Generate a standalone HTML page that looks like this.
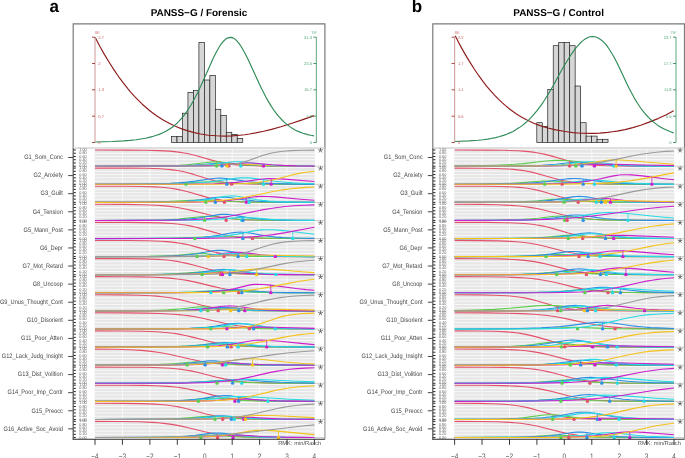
<!DOCTYPE html>
<html><head><meta charset="utf-8"><style>html,body{margin:0;padding:0;background:#fff;width:685px;height:458px;overflow:hidden}</style></head>
<body><svg width="685" height="458" viewBox="0 0 685 458" style="display:block;will-change:transform;text-rendering:geometricPrecision"><rect width="685" height="458" fill="#fff"/><text x="49.6" y="12.3" font-family="'Liberation Sans', sans-serif" font-weight="bold" font-size="17" fill="#000">a</text><text x="199.0" y="16.2" text-anchor="middle" font-family="'Liberation Sans', sans-serif" font-weight="bold" font-size="9.95" fill="#000">PANSS&#8722;G / Forensic</text><path d="M73.2 148.0 V23.9 H324.9 V148.0" fill="none" stroke="#7a7a7a" stroke-width="1.2"/><line x1="73.2" y1="148.0" x2="324.9" y2="148.0" stroke="#d4d4d4" stroke-width="1.4"/><rect x="171.50" y="136.4" width="5.48" height="6.00" fill="#d6d6d6" stroke="#222" stroke-width="0.7"/><rect x="176.98" y="136.4" width="5.48" height="6.00" fill="#d6d6d6" stroke="#222" stroke-width="0.7"/><rect x="182.46" y="113.2" width="5.48" height="29.20" fill="#d6d6d6" stroke="#222" stroke-width="0.7"/><rect x="187.94" y="92.4" width="5.48" height="50.00" fill="#d6d6d6" stroke="#222" stroke-width="0.7"/><rect x="193.42" y="90.4" width="5.48" height="52.00" fill="#d6d6d6" stroke="#222" stroke-width="0.7"/><rect x="198.90" y="42.4" width="5.48" height="100.00" fill="#d6d6d6" stroke="#222" stroke-width="0.7"/><rect x="204.38" y="80" width="5.48" height="62.40" fill="#d6d6d6" stroke="#222" stroke-width="0.7"/><rect x="209.86" y="75.6" width="5.48" height="66.80" fill="#d6d6d6" stroke="#222" stroke-width="0.7"/><rect x="215.34" y="109.3" width="5.48" height="33.10" fill="#d6d6d6" stroke="#222" stroke-width="0.7"/><rect x="220.82" y="115.4" width="5.48" height="27.00" fill="#d6d6d6" stroke="#222" stroke-width="0.7"/><rect x="226.30" y="132.3" width="5.48" height="10.10" fill="#d6d6d6" stroke="#222" stroke-width="0.7"/><rect x="231.78" y="134.4" width="5.48" height="8.00" fill="#d6d6d6" stroke="#222" stroke-width="0.7"/><rect x="237.26" y="138.4" width="5.48" height="4.00" fill="#d6d6d6" stroke="#222" stroke-width="0.7"/><polyline fill="none" stroke="#8e1b1b" stroke-width="1.15" stroke-linejoin="round" points="95.1,37.2 99.8,46.2 104.5,54.6 109.3,62.5 114,69.9 118.7,76.8 123.5,83.2 128.2,89.1 131.3,92.8 134.5,96.3 139.2,101.2 142.3,104.2 145.5,107 148.6,109.7 151.8,112.2 156.5,115.7 162.8,119.8 169.1,123.3 175.4,126.3 181.7,128.9 188,130.9 194.3,132.6 200.6,134 203.8,134.5 208.5,135.2 216.4,135.8 224.2,136.1 232.1,135.9 240,135.2 244.7,134.7 249.4,134 255.7,132.9 263.6,131.3 271.5,129.4 280.9,126.8 291.9,123.3 301.4,120.1 314,115.6"/><polyline fill="none" stroke="#2e8b57" stroke-width="1.15" stroke-linejoin="round" points="95.1,142 112.4,141.5 123.5,140.9 129.8,140.4 136.1,139.7 140.8,139 145.5,138.2 150.2,137.1 153.4,136.3 156.5,135.3 159.7,134.1 162.8,132.8 166,131.2 169.1,129.3 172.3,127.2 175.4,124.6 177,123.2 178.6,121.7 181.7,118.2 184.9,114.3 186.4,112.1 189.6,107.3 191.2,104.8 194.3,99.1 197.5,93 202.2,83 210.1,65.2 213.2,58.3 216.4,52 219.5,46.5 221.1,44.2 222.7,42.1 224.2,40.5 225.8,39.1 227.4,38.1 229,37.6 230.5,37.4 232.1,37.6 233.7,38.3 235.3,39.4 236.8,40.9 238.4,42.7 240,44.8 241.6,47.2 244.7,52.8 247.9,59.1 258.9,83 262,89.6 265.2,95.7 268.3,101.4 271.5,106.6 274.6,111.2 277.8,115.3 279.4,117.2 282.5,120.5 285.6,123.4 288.8,125.9 291.9,128.1 293.5,129 295.1,129.9 298.2,131.4 303,133.2 307.7,134.6 310.9,135.3 314,135.9"/><line x1="95.0" y1="37.2" x2="95.0" y2="142.5" stroke="#d6a9a9" stroke-width="1.2"/><line x1="92.0" y1="37.2" x2="95.0" y2="37.2" stroke="#9b3535" stroke-width="0.9"/><text x="98.3" y="38.6" font-family="'Liberation Sans', sans-serif" font-size="4.1" fill="#c45c5c">2.7</text><line x1="92.0" y1="63.5" x2="95.0" y2="63.5" stroke="#9b3535" stroke-width="0.9"/><text x="98.3" y="64.9" font-family="'Liberation Sans', sans-serif" font-size="4.1" fill="#c45c5c">2</text><line x1="92.0" y1="89.8" x2="95.0" y2="89.8" stroke="#9b3535" stroke-width="0.9"/><text x="98.3" y="91.2" font-family="'Liberation Sans', sans-serif" font-size="4.1" fill="#c45c5c">1.3</text><line x1="92.0" y1="116.2" x2="95.0" y2="116.2" stroke="#9b3535" stroke-width="0.9"/><text x="98.3" y="117.6" font-family="'Liberation Sans', sans-serif" font-size="4.1" fill="#c45c5c">0.7</text><line x1="92.0" y1="142.5" x2="95.0" y2="142.5" stroke="#9b3535" stroke-width="0.9"/><text x="98.3" y="143.9" font-family="'Liberation Sans', sans-serif" font-size="4.1" fill="#c45c5c">0</text><text x="94.8" y="34.400000000000006" font-family="'Liberation Sans', sans-serif" font-size="3.8" fill="#c45c5c">SE</text><line x1="316.4" y1="37.2" x2="316.4" y2="142.5" stroke="#79b690" stroke-width="1.2"/><line x1="313.4" y1="37.2" x2="316.4" y2="37.2" stroke="#3a8a5c" stroke-width="0.9"/><text x="312.0" y="38.6" text-anchor="end" font-family="'Liberation Sans', sans-serif" font-size="4.1" fill="#4ea673">31.3</text><line x1="313.4" y1="63.5" x2="316.4" y2="63.5" stroke="#3a8a5c" stroke-width="0.9"/><text x="312.0" y="64.9" text-anchor="end" font-family="'Liberation Sans', sans-serif" font-size="4.1" fill="#4ea673">23.5</text><line x1="313.4" y1="89.8" x2="316.4" y2="89.8" stroke="#3a8a5c" stroke-width="0.9"/><text x="312.0" y="91.2" text-anchor="end" font-family="'Liberation Sans', sans-serif" font-size="4.1" fill="#4ea673">15.7</text><line x1="313.4" y1="116.2" x2="316.4" y2="116.2" stroke="#3a8a5c" stroke-width="0.9"/><text x="312.0" y="117.6" text-anchor="end" font-family="'Liberation Sans', sans-serif" font-size="4.1" fill="#4ea673">7.8</text><line x1="313.4" y1="142.5" x2="316.4" y2="142.5" stroke="#3a8a5c" stroke-width="0.9"/><text x="312.0" y="143.9" text-anchor="end" font-family="'Liberation Sans', sans-serif" font-size="4.1" fill="#4ea673">0</text><text x="316.9" y="34.400000000000006" text-anchor="end" font-family="'Liberation Sans', sans-serif" font-size="3.8" fill="#4ea673">TIF</text><rect x="94.7" y="149.51" width="220.0" height="17.17" fill="#e6e6e6"/><line x1="94.7" x2="314.7" y1="162.96" y2="162.96" stroke="#fafafa" stroke-width="0.9"/><line x1="94.7" x2="314.7" y1="159.72" y2="159.72" stroke="#fafafa" stroke-width="0.9"/><line x1="94.7" x2="314.7" y1="156.48" y2="156.48" stroke="#fafafa" stroke-width="0.9"/><line x1="94.7" x2="314.7" y1="153.24" y2="153.24" stroke="#fafafa" stroke-width="0.9"/><line x1="122.4" x2="122.4" y1="149.51" y2="166.69" stroke="#fafafa" stroke-width="0.9"/><line x1="149.9" x2="149.9" y1="149.51" y2="166.69" stroke="#fafafa" stroke-width="0.9"/><line x1="177.3" x2="177.3" y1="149.51" y2="166.69" stroke="#fafafa" stroke-width="0.9"/><line x1="204.7" x2="204.7" y1="149.51" y2="166.69" stroke="#fafafa" stroke-width="0.9"/><line x1="232.2" x2="232.2" y1="149.51" y2="166.69" stroke="#fafafa" stroke-width="0.9"/><line x1="259.6" x2="259.6" y1="149.51" y2="166.69" stroke="#fafafa" stroke-width="0.9"/><line x1="287.0" x2="287.0" y1="149.51" y2="166.69" stroke="#fafafa" stroke-width="0.9"/><polyline fill="none" stroke="#e4506a" stroke-width="1.1" stroke-linejoin="round" points="95,150 127.9,150.1 145.7,150.2 159.5,150.6 169.1,151.1 174.5,151.6 178.7,152.1 184.1,153 188.3,153.7 192.4,154.7 196.5,155.7 211.6,160.1 218.4,161.8 222.5,162.7 226.7,163.5 230.8,164.1 234.9,164.6 240.4,165.1 245.9,165.4 259.6,165.9 278.8,166.1 314.4,166.2"/><polyline fill="none" stroke="#5cce4c" stroke-width="1.1" stroke-linejoin="round" points="95,166.2 145.7,166.1 160.8,165.9 171.8,165.6 180,165.2 186.9,164.7 193.7,164 208.8,162.2 212.9,161.9 215.7,161.8 218.4,161.9 222.5,162.2 236.3,163.9 243.1,164.6 250,165.1 256.8,165.5 266.4,165.8 277.4,166 314.4,166.2"/><polyline fill="none" stroke="#2b8fe6" stroke-width="1.1" stroke-linejoin="round" points="95,166.2 151.2,166.1 166.3,166 178.7,165.8 186.9,165.5 195.1,165.1 202,164.6 217.1,163.2 221.2,163 223.9,163 226.7,163 230.8,163.2 244.5,164.5 251.4,165 263.7,165.6 282.9,166 314.4,166.2"/><polyline fill="none" stroke="#f4c21a" stroke-width="1.1" stroke-linejoin="round" points="95,166.2 152.6,166.1 181.4,165.9 199.2,165.4 223.9,164 232.2,163.8 240.4,164 259.6,165.1 273.3,165.6 291.1,166 314.4,166.1"/><polyline fill="none" stroke="#26dbe3" stroke-width="1.1" stroke-linejoin="round" points="95,166.2 162.2,166.1 178.7,165.9 191,165.7 200.6,165.3 208.8,164.7 215.7,164 230.8,162 234.9,161.7 237.6,161.7 240.4,161.7 244.5,162 262.3,164.3 267.8,164.8 274.7,165.3 282.9,165.6 291.1,165.8 314.4,166.1"/><polyline fill="none" stroke="#cc1fcc" stroke-width="1.1" stroke-linejoin="round" points="95,166.2 170.4,166.1 188.3,166 200.6,165.9 210.2,165.6 218.4,165.2 226.7,164.6 241.8,163.2 245.9,163 248.6,163 251.4,163 255.5,163.2 271.9,164.7 282.9,165.4 296.6,165.9 314.4,166.1"/><polyline fill="none" stroke="#9a9a9a" stroke-width="1.1" stroke-linejoin="round" points="95,166.2 196.5,166.1 212.9,165.9 218.4,165.7 223.9,165.3 229.4,164.8 233.5,164.3 237.6,163.5 241.8,162.6 244.5,161.8 248.6,160.6 261,156.1 265.1,154.8 270.6,153.3 276,152.2 282.9,151.2 291.1,150.6 300.7,150.3 314.4,150.1"/><line x1="216.60" x2="216.60" y1="166.20" y2="161.83" stroke="#5cce4c" stroke-width="0.8"/><circle cx="216.60" cy="166.30" r="1.75" fill="#5cce4c"/><line x1="221.90" x2="221.90" y1="166.20" y2="162.98" stroke="#2b8fe6" stroke-width="0.8"/><circle cx="221.90" cy="166.30" r="1.75" fill="#2b8fe6"/><line x1="228.80" x2="228.80" y1="166.20" y2="163.81" stroke="#e4506a" stroke-width="0.8"/><circle cx="228.80" cy="166.30" r="1.75" fill="#e4506a"/><line x1="227.00" x2="227.00" y1="166.20" y2="163.85" stroke="#f4c21a" stroke-width="0.8"/><circle cx="227.00" cy="166.30" r="1.75" fill="#f4c21a"/><line x1="240.80" x2="240.80" y1="166.20" y2="161.75" stroke="#26dbe3" stroke-width="0.8"/><circle cx="240.80" cy="166.30" r="1.75" fill="#26dbe3"/><line x1="263.50" x2="263.50" y1="166.20" y2="163.95" stroke="#cc1fcc" stroke-width="0.8"/><circle cx="263.50" cy="166.30" r="1.75" fill="#cc1fcc"/><line x1="68.2" x2="73.2" y1="157.50" y2="157.50" stroke="#333" stroke-width="0.9"/><text transform="translate(62.9,159.30) scale(0.88,1)" text-anchor="end" font-family="'Liberation Sans', sans-serif" font-size="6.45" fill="#474747">G1_Som_Conc</text><line x1="73.2" x2="75.8" y1="150.00" y2="150.00" stroke="#222" stroke-width="1"/><text transform="translate(79.3,151.05) scale(1,0.78)" font-family="'Liberation Sans', sans-serif" font-size="3.8" fill="#606060" text-rendering="optimizeSpeed">1.00</text><line x1="73.2" x2="75.8" y1="153.24" y2="153.24" stroke="#222" stroke-width="1"/><text transform="translate(79.3,154.29) scale(1,0.78)" font-family="'Liberation Sans', sans-serif" font-size="3.8" fill="#606060" text-rendering="optimizeSpeed">0.80</text><line x1="73.2" x2="75.8" y1="156.48" y2="156.48" stroke="#222" stroke-width="1"/><text transform="translate(79.3,157.53) scale(1,0.78)" font-family="'Liberation Sans', sans-serif" font-size="3.8" fill="#606060" text-rendering="optimizeSpeed">0.60</text><line x1="73.2" x2="75.8" y1="159.72" y2="159.72" stroke="#222" stroke-width="1"/><text transform="translate(79.3,160.77) scale(1,0.78)" font-family="'Liberation Sans', sans-serif" font-size="3.8" fill="#606060" text-rendering="optimizeSpeed">0.40</text><line x1="73.2" x2="75.8" y1="162.96" y2="162.96" stroke="#222" stroke-width="1"/><text transform="translate(79.3,164.01) scale(1,0.78)" font-family="'Liberation Sans', sans-serif" font-size="3.8" fill="#606060" text-rendering="optimizeSpeed">0.20</text><line x1="73.2" x2="75.8" y1="166.20" y2="166.20" stroke="#222" stroke-width="1"/><text transform="translate(79.3,167.25) scale(1,0.78)" font-family="'Liberation Sans', sans-serif" font-size="3.8" fill="#606060" text-rendering="optimizeSpeed">0.00</text><line x1="314.7" x2="324.9" y1="166.20" y2="166.20" stroke="#b4b4b4" stroke-width="0.7"/><path d="M320.50 150.40L320.50 148.30M320.50 150.40L322.50 149.75M320.50 150.40L321.73 152.10M320.50 150.40L319.27 152.10M320.50 150.40L318.50 149.75" stroke="#606060" stroke-width="0.85" stroke-linecap="round" fill="none"/><rect x="94.7" y="167.60" width="220.0" height="17.17" fill="#e6e6e6"/><line x1="94.7" x2="314.7" y1="181.05" y2="181.05" stroke="#fafafa" stroke-width="0.9"/><line x1="94.7" x2="314.7" y1="177.81" y2="177.81" stroke="#fafafa" stroke-width="0.9"/><line x1="94.7" x2="314.7" y1="174.57" y2="174.57" stroke="#fafafa" stroke-width="0.9"/><line x1="94.7" x2="314.7" y1="171.33" y2="171.33" stroke="#fafafa" stroke-width="0.9"/><line x1="122.4" x2="122.4" y1="167.60" y2="184.78" stroke="#fafafa" stroke-width="0.9"/><line x1="149.9" x2="149.9" y1="167.60" y2="184.78" stroke="#fafafa" stroke-width="0.9"/><line x1="177.3" x2="177.3" y1="167.60" y2="184.78" stroke="#fafafa" stroke-width="0.9"/><line x1="204.7" x2="204.7" y1="167.60" y2="184.78" stroke="#fafafa" stroke-width="0.9"/><line x1="232.2" x2="232.2" y1="167.60" y2="184.78" stroke="#fafafa" stroke-width="0.9"/><line x1="259.6" x2="259.6" y1="167.60" y2="184.78" stroke="#fafafa" stroke-width="0.9"/><line x1="287.0" x2="287.0" y1="167.60" y2="184.78" stroke="#fafafa" stroke-width="0.9"/><polyline fill="none" stroke="#e4506a" stroke-width="1.1" stroke-linejoin="round" points="95,168.1 129.3,168.1 147.1,168.3 160.8,168.8 166.3,169.2 170.4,169.6 174.5,170.1 178.7,170.7 182.8,171.5 186.9,172.5 193.7,174.4 207.5,178.8 211.6,179.9 215.7,180.9 219.8,181.7 223.9,182.3 228,182.8 233.5,183.3 243.1,183.8 256.8,184.1 276,184.3 314.4,184.3"/><polyline fill="none" stroke="#5cce4c" stroke-width="1.1" stroke-linejoin="round" points="95,184.3 137.5,184.2 162.2,183.9 177.3,183.4 202,182.1 210.2,181.9 217.1,182 239,183.3 255.5,183.8 277.4,184.1 314.4,184.3"/><polyline fill="none" stroke="#2b8fe6" stroke-width="1.1" stroke-linejoin="round" points="95,184.3 143,184.1 158.1,183.8 170.4,183.4 178.7,182.9 186.9,182.1 195.1,181.1 211.6,178.7 215.7,178.3 219.8,178.1 223.9,178.3 228,178.7 243.1,180.9 248.6,181.7 255.5,182.4 263.7,183.1 273.3,183.5 284.3,183.9 298,184.1 314.4,184.2"/><polyline fill="none" stroke="#26dbe3" stroke-width="1.1" stroke-linejoin="round" points="95,184.3 132,184.2 155.3,184.1 173.2,183.8 186.9,183.4 197.9,182.8 207.5,182 217.1,180.9 234.9,178.4 240.4,177.9 244.5,177.8 248.6,177.9 254.1,178.4 274.7,181.2 285.6,182.3 292.5,182.9 299.4,183.2 314.4,183.8"/><polyline fill="none" stroke="#cc1fcc" stroke-width="1.1" stroke-linejoin="round" points="95,184.3 178.7,184.2 199.2,184 214.3,183.7 226.7,183.1 236.3,182.4 244.5,181.5 261,179.2 265.1,178.8 269.2,178.6 276,178.7 284.3,179.1 314.4,181.5"/><polyline fill="none" stroke="#f4c21a" stroke-width="1.1" stroke-linejoin="round" points="95,184.3 212.9,184.2 232.2,184 245.9,183.5 251.4,183.1 256.8,182.6 262.3,181.8 266.4,181.2 274.7,179.5 291.1,175.2 298,173.6 302.1,172.8 306.2,172.2 314.4,171.2"/><line x1="186.00" x2="186.00" y1="184.29" y2="183.01" stroke="#5cce4c" stroke-width="0.8"/><circle cx="186.00" cy="184.39" r="1.75" fill="#5cce4c"/><line x1="226.80" x2="226.80" y1="184.29" y2="178.52" stroke="#2b8fe6" stroke-width="0.8"/><circle cx="226.80" cy="184.39" r="1.75" fill="#2b8fe6"/><line x1="231.70" x2="231.70" y1="184.29" y2="183.17" stroke="#e4506a" stroke-width="0.8"/><circle cx="231.70" cy="184.39" r="1.75" fill="#e4506a"/><line x1="263.50" x2="263.50" y1="184.29" y2="179.66" stroke="#26dbe3" stroke-width="0.8"/><circle cx="263.50" cy="184.39" r="1.75" fill="#26dbe3"/><line x1="271.20" x2="271.20" y1="184.29" y2="178.62" stroke="#cc1fcc" stroke-width="0.8"/><circle cx="271.20" cy="184.39" r="1.75" fill="#cc1fcc"/><line x1="68.2" x2="73.2" y1="175.59" y2="175.59" stroke="#333" stroke-width="0.9"/><text transform="translate(62.9,177.39) scale(0.88,1)" text-anchor="end" font-family="'Liberation Sans', sans-serif" font-size="6.45" fill="#474747">G2_Anxiety</text><line x1="73.2" x2="75.8" y1="168.09" y2="168.09" stroke="#222" stroke-width="1"/><text transform="translate(79.3,169.14) scale(1,0.78)" font-family="'Liberation Sans', sans-serif" font-size="3.8" fill="#606060" text-rendering="optimizeSpeed">1.00</text><line x1="73.2" x2="75.8" y1="171.33" y2="171.33" stroke="#222" stroke-width="1"/><text transform="translate(79.3,172.38) scale(1,0.78)" font-family="'Liberation Sans', sans-serif" font-size="3.8" fill="#606060" text-rendering="optimizeSpeed">0.80</text><line x1="73.2" x2="75.8" y1="174.57" y2="174.57" stroke="#222" stroke-width="1"/><text transform="translate(79.3,175.62) scale(1,0.78)" font-family="'Liberation Sans', sans-serif" font-size="3.8" fill="#606060" text-rendering="optimizeSpeed">0.60</text><line x1="73.2" x2="75.8" y1="177.81" y2="177.81" stroke="#222" stroke-width="1"/><text transform="translate(79.3,178.86) scale(1,0.78)" font-family="'Liberation Sans', sans-serif" font-size="3.8" fill="#606060" text-rendering="optimizeSpeed">0.40</text><line x1="73.2" x2="75.8" y1="181.05" y2="181.05" stroke="#222" stroke-width="1"/><text transform="translate(79.3,182.10) scale(1,0.78)" font-family="'Liberation Sans', sans-serif" font-size="3.8" fill="#606060" text-rendering="optimizeSpeed">0.20</text><line x1="73.2" x2="75.8" y1="184.29" y2="184.29" stroke="#222" stroke-width="1"/><text transform="translate(79.3,185.34) scale(1,0.78)" font-family="'Liberation Sans', sans-serif" font-size="3.8" fill="#606060" text-rendering="optimizeSpeed">0.00</text><line x1="314.7" x2="324.9" y1="184.29" y2="184.29" stroke="#b4b4b4" stroke-width="0.7"/><path d="M320.50 168.49L320.50 166.39M320.50 168.49L322.50 167.84M320.50 168.49L321.73 170.19M320.50 168.49L319.27 170.19M320.50 168.49L318.50 167.84" stroke="#606060" stroke-width="0.85" stroke-linecap="round" fill="none"/><rect x="94.7" y="185.69" width="220.0" height="17.17" fill="#e6e6e6"/><line x1="94.7" x2="314.7" y1="199.14" y2="199.14" stroke="#fafafa" stroke-width="0.9"/><line x1="94.7" x2="314.7" y1="195.90" y2="195.90" stroke="#fafafa" stroke-width="0.9"/><line x1="94.7" x2="314.7" y1="192.66" y2="192.66" stroke="#fafafa" stroke-width="0.9"/><line x1="94.7" x2="314.7" y1="189.42" y2="189.42" stroke="#fafafa" stroke-width="0.9"/><line x1="122.4" x2="122.4" y1="185.69" y2="202.87" stroke="#fafafa" stroke-width="0.9"/><line x1="149.9" x2="149.9" y1="185.69" y2="202.87" stroke="#fafafa" stroke-width="0.9"/><line x1="177.3" x2="177.3" y1="185.69" y2="202.87" stroke="#fafafa" stroke-width="0.9"/><line x1="204.7" x2="204.7" y1="185.69" y2="202.87" stroke="#fafafa" stroke-width="0.9"/><line x1="232.2" x2="232.2" y1="185.69" y2="202.87" stroke="#fafafa" stroke-width="0.9"/><line x1="259.6" x2="259.6" y1="185.69" y2="202.87" stroke="#fafafa" stroke-width="0.9"/><line x1="287.0" x2="287.0" y1="185.69" y2="202.87" stroke="#fafafa" stroke-width="0.9"/><polyline fill="none" stroke="#e4506a" stroke-width="1.1" stroke-linejoin="round" points="95,186.2 125.2,186.3 143,186.5 155.3,186.9 160.8,187.3 166.3,187.8 170.4,188.3 174.5,188.9 178.7,189.6 182.8,190.5 189.6,192.3 204.7,196.6 208.8,197.7 212.9,198.6 217.1,199.4 222.5,200.3 226.7,200.8 232.2,201.3 243.1,201.9 256.8,202.2 277.4,202.3 314.4,202.4"/><polyline fill="none" stroke="#5cce4c" stroke-width="1.1" stroke-linejoin="round" points="95,202.4 132,202.2 154,201.9 167.7,201.5 191,200.2 199.2,200 207.5,200.1 232.2,201.5 247.2,202 271.9,202.3 314.4,202.4"/><polyline fill="none" stroke="#2b8fe6" stroke-width="1.1" stroke-linejoin="round" points="95,202.4 151.2,202.2 166.3,202 177.3,201.7 185.5,201.2 193.7,200.5 200.6,199.7 214.3,197.6 218.4,197.2 222.5,197 225.3,197.1 229.4,197.5 243.1,199.6 248.6,200.3 254.1,200.9 261,201.4 270.6,201.8 281.5,202.1 314.4,202.3"/><polyline fill="none" stroke="#26dbe3" stroke-width="1.1" stroke-linejoin="round" points="95,202.4 156.7,202.2 173.2,202 185.5,201.6 193.7,201.1 202,200.3 210.2,199.1 221.2,197.1 225.3,196.4 229.4,196 232.2,195.9 234.9,196 239,196.5 251.4,198.8 256.8,199.7 262.3,200.4 269.2,201.1 277.4,201.6 287,201.9 299.4,202.2 314.4,202.3"/><polyline fill="none" stroke="#cc1fcc" stroke-width="1.1" stroke-linejoin="round" points="95,202.4 173.2,202.3 192.4,202.1 207.5,201.7 218.4,201.1 228,200.4 236.3,199.4 252.7,197 256.8,196.6 261,196.4 267.8,196.5 274.7,196.9 300.7,199.3 314.4,200.3"/><polyline fill="none" stroke="#f4c21a" stroke-width="1.1" stroke-linejoin="round" points="95,202.4 151.2,202.3 180,202.1 200.6,201.7 208.8,201.3 215.7,200.9 222.5,200.4 228,199.8 234.9,198.9 240.4,198.1 250,196.3 271.9,191.7 278.8,190.5 284.3,189.6 291.1,188.8 298,188.1 306.2,187.4 314.4,187"/><line x1="205.80" x2="205.80" y1="202.38" y2="200.07" stroke="#5cce4c" stroke-width="0.8"/><circle cx="205.80" cy="202.48" r="1.75" fill="#5cce4c"/><line x1="215.30" x2="215.30" y1="202.38" y2="197.45" stroke="#2b8fe6" stroke-width="0.8"/><circle cx="215.30" cy="202.48" r="1.75" fill="#2b8fe6"/><line x1="224.40" x2="224.40" y1="202.38" y2="200.51" stroke="#e4506a" stroke-width="0.8"/><circle cx="224.40" cy="202.48" r="1.75" fill="#e4506a"/><line x1="246.30" x2="246.30" y1="202.38" y2="197.92" stroke="#cc1fcc" stroke-width="0.8"/><circle cx="246.30" cy="202.48" r="1.75" fill="#cc1fcc"/><line x1="249.30" x2="249.30" y1="202.38" y2="198.37" stroke="#26dbe3" stroke-width="0.8"/><circle cx="249.30" cy="202.48" r="1.75" fill="#26dbe3"/><line x1="68.2" x2="73.2" y1="193.68" y2="193.68" stroke="#333" stroke-width="0.9"/><text transform="translate(62.9,195.48) scale(0.88,1)" text-anchor="end" font-family="'Liberation Sans', sans-serif" font-size="6.45" fill="#474747">G3_Guilt</text><line x1="73.2" x2="75.8" y1="186.18" y2="186.18" stroke="#222" stroke-width="1"/><text transform="translate(79.3,187.23) scale(1,0.78)" font-family="'Liberation Sans', sans-serif" font-size="3.8" fill="#606060" text-rendering="optimizeSpeed">1.00</text><line x1="73.2" x2="75.8" y1="189.42" y2="189.42" stroke="#222" stroke-width="1"/><text transform="translate(79.3,190.47) scale(1,0.78)" font-family="'Liberation Sans', sans-serif" font-size="3.8" fill="#606060" text-rendering="optimizeSpeed">0.80</text><line x1="73.2" x2="75.8" y1="192.66" y2="192.66" stroke="#222" stroke-width="1"/><text transform="translate(79.3,193.71) scale(1,0.78)" font-family="'Liberation Sans', sans-serif" font-size="3.8" fill="#606060" text-rendering="optimizeSpeed">0.60</text><line x1="73.2" x2="75.8" y1="195.90" y2="195.90" stroke="#222" stroke-width="1"/><text transform="translate(79.3,196.95) scale(1,0.78)" font-family="'Liberation Sans', sans-serif" font-size="3.8" fill="#606060" text-rendering="optimizeSpeed">0.40</text><line x1="73.2" x2="75.8" y1="199.14" y2="199.14" stroke="#222" stroke-width="1"/><text transform="translate(79.3,200.19) scale(1,0.78)" font-family="'Liberation Sans', sans-serif" font-size="3.8" fill="#606060" text-rendering="optimizeSpeed">0.20</text><line x1="73.2" x2="75.8" y1="202.38" y2="202.38" stroke="#222" stroke-width="1"/><text transform="translate(79.3,203.43) scale(1,0.78)" font-family="'Liberation Sans', sans-serif" font-size="3.8" fill="#606060" text-rendering="optimizeSpeed">0.00</text><line x1="314.7" x2="324.9" y1="202.38" y2="202.38" stroke="#b4b4b4" stroke-width="0.7"/><path d="M320.50 186.58L320.50 184.48M320.50 186.58L322.50 185.93M320.50 186.58L321.73 188.28M320.50 186.58L319.27 188.28M320.50 186.58L318.50 185.93" stroke="#606060" stroke-width="0.85" stroke-linecap="round" fill="none"/><rect x="94.7" y="203.78" width="220.0" height="17.17" fill="#e6e6e6"/><line x1="94.7" x2="314.7" y1="217.23" y2="217.23" stroke="#fafafa" stroke-width="0.9"/><line x1="94.7" x2="314.7" y1="213.99" y2="213.99" stroke="#fafafa" stroke-width="0.9"/><line x1="94.7" x2="314.7" y1="210.75" y2="210.75" stroke="#fafafa" stroke-width="0.9"/><line x1="94.7" x2="314.7" y1="207.51" y2="207.51" stroke="#fafafa" stroke-width="0.9"/><line x1="122.4" x2="122.4" y1="203.78" y2="220.96" stroke="#fafafa" stroke-width="0.9"/><line x1="149.9" x2="149.9" y1="203.78" y2="220.96" stroke="#fafafa" stroke-width="0.9"/><line x1="177.3" x2="177.3" y1="203.78" y2="220.96" stroke="#fafafa" stroke-width="0.9"/><line x1="204.7" x2="204.7" y1="203.78" y2="220.96" stroke="#fafafa" stroke-width="0.9"/><line x1="232.2" x2="232.2" y1="203.78" y2="220.96" stroke="#fafafa" stroke-width="0.9"/><line x1="259.6" x2="259.6" y1="203.78" y2="220.96" stroke="#fafafa" stroke-width="0.9"/><line x1="287.0" x2="287.0" y1="203.78" y2="220.96" stroke="#fafafa" stroke-width="0.9"/><polyline fill="none" stroke="#e4506a" stroke-width="1.1" stroke-linejoin="round" points="95,204.3 125.2,204.4 143,204.7 156.7,205.2 162.2,205.6 167.7,206.1 175.9,207.2 184.1,208.7 192.4,210.6 208.8,214.8 217.1,216.6 221.2,217.4 226.7,218.2 232.2,218.8 237.6,219.3 248.6,219.9 263.7,220.2 282.9,220.4 314.4,220.5"/><polyline fill="none" stroke="#5cce4c" stroke-width="1.1" stroke-linejoin="round" points="95,220.5 140.3,220.3 154,220.2 164.9,219.9 171.8,219.5 178.7,219.1 185.5,218.4 200.6,216.7 204.7,216.5 207.5,216.4 210.2,216.5 214.3,216.8 228,218.4 234.9,219 241.8,219.5 248.6,219.8 259.6,220.1 271.9,220.3 314.4,220.5"/><polyline fill="none" stroke="#2b8fe6" stroke-width="1.1" stroke-linejoin="round" points="95,220.5 152.6,220.3 167.7,220.1 180,219.6 188.3,219.1 196.5,218.3 203.3,217.3 217.1,214.9 221.2,214.4 223.9,214.3 226.7,214.4 230.8,214.7 234.9,215.4 244.5,217.1 250,218 256.8,218.8 263.7,219.3 271.9,219.8 282.9,220.1 296.6,220.3 314.4,220.4"/><polyline fill="none" stroke="#26dbe3" stroke-width="1.1" stroke-linejoin="round" points="95,220.5 166.3,220.4 184.1,220.3 196.5,220.1 206.1,219.9 214.3,219.5 222.5,218.9 237.6,217.6 244.5,217.4 251.4,217.7 267.8,219.1 278.8,219.7 293.9,220.2 314.4,220.4"/><polyline fill="none" stroke="#cc1fcc" stroke-width="1.1" stroke-linejoin="round" points="95,220.5 143,220.4 170.4,220.2 191,219.7 199.2,219.3 206.1,218.9 212.9,218.3 218.4,217.8 223.9,217.1 229.4,216.3 240.4,214.3 263.7,209.6 270.6,208.5 277.4,207.5 285.6,206.5 293.9,205.8 303.5,205.3 314.4,204.9"/><line x1="204.60" x2="204.60" y1="220.47" y2="216.47" stroke="#5cce4c" stroke-width="0.8"/><circle cx="204.60" cy="220.57" r="1.75" fill="#5cce4c"/><line x1="226.20" x2="226.20" y1="220.47" y2="218.11" stroke="#e4506a" stroke-width="0.8"/><circle cx="226.20" cy="220.57" r="1.75" fill="#e4506a"/><line x1="241.80" x2="241.80" y1="220.47" y2="217.42" stroke="#26dbe3" stroke-width="0.8"/><circle cx="241.80" cy="220.57" r="1.75" fill="#26dbe3"/><line x1="243.00" x2="243.00" y1="220.47" y2="216.86" stroke="#2b8fe6" stroke-width="0.8"/><circle cx="243.00" cy="220.57" r="1.75" fill="#2b8fe6"/><line x1="68.2" x2="73.2" y1="211.77" y2="211.77" stroke="#333" stroke-width="0.9"/><text transform="translate(62.9,213.57) scale(0.88,1)" text-anchor="end" font-family="'Liberation Sans', sans-serif" font-size="6.45" fill="#474747">G4_Tension</text><line x1="73.2" x2="75.8" y1="204.27" y2="204.27" stroke="#222" stroke-width="1"/><text transform="translate(79.3,205.32) scale(1,0.78)" font-family="'Liberation Sans', sans-serif" font-size="3.8" fill="#606060" text-rendering="optimizeSpeed">1.00</text><line x1="73.2" x2="75.8" y1="207.51" y2="207.51" stroke="#222" stroke-width="1"/><text transform="translate(79.3,208.56) scale(1,0.78)" font-family="'Liberation Sans', sans-serif" font-size="3.8" fill="#606060" text-rendering="optimizeSpeed">0.80</text><line x1="73.2" x2="75.8" y1="210.75" y2="210.75" stroke="#222" stroke-width="1"/><text transform="translate(79.3,211.80) scale(1,0.78)" font-family="'Liberation Sans', sans-serif" font-size="3.8" fill="#606060" text-rendering="optimizeSpeed">0.60</text><line x1="73.2" x2="75.8" y1="213.99" y2="213.99" stroke="#222" stroke-width="1"/><text transform="translate(79.3,215.04) scale(1,0.78)" font-family="'Liberation Sans', sans-serif" font-size="3.8" fill="#606060" text-rendering="optimizeSpeed">0.40</text><line x1="73.2" x2="75.8" y1="217.23" y2="217.23" stroke="#222" stroke-width="1"/><text transform="translate(79.3,218.28) scale(1,0.78)" font-family="'Liberation Sans', sans-serif" font-size="3.8" fill="#606060" text-rendering="optimizeSpeed">0.20</text><line x1="73.2" x2="75.8" y1="220.47" y2="220.47" stroke="#222" stroke-width="1"/><text transform="translate(79.3,221.52) scale(1,0.78)" font-family="'Liberation Sans', sans-serif" font-size="3.8" fill="#606060" text-rendering="optimizeSpeed">0.00</text><line x1="314.7" x2="324.9" y1="220.47" y2="220.47" stroke="#b4b4b4" stroke-width="0.7"/><path d="M320.50 204.67L320.50 202.57M320.50 204.67L322.50 204.02M320.50 204.67L321.73 206.37M320.50 204.67L319.27 206.37M320.50 204.67L318.50 204.02" stroke="#606060" stroke-width="0.85" stroke-linecap="round" fill="none"/><rect x="94.7" y="221.87" width="220.0" height="17.17" fill="#e6e6e6"/><line x1="94.7" x2="314.7" y1="235.32" y2="235.32" stroke="#fafafa" stroke-width="0.9"/><line x1="94.7" x2="314.7" y1="232.08" y2="232.08" stroke="#fafafa" stroke-width="0.9"/><line x1="94.7" x2="314.7" y1="228.84" y2="228.84" stroke="#fafafa" stroke-width="0.9"/><line x1="94.7" x2="314.7" y1="225.60" y2="225.60" stroke="#fafafa" stroke-width="0.9"/><line x1="122.4" x2="122.4" y1="221.87" y2="239.05" stroke="#fafafa" stroke-width="0.9"/><line x1="149.9" x2="149.9" y1="221.87" y2="239.05" stroke="#fafafa" stroke-width="0.9"/><line x1="177.3" x2="177.3" y1="221.87" y2="239.05" stroke="#fafafa" stroke-width="0.9"/><line x1="204.7" x2="204.7" y1="221.87" y2="239.05" stroke="#fafafa" stroke-width="0.9"/><line x1="232.2" x2="232.2" y1="221.87" y2="239.05" stroke="#fafafa" stroke-width="0.9"/><line x1="259.6" x2="259.6" y1="221.87" y2="239.05" stroke="#fafafa" stroke-width="0.9"/><line x1="287.0" x2="287.0" y1="221.87" y2="239.05" stroke="#fafafa" stroke-width="0.9"/><polyline fill="none" stroke="#e4506a" stroke-width="1.1" stroke-linejoin="round" points="95,222.4 127.9,222.4 147.1,222.6 160.8,222.9 171.8,223.5 177.3,224 181.4,224.5 186.9,225.3 191,226.1 195.1,227 199.2,228.1 214.3,232.4 221.2,234.2 225.3,235.1 229.4,235.8 233.5,236.5 237.6,236.9 243.1,237.4 248.6,237.8 262.3,238.3 281.5,238.5 314.4,238.6"/><polyline fill="none" stroke="#5cce4c" stroke-width="1.1" stroke-linejoin="round" points="95,238.5 140.3,238.5 167.7,238.2 184.1,237.9 211.6,236.8 221.2,236.6 230.8,236.8 252.7,237.7 267.8,238.1 287,238.4 314.4,238.5"/><polyline fill="none" stroke="#2b8fe6" stroke-width="1.1" stroke-linejoin="round" points="95,238.6 163.6,238.4 181.4,238.2 193.7,237.8 203.3,237.2 211.6,236.4 218.4,235.4 229.4,233.3 233.5,232.6 237.6,232.2 240.4,232.1 243.1,232.2 247.2,232.6 251.4,233.3 261,235.1 265.1,235.8 270.6,236.5 276,237.1 282.9,237.6 291.1,238 302.1,238.3 314.4,238.4"/><polyline fill="none" stroke="#26dbe3" stroke-width="1.1" stroke-linejoin="round" points="95,238.6 143,238.5 170.4,238.3 191,238 206.1,237.4 218.4,236.6 228,235.6 237.6,234.1 252.7,231.1 256.8,230.4 261,229.9 265.1,229.7 269.2,229.7 273.3,229.8 281.5,230.4 289.8,231.3 314.4,234.2"/><polyline fill="none" stroke="#cc1fcc" stroke-width="1.1" stroke-linejoin="round" points="95,238.6 166.3,238.5 200.6,238.4 225.3,238 234.9,237.8 243.1,237.4 251.4,236.9 258.2,236.4 266.4,235.5 273.3,234.6 285.6,232.6 306.2,228.7 314.4,227.3"/><line x1="194.70" x2="194.70" y1="238.56" y2="237.49" stroke="#5cce4c" stroke-width="0.8"/><circle cx="194.70" cy="238.66" r="1.75" fill="#5cce4c"/><line x1="242.90" x2="242.90" y1="238.56" y2="232.16" stroke="#2b8fe6" stroke-width="0.8"/><circle cx="242.90" cy="238.66" r="1.75" fill="#2b8fe6"/><circle cx="252.50" cy="238.66" r="1.75" fill="#e4506a"/><line x1="292.80" x2="292.80" y1="238.56" y2="231.63" stroke="#26dbe3" stroke-width="0.8"/><circle cx="292.80" cy="238.66" r="1.75" fill="#26dbe3"/><line x1="68.2" x2="73.2" y1="229.86" y2="229.86" stroke="#333" stroke-width="0.9"/><text transform="translate(62.9,231.66) scale(0.88,1)" text-anchor="end" font-family="'Liberation Sans', sans-serif" font-size="6.45" fill="#474747">G5_Mann_Post</text><line x1="73.2" x2="75.8" y1="222.36" y2="222.36" stroke="#222" stroke-width="1"/><text transform="translate(79.3,223.41) scale(1,0.78)" font-family="'Liberation Sans', sans-serif" font-size="3.8" fill="#606060" text-rendering="optimizeSpeed">1.00</text><line x1="73.2" x2="75.8" y1="225.60" y2="225.60" stroke="#222" stroke-width="1"/><text transform="translate(79.3,226.65) scale(1,0.78)" font-family="'Liberation Sans', sans-serif" font-size="3.8" fill="#606060" text-rendering="optimizeSpeed">0.80</text><line x1="73.2" x2="75.8" y1="228.84" y2="228.84" stroke="#222" stroke-width="1"/><text transform="translate(79.3,229.89) scale(1,0.78)" font-family="'Liberation Sans', sans-serif" font-size="3.8" fill="#606060" text-rendering="optimizeSpeed">0.60</text><line x1="73.2" x2="75.8" y1="232.08" y2="232.08" stroke="#222" stroke-width="1"/><text transform="translate(79.3,233.13) scale(1,0.78)" font-family="'Liberation Sans', sans-serif" font-size="3.8" fill="#606060" text-rendering="optimizeSpeed">0.40</text><line x1="73.2" x2="75.8" y1="235.32" y2="235.32" stroke="#222" stroke-width="1"/><text transform="translate(79.3,236.37) scale(1,0.78)" font-family="'Liberation Sans', sans-serif" font-size="3.8" fill="#606060" text-rendering="optimizeSpeed">0.20</text><line x1="73.2" x2="75.8" y1="238.56" y2="238.56" stroke="#222" stroke-width="1"/><text transform="translate(79.3,239.61) scale(1,0.78)" font-family="'Liberation Sans', sans-serif" font-size="3.8" fill="#606060" text-rendering="optimizeSpeed">0.00</text><line x1="314.7" x2="324.9" y1="238.56" y2="238.56" stroke="#b4b4b4" stroke-width="0.7"/><path d="M320.50 222.76L320.50 220.66M320.50 222.76L322.50 222.11M320.50 222.76L321.73 224.46M320.50 222.76L319.27 224.46M320.50 222.76L318.50 222.11" stroke="#606060" stroke-width="0.85" stroke-linecap="round" fill="none"/><rect x="94.7" y="239.96" width="220.0" height="17.17" fill="#e6e6e6"/><line x1="94.7" x2="314.7" y1="253.41" y2="253.41" stroke="#fafafa" stroke-width="0.9"/><line x1="94.7" x2="314.7" y1="250.17" y2="250.17" stroke="#fafafa" stroke-width="0.9"/><line x1="94.7" x2="314.7" y1="246.93" y2="246.93" stroke="#fafafa" stroke-width="0.9"/><line x1="94.7" x2="314.7" y1="243.69" y2="243.69" stroke="#fafafa" stroke-width="0.9"/><line x1="122.4" x2="122.4" y1="239.96" y2="257.14" stroke="#fafafa" stroke-width="0.9"/><line x1="149.9" x2="149.9" y1="239.96" y2="257.14" stroke="#fafafa" stroke-width="0.9"/><line x1="177.3" x2="177.3" y1="239.96" y2="257.14" stroke="#fafafa" stroke-width="0.9"/><line x1="204.7" x2="204.7" y1="239.96" y2="257.14" stroke="#fafafa" stroke-width="0.9"/><line x1="232.2" x2="232.2" y1="239.96" y2="257.14" stroke="#fafafa" stroke-width="0.9"/><line x1="259.6" x2="259.6" y1="239.96" y2="257.14" stroke="#fafafa" stroke-width="0.9"/><line x1="287.0" x2="287.0" y1="239.96" y2="257.14" stroke="#fafafa" stroke-width="0.9"/><polyline fill="none" stroke="#e4506a" stroke-width="1.1" stroke-linejoin="round" points="95,240.5 127.9,240.5 147.1,240.7 160.8,241.2 166.3,241.6 171.8,242.1 175.9,242.6 180,243.2 184.1,243.9 188.3,244.8 195.1,246.6 210.2,250.9 214.3,252 218.4,252.9 222.5,253.7 228,254.5 232.2,255 237.6,255.5 248.6,256.1 262.3,256.5 281.5,256.6 314.4,256.6"/><polyline fill="none" stroke="#5cce4c" stroke-width="1.1" stroke-linejoin="round" points="95,256.6 136.1,256.5 148.5,256.4 158.1,256.1 171.8,255.5 178.7,255 192.4,253.7 199.2,253.4 202,253.4 206.1,253.7 221.2,255 228,255.5 234.9,255.9 243.1,256.2 254.1,256.4 267.8,256.5 314.4,256.6"/><polyline fill="none" stroke="#2b8fe6" stroke-width="1.1" stroke-linejoin="round" points="95,256.6 148.5,256.5 163.6,256.2 174.5,255.8 182.8,255.3 191,254.5 197.9,253.5 208.8,251.5 212.9,250.8 217.1,250.4 219.8,250.3 222.5,250.4 226.7,250.9 240.4,253.4 247.2,254.4 252.7,255 259.6,255.5 269.2,256 280.2,256.3 293.9,256.5 314.4,256.6"/><polyline fill="none" stroke="#cc1fcc" stroke-width="1.1" stroke-linejoin="round" points="95,256.6 160.8,256.6 177.3,256.4 189.6,256.2 199.2,255.8 207.5,255.2 215.7,254.4 229.4,252.7 233.5,252.4 236.3,252.3 239,252.3 243.1,252.6 261,254.7 266.4,255.2 273.3,255.7 281.5,256.1 289.8,256.3 314.4,256.6"/><polyline fill="none" stroke="#26dbe3" stroke-width="1.1" stroke-linejoin="round" points="95,256.6 156.7,256.6 173.2,256.5 185.5,256.3 195.1,256 203.3,255.6 210.2,255.1 225.3,253.7 229.4,253.5 232.2,253.4 234.9,253.5 239,253.7 256.8,255.3 269.2,256 287,256.4 314.4,256.6"/><polyline fill="none" stroke="#f4c21a" stroke-width="1.1" stroke-linejoin="round" points="95,256.6 158.1,256.6 191,256.4 211.6,256.1 237.6,255.2 247.2,255 267.8,255.2 314.4,256"/><polyline fill="none" stroke="#9a9a9a" stroke-width="1.1" stroke-linejoin="round" points="95,256.6 196.5,256.6 212.9,256.3 219.8,256 225.3,255.7 230.8,255.2 234.9,254.6 239,254 243.1,253.1 247.2,252 251.4,250.8 263.7,246.7 267.8,245.5 273.3,244 278.8,242.9 285.6,241.9 293.9,241.2 303.5,240.8 314.4,240.6"/><line x1="197.10" x2="197.10" y1="256.65" y2="253.44" stroke="#5cce4c" stroke-width="0.8"/><circle cx="197.10" cy="256.75" r="1.75" fill="#5cce4c"/><circle cx="208.30" cy="256.75" r="1.75" fill="#f4c21a"/><line x1="224.00" x2="224.00" y1="256.65" y2="253.94" stroke="#e4506a" stroke-width="0.8"/><circle cx="224.00" cy="256.75" r="1.75" fill="#e4506a"/><line x1="238.10" x2="238.10" y1="256.65" y2="252.95" stroke="#2b8fe6" stroke-width="0.8"/><circle cx="238.10" cy="256.75" r="1.75" fill="#2b8fe6"/><line x1="246.80" x2="246.80" y1="256.65" y2="254.37" stroke="#26dbe3" stroke-width="0.8"/><circle cx="246.80" cy="256.75" r="1.75" fill="#26dbe3"/><circle cx="275.30" cy="256.75" r="1.75" fill="#cc1fcc"/><line x1="68.2" x2="73.2" y1="247.95" y2="247.95" stroke="#333" stroke-width="0.9"/><text transform="translate(62.9,249.75) scale(0.88,1)" text-anchor="end" font-family="'Liberation Sans', sans-serif" font-size="6.45" fill="#474747">G6_Depr</text><line x1="73.2" x2="75.8" y1="240.45" y2="240.45" stroke="#222" stroke-width="1"/><text transform="translate(79.3,241.50) scale(1,0.78)" font-family="'Liberation Sans', sans-serif" font-size="3.8" fill="#606060" text-rendering="optimizeSpeed">1.00</text><line x1="73.2" x2="75.8" y1="243.69" y2="243.69" stroke="#222" stroke-width="1"/><text transform="translate(79.3,244.74) scale(1,0.78)" font-family="'Liberation Sans', sans-serif" font-size="3.8" fill="#606060" text-rendering="optimizeSpeed">0.80</text><line x1="73.2" x2="75.8" y1="246.93" y2="246.93" stroke="#222" stroke-width="1"/><text transform="translate(79.3,247.98) scale(1,0.78)" font-family="'Liberation Sans', sans-serif" font-size="3.8" fill="#606060" text-rendering="optimizeSpeed">0.60</text><line x1="73.2" x2="75.8" y1="250.17" y2="250.17" stroke="#222" stroke-width="1"/><text transform="translate(79.3,251.22) scale(1,0.78)" font-family="'Liberation Sans', sans-serif" font-size="3.8" fill="#606060" text-rendering="optimizeSpeed">0.40</text><line x1="73.2" x2="75.8" y1="253.41" y2="253.41" stroke="#222" stroke-width="1"/><text transform="translate(79.3,254.46) scale(1,0.78)" font-family="'Liberation Sans', sans-serif" font-size="3.8" fill="#606060" text-rendering="optimizeSpeed">0.20</text><line x1="73.2" x2="75.8" y1="256.65" y2="256.65" stroke="#222" stroke-width="1"/><text transform="translate(79.3,257.70) scale(1,0.78)" font-family="'Liberation Sans', sans-serif" font-size="3.8" fill="#606060" text-rendering="optimizeSpeed">0.00</text><line x1="314.7" x2="324.9" y1="256.65" y2="256.65" stroke="#b4b4b4" stroke-width="0.7"/><path d="M320.50 240.85L320.50 238.75M320.50 240.85L322.50 240.20M320.50 240.85L321.73 242.55M320.50 240.85L319.27 242.55M320.50 240.85L318.50 240.20" stroke="#606060" stroke-width="0.85" stroke-linecap="round" fill="none"/><rect x="94.7" y="258.05" width="220.0" height="17.17" fill="#e6e6e6"/><line x1="94.7" x2="314.7" y1="271.50" y2="271.50" stroke="#fafafa" stroke-width="0.9"/><line x1="94.7" x2="314.7" y1="268.26" y2="268.26" stroke="#fafafa" stroke-width="0.9"/><line x1="94.7" x2="314.7" y1="265.02" y2="265.02" stroke="#fafafa" stroke-width="0.9"/><line x1="94.7" x2="314.7" y1="261.78" y2="261.78" stroke="#fafafa" stroke-width="0.9"/><line x1="122.4" x2="122.4" y1="258.05" y2="275.23" stroke="#fafafa" stroke-width="0.9"/><line x1="149.9" x2="149.9" y1="258.05" y2="275.23" stroke="#fafafa" stroke-width="0.9"/><line x1="177.3" x2="177.3" y1="258.05" y2="275.23" stroke="#fafafa" stroke-width="0.9"/><line x1="204.7" x2="204.7" y1="258.05" y2="275.23" stroke="#fafafa" stroke-width="0.9"/><line x1="232.2" x2="232.2" y1="258.05" y2="275.23" stroke="#fafafa" stroke-width="0.9"/><line x1="259.6" x2="259.6" y1="258.05" y2="275.23" stroke="#fafafa" stroke-width="0.9"/><line x1="287.0" x2="287.0" y1="258.05" y2="275.23" stroke="#fafafa" stroke-width="0.9"/><polyline fill="none" stroke="#e4506a" stroke-width="1.1" stroke-linejoin="round" points="95,258.6 126.5,258.6 144.4,258.9 158.1,259.4 163.6,259.8 169.1,260.3 177.3,261.4 181.4,262.2 185.5,263.1 192.4,264.8 208.8,269.2 217.1,271.1 221.2,271.8 226.7,272.6 230.8,273.1 236.3,273.6 247.2,274.2 261,274.5 280.2,274.7 314.4,274.7"/><polyline fill="none" stroke="#5cce4c" stroke-width="1.1" stroke-linejoin="round" points="95,274.7 137.5,274.6 162.2,274.2 177.3,273.6 185.5,273.1 202,271.8 206.1,271.6 210.2,271.5 217.1,271.7 239,273.4 247.2,273.8 255.5,274.1 277.4,274.5 314.4,274.7"/><polyline fill="none" stroke="#2b8fe6" stroke-width="1.1" stroke-linejoin="round" points="95,274.7 151.2,274.6 166.3,274.4 178.7,274.1 186.9,273.6 195.1,272.9 202,272.1 217.1,269.8 221.2,269.5 223.9,269.4 226.7,269.5 230.8,269.8 244.5,271.9 251.4,272.8 256.8,273.3 263.7,273.8 271.9,274.2 282.9,274.4 314.4,274.7"/><polyline fill="none" stroke="#26dbe3" stroke-width="1.1" stroke-linejoin="round" points="95,274.7 156.7,274.6 171.8,274.4 184.1,274.1 192.4,273.7 200.6,273.1 207.5,272.3 222.5,270.3 226.7,269.9 229.4,269.9 232.2,269.9 236.3,270.3 254.1,272.7 261,273.3 267.8,273.8 276,274.2 285.6,274.4 314.4,274.7"/><polyline fill="none" stroke="#cc1fcc" stroke-width="1.1" stroke-linejoin="round" points="95,274.7 154,274.7 181.4,274.4 197.9,273.9 204.7,273.5 219.8,272.5 226.7,272.3 233.5,272.5 251.4,273.7 265.1,274.3 284.3,274.6 314.4,274.7"/><polyline fill="none" stroke="#f4c21a" stroke-width="1.1" stroke-linejoin="round" points="95,274.7 166.3,274.6 185.5,274.3 200.6,273.9 211.6,273.4 222.5,272.7 232.2,271.7 248.6,269.6 254.1,269.1 258.2,268.9 265.1,269 273.3,269.4 302.1,271.8 314.4,272.6"/><polyline fill="none" stroke="#9a9a9a" stroke-width="1.1" stroke-linejoin="round" points="95,274.7 160.8,274.7 189.6,274.6 210.2,274.2 218.4,273.9 225.3,273.6 232.2,273 237.6,272.5 243.1,271.8 248.6,271 258.2,269.1 280.2,264.4 285.6,263.4 291.1,262.5 296.6,261.8 302.1,261.2 307.6,260.7 314.4,260.3"/><line x1="202.10" x2="202.10" y1="274.74" y2="271.77" stroke="#5cce4c" stroke-width="0.8"/><circle cx="202.10" cy="274.84" r="1.75" fill="#5cce4c"/><line x1="220.70" x2="220.70" y1="274.74" y2="271.75" stroke="#e4506a" stroke-width="0.8"/><circle cx="220.70" cy="274.84" r="1.75" fill="#e4506a"/><line x1="222.50" x2="222.50" y1="274.74" y2="272.39" stroke="#cc1fcc" stroke-width="0.8"/><circle cx="222.50" cy="274.84" r="1.75" fill="#cc1fcc"/><line x1="229.90" x2="229.90" y1="274.74" y2="269.73" stroke="#2b8fe6" stroke-width="0.8"/><circle cx="229.90" cy="274.84" r="1.75" fill="#2b8fe6"/><line x1="256.70" x2="256.70" y1="274.74" y2="268.96" stroke="#f4c21a" stroke-width="0.8"/><circle cx="256.70" cy="274.84" r="1.75" fill="#f4c21a"/><circle cx="275.80" cy="274.84" r="1.75" fill="#26dbe3"/><line x1="68.2" x2="73.2" y1="266.04" y2="266.04" stroke="#333" stroke-width="0.9"/><text transform="translate(62.9,267.84) scale(0.88,1)" text-anchor="end" font-family="'Liberation Sans', sans-serif" font-size="6.45" fill="#474747">G7_Mot_Retard</text><line x1="73.2" x2="75.8" y1="258.54" y2="258.54" stroke="#222" stroke-width="1"/><text transform="translate(79.3,259.59) scale(1,0.78)" font-family="'Liberation Sans', sans-serif" font-size="3.8" fill="#606060" text-rendering="optimizeSpeed">1.00</text><line x1="73.2" x2="75.8" y1="261.78" y2="261.78" stroke="#222" stroke-width="1"/><text transform="translate(79.3,262.83) scale(1,0.78)" font-family="'Liberation Sans', sans-serif" font-size="3.8" fill="#606060" text-rendering="optimizeSpeed">0.80</text><line x1="73.2" x2="75.8" y1="265.02" y2="265.02" stroke="#222" stroke-width="1"/><text transform="translate(79.3,266.07) scale(1,0.78)" font-family="'Liberation Sans', sans-serif" font-size="3.8" fill="#606060" text-rendering="optimizeSpeed">0.60</text><line x1="73.2" x2="75.8" y1="268.26" y2="268.26" stroke="#222" stroke-width="1"/><text transform="translate(79.3,269.31) scale(1,0.78)" font-family="'Liberation Sans', sans-serif" font-size="3.8" fill="#606060" text-rendering="optimizeSpeed">0.40</text><line x1="73.2" x2="75.8" y1="271.50" y2="271.50" stroke="#222" stroke-width="1"/><text transform="translate(79.3,272.55) scale(1,0.78)" font-family="'Liberation Sans', sans-serif" font-size="3.8" fill="#606060" text-rendering="optimizeSpeed">0.20</text><line x1="73.2" x2="75.8" y1="274.74" y2="274.74" stroke="#222" stroke-width="1"/><text transform="translate(79.3,275.79) scale(1,0.78)" font-family="'Liberation Sans', sans-serif" font-size="3.8" fill="#606060" text-rendering="optimizeSpeed">0.00</text><line x1="314.7" x2="324.9" y1="274.74" y2="274.74" stroke="#b4b4b4" stroke-width="0.7"/><path d="M320.50 258.94L320.50 256.84M320.50 258.94L322.50 258.29M320.50 258.94L321.73 260.64M320.50 258.94L319.27 260.64M320.50 258.94L318.50 258.29" stroke="#606060" stroke-width="0.85" stroke-linecap="round" fill="none"/><rect x="94.7" y="276.14" width="220.0" height="17.17" fill="#e6e6e6"/><line x1="94.7" x2="314.7" y1="289.59" y2="289.59" stroke="#fafafa" stroke-width="0.9"/><line x1="94.7" x2="314.7" y1="286.35" y2="286.35" stroke="#fafafa" stroke-width="0.9"/><line x1="94.7" x2="314.7" y1="283.11" y2="283.11" stroke="#fafafa" stroke-width="0.9"/><line x1="94.7" x2="314.7" y1="279.87" y2="279.87" stroke="#fafafa" stroke-width="0.9"/><line x1="122.4" x2="122.4" y1="276.14" y2="293.32" stroke="#fafafa" stroke-width="0.9"/><line x1="149.9" x2="149.9" y1="276.14" y2="293.32" stroke="#fafafa" stroke-width="0.9"/><line x1="177.3" x2="177.3" y1="276.14" y2="293.32" stroke="#fafafa" stroke-width="0.9"/><line x1="204.7" x2="204.7" y1="276.14" y2="293.32" stroke="#fafafa" stroke-width="0.9"/><line x1="232.2" x2="232.2" y1="276.14" y2="293.32" stroke="#fafafa" stroke-width="0.9"/><line x1="259.6" x2="259.6" y1="276.14" y2="293.32" stroke="#fafafa" stroke-width="0.9"/><line x1="287.0" x2="287.0" y1="276.14" y2="293.32" stroke="#fafafa" stroke-width="0.9"/><polyline fill="none" stroke="#e4506a" stroke-width="1.1" stroke-linejoin="round" points="95,276.6 123.8,276.7 141.6,276.9 155.3,277.3 166.3,277.9 171.8,278.4 177.3,279 182.8,279.7 186.9,280.4 196.5,282.4 212.9,286.4 221.2,288.3 229.4,289.7 233.5,290.3 239,291 244.5,291.5 251.4,291.9 265.1,292.4 284.3,292.7 314.4,292.8"/><polyline fill="none" stroke="#26dbe3" stroke-width="1.1" stroke-linejoin="round" points="95,292.8 149.9,292.8 175.9,292.5 192.4,292 199.2,291.6 214.3,290.6 221.2,290.4 228,290.6 248.6,291.9 261,292.4 281.5,292.7 314.4,292.8"/><polyline fill="none" stroke="#5cce4c" stroke-width="1.1" stroke-linejoin="round" points="95,292.8 154,292.8 181.4,292.5 197.9,292 204.7,291.6 219.8,290.6 226.7,290.4 233.5,290.6 251.4,291.8 265.1,292.4 284.3,292.7 314.4,292.8"/><polyline fill="none" stroke="#2b8fe6" stroke-width="1.1" stroke-linejoin="round" points="95,292.8 159.5,292.8 175.9,292.7 188.3,292.5 197.9,292.2 206.1,291.7 212.9,291.2 228,289.9 232.2,289.6 234.9,289.6 237.6,289.6 241.8,289.9 259.6,291.5 271.9,292.2 288.4,292.6 314.4,292.8"/><polyline fill="none" stroke="#cc1fcc" stroke-width="1.1" stroke-linejoin="round" points="95,292.8 175.9,292.7 193.7,292.5 207.5,292 212.9,291.6 218.4,291.2 226.7,290.2 230.8,289.4 234.9,288.6 245.9,285.9 250,284.9 254.1,284.4 256.8,284.2 263.7,284.5 270.6,285.1 298,288.7 306.2,289.6 314.4,290.3"/><polyline fill="none" stroke="#f4c21a" stroke-width="1.1" stroke-linejoin="round" points="95,292.8 162.2,292.8 193.7,292.6 217.1,292.2 225.3,292 233.5,291.5 240.4,291.1 247.2,290.4 254.1,289.6 259.6,288.8 270.6,286.9 289.8,283.1 298,281.5 306.2,280.2 314.4,279.2"/><line x1="210.80" x2="210.80" y1="292.83" y2="290.81" stroke="#26dbe3" stroke-width="0.8"/><circle cx="210.80" cy="292.93" r="1.75" fill="#26dbe3"/><line x1="223.70" x2="223.70" y1="292.83" y2="290.44" stroke="#5cce4c" stroke-width="0.8"/><circle cx="223.70" cy="292.93" r="1.75" fill="#5cce4c"/><line x1="238.60" x2="238.60" y1="292.83" y2="290.92" stroke="#e4506a" stroke-width="0.8"/><circle cx="238.60" cy="292.93" r="1.75" fill="#e4506a"/><line x1="241.80" x2="241.80" y1="292.83" y2="289.86" stroke="#2b8fe6" stroke-width="0.8"/><circle cx="241.80" cy="292.93" r="1.75" fill="#2b8fe6"/><line x1="270.80" x2="270.80" y1="292.83" y2="285.09" stroke="#cc1fcc" stroke-width="0.8"/><circle cx="270.80" cy="292.93" r="1.75" fill="#cc1fcc"/><line x1="68.2" x2="73.2" y1="284.13" y2="284.13" stroke="#333" stroke-width="0.9"/><text transform="translate(62.9,285.93) scale(0.88,1)" text-anchor="end" font-family="'Liberation Sans', sans-serif" font-size="6.45" fill="#474747">G8_Uncoop</text><line x1="73.2" x2="75.8" y1="276.63" y2="276.63" stroke="#222" stroke-width="1"/><text transform="translate(79.3,277.68) scale(1,0.78)" font-family="'Liberation Sans', sans-serif" font-size="3.8" fill="#606060" text-rendering="optimizeSpeed">1.00</text><line x1="73.2" x2="75.8" y1="279.87" y2="279.87" stroke="#222" stroke-width="1"/><text transform="translate(79.3,280.92) scale(1,0.78)" font-family="'Liberation Sans', sans-serif" font-size="3.8" fill="#606060" text-rendering="optimizeSpeed">0.80</text><line x1="73.2" x2="75.8" y1="283.11" y2="283.11" stroke="#222" stroke-width="1"/><text transform="translate(79.3,284.16) scale(1,0.78)" font-family="'Liberation Sans', sans-serif" font-size="3.8" fill="#606060" text-rendering="optimizeSpeed">0.60</text><line x1="73.2" x2="75.8" y1="286.35" y2="286.35" stroke="#222" stroke-width="1"/><text transform="translate(79.3,287.40) scale(1,0.78)" font-family="'Liberation Sans', sans-serif" font-size="3.8" fill="#606060" text-rendering="optimizeSpeed">0.40</text><line x1="73.2" x2="75.8" y1="289.59" y2="289.59" stroke="#222" stroke-width="1"/><text transform="translate(79.3,290.64) scale(1,0.78)" font-family="'Liberation Sans', sans-serif" font-size="3.8" fill="#606060" text-rendering="optimizeSpeed">0.20</text><line x1="73.2" x2="75.8" y1="292.83" y2="292.83" stroke="#222" stroke-width="1"/><text transform="translate(79.3,293.88) scale(1,0.78)" font-family="'Liberation Sans', sans-serif" font-size="3.8" fill="#606060" text-rendering="optimizeSpeed">0.00</text><line x1="314.7" x2="324.9" y1="292.83" y2="292.83" stroke="#b4b4b4" stroke-width="0.7"/><path d="M320.50 277.03L320.50 274.93M320.50 277.03L322.50 276.38M320.50 277.03L321.73 278.73M320.50 277.03L319.27 278.73M320.50 277.03L318.50 276.38" stroke="#606060" stroke-width="0.85" stroke-linecap="round" fill="none"/><rect x="94.7" y="294.23" width="220.0" height="17.17" fill="#e6e6e6"/><line x1="94.7" x2="314.7" y1="307.68" y2="307.68" stroke="#fafafa" stroke-width="0.9"/><line x1="94.7" x2="314.7" y1="304.44" y2="304.44" stroke="#fafafa" stroke-width="0.9"/><line x1="94.7" x2="314.7" y1="301.20" y2="301.20" stroke="#fafafa" stroke-width="0.9"/><line x1="94.7" x2="314.7" y1="297.96" y2="297.96" stroke="#fafafa" stroke-width="0.9"/><line x1="122.4" x2="122.4" y1="294.23" y2="311.41" stroke="#fafafa" stroke-width="0.9"/><line x1="149.9" x2="149.9" y1="294.23" y2="311.41" stroke="#fafafa" stroke-width="0.9"/><line x1="177.3" x2="177.3" y1="294.23" y2="311.41" stroke="#fafafa" stroke-width="0.9"/><line x1="204.7" x2="204.7" y1="294.23" y2="311.41" stroke="#fafafa" stroke-width="0.9"/><line x1="232.2" x2="232.2" y1="294.23" y2="311.41" stroke="#fafafa" stroke-width="0.9"/><line x1="259.6" x2="259.6" y1="294.23" y2="311.41" stroke="#fafafa" stroke-width="0.9"/><line x1="287.0" x2="287.0" y1="294.23" y2="311.41" stroke="#fafafa" stroke-width="0.9"/><polyline fill="none" stroke="#e4506a" stroke-width="1.1" stroke-linejoin="round" points="95,294.7 121.1,294.9 138.9,295.2 151.2,295.7 156.7,296.1 162.2,296.7 170.4,297.8 178.7,299.4 185.5,301 202,305.3 210.2,307.1 214.3,307.8 219.8,308.6 225.3,309.2 230.8,309.7 243.1,310.4 258.2,310.7 278.8,310.9 314.4,310.9"/><polyline fill="none" stroke="#5cce4c" stroke-width="1.1" stroke-linejoin="round" points="95,310.9 136.1,310.8 148.5,310.6 159.5,310.3 167.7,309.9 174.5,309.4 181.4,308.8 195.1,307.2 199.2,306.9 202,306.9 204.7,306.9 208.8,307.2 222.5,308.8 229.4,309.4 236.3,309.9 244.5,310.3 255.5,310.6 269.2,310.8 314.4,310.9"/><polyline fill="none" stroke="#26dbe3" stroke-width="1.1" stroke-linejoin="round" points="95,310.9 145.7,310.8 160.8,310.7 171.8,310.5 180,310.2 186.9,309.8 193.7,309.3 208.8,307.9 212.9,307.7 215.7,307.7 218.4,307.7 222.5,307.9 236.3,309.2 243.1,309.7 250,310.1 256.8,310.4 277.4,310.8 314.4,310.9"/><polyline fill="none" stroke="#2b8fe6" stroke-width="1.1" stroke-linejoin="round" points="95,310.9 151.2,310.8 166.3,310.7 178.7,310.5 186.9,310.2 195.1,309.7 202,309.2 217.1,307.6 221.2,307.4 223.9,307.4 226.7,307.4 230.8,307.6 244.5,309 251.4,309.6 263.7,310.3 271.9,310.5 282.9,310.7 314.4,310.9"/><polyline fill="none" stroke="#cc1fcc" stroke-width="1.1" stroke-linejoin="round" points="95,310.9 156.7,310.8 171.8,310.6 184.1,310.3 192.4,309.9 200.6,309.2 207.5,308.4 222.5,306.3 226.7,306 229.4,305.9 232.2,306 236.3,306.3 254.1,308.8 261,309.5 267.8,310 276,310.3 285.6,310.6 314.4,310.9"/><polyline fill="none" stroke="#f4c21a" stroke-width="1.1" stroke-linejoin="round" points="95,310.9 158.1,310.9 191,310.6 211.6,310.2 237.6,309.2 247.2,309 267.8,309.1 314.4,310.1"/><polyline fill="none" stroke="#9a9a9a" stroke-width="1.1" stroke-linejoin="round" points="95,310.9 155.3,310.9 182.8,310.7 202,310.4 208.8,310.1 215.7,309.7 221.2,309.2 226.7,308.6 232.2,307.8 237.6,306.9 247.2,304.8 262.3,301.1 267.8,299.9 274.7,298.5 280.2,297.6 287,296.7 295.2,296 303.5,295.5 314.4,295.1"/><line x1="200.90" x2="200.90" y1="310.92" y2="308.66" stroke="#26dbe3" stroke-width="0.8"/><circle cx="200.90" cy="311.02" r="1.75" fill="#26dbe3"/><line x1="207.80" x2="207.80" y1="310.92" y2="307.11" stroke="#5cce4c" stroke-width="0.8"/><circle cx="207.80" cy="311.02" r="1.75" fill="#5cce4c"/><line x1="218.20" x2="218.20" y1="310.92" y2="308.41" stroke="#e4506a" stroke-width="0.8"/><circle cx="218.20" cy="311.02" r="1.75" fill="#e4506a"/><line x1="230.60" x2="230.60" y1="310.92" y2="309.49" stroke="#f4c21a" stroke-width="0.8"/><circle cx="230.60" cy="311.02" r="1.75" fill="#f4c21a"/><line x1="238.80" x2="238.80" y1="310.92" y2="308.44" stroke="#2b8fe6" stroke-width="0.8"/><circle cx="238.80" cy="311.02" r="1.75" fill="#2b8fe6"/><line x1="244.80" x2="244.80" y1="310.92" y2="307.50" stroke="#cc1fcc" stroke-width="0.8"/><circle cx="244.80" cy="311.02" r="1.75" fill="#cc1fcc"/><line x1="68.2" x2="73.2" y1="302.22" y2="302.22" stroke="#333" stroke-width="0.9"/><text transform="translate(62.9,304.02) scale(0.88,1)" text-anchor="end" font-family="'Liberation Sans', sans-serif" font-size="6.45" fill="#474747">G9_Unus_Thought_Cont</text><line x1="73.2" x2="75.8" y1="294.72" y2="294.72" stroke="#222" stroke-width="1"/><text transform="translate(79.3,295.77) scale(1,0.78)" font-family="'Liberation Sans', sans-serif" font-size="3.8" fill="#606060" text-rendering="optimizeSpeed">1.00</text><line x1="73.2" x2="75.8" y1="297.96" y2="297.96" stroke="#222" stroke-width="1"/><text transform="translate(79.3,299.01) scale(1,0.78)" font-family="'Liberation Sans', sans-serif" font-size="3.8" fill="#606060" text-rendering="optimizeSpeed">0.80</text><line x1="73.2" x2="75.8" y1="301.20" y2="301.20" stroke="#222" stroke-width="1"/><text transform="translate(79.3,302.25) scale(1,0.78)" font-family="'Liberation Sans', sans-serif" font-size="3.8" fill="#606060" text-rendering="optimizeSpeed">0.60</text><line x1="73.2" x2="75.8" y1="304.44" y2="304.44" stroke="#222" stroke-width="1"/><text transform="translate(79.3,305.49) scale(1,0.78)" font-family="'Liberation Sans', sans-serif" font-size="3.8" fill="#606060" text-rendering="optimizeSpeed">0.40</text><line x1="73.2" x2="75.8" y1="307.68" y2="307.68" stroke="#222" stroke-width="1"/><text transform="translate(79.3,308.73) scale(1,0.78)" font-family="'Liberation Sans', sans-serif" font-size="3.8" fill="#606060" text-rendering="optimizeSpeed">0.20</text><line x1="73.2" x2="75.8" y1="310.92" y2="310.92" stroke="#222" stroke-width="1"/><text transform="translate(79.3,311.97) scale(1,0.78)" font-family="'Liberation Sans', sans-serif" font-size="3.8" fill="#606060" text-rendering="optimizeSpeed">0.00</text><line x1="314.7" x2="324.9" y1="310.92" y2="310.92" stroke="#b4b4b4" stroke-width="0.7"/><path d="M320.50 295.12L320.50 293.02M320.50 295.12L322.50 294.47M320.50 295.12L321.73 296.82M320.50 295.12L319.27 296.82M320.50 295.12L318.50 294.47" stroke="#606060" stroke-width="0.85" stroke-linecap="round" fill="none"/><rect x="94.7" y="312.32" width="220.0" height="17.17" fill="#e6e6e6"/><line x1="94.7" x2="314.7" y1="325.77" y2="325.77" stroke="#fafafa" stroke-width="0.9"/><line x1="94.7" x2="314.7" y1="322.53" y2="322.53" stroke="#fafafa" stroke-width="0.9"/><line x1="94.7" x2="314.7" y1="319.29" y2="319.29" stroke="#fafafa" stroke-width="0.9"/><line x1="94.7" x2="314.7" y1="316.05" y2="316.05" stroke="#fafafa" stroke-width="0.9"/><line x1="122.4" x2="122.4" y1="312.32" y2="329.50" stroke="#fafafa" stroke-width="0.9"/><line x1="149.9" x2="149.9" y1="312.32" y2="329.50" stroke="#fafafa" stroke-width="0.9"/><line x1="177.3" x2="177.3" y1="312.32" y2="329.50" stroke="#fafafa" stroke-width="0.9"/><line x1="204.7" x2="204.7" y1="312.32" y2="329.50" stroke="#fafafa" stroke-width="0.9"/><line x1="232.2" x2="232.2" y1="312.32" y2="329.50" stroke="#fafafa" stroke-width="0.9"/><line x1="259.6" x2="259.6" y1="312.32" y2="329.50" stroke="#fafafa" stroke-width="0.9"/><line x1="287.0" x2="287.0" y1="312.32" y2="329.50" stroke="#fafafa" stroke-width="0.9"/><polyline fill="none" stroke="#e4506a" stroke-width="1.1" stroke-linejoin="round" points="95,312.8 126.5,312.9 145.7,313.1 160.8,313.5 173.2,314.2 178.7,314.6 184.1,315.2 189.6,315.9 195.1,316.8 204.7,318.7 221.2,322.5 229.4,324.3 237.6,325.7 247.2,326.9 258.2,327.8 271.9,328.5 289.8,328.8 314.4,329"/><polyline fill="none" stroke="#5cce4c" stroke-width="1.1" stroke-linejoin="round" points="95,329 149.9,328.9 175.9,328.7 192.4,328.2 199.2,327.8 214.3,326.8 221.2,326.6 228,326.8 248.6,328.1 261,328.6 281.5,328.9 314.4,329"/><polyline fill="none" stroke="#2b8fe6" stroke-width="1.1" stroke-linejoin="round" points="95,329 160.8,328.9 177.3,328.7 189.6,328.4 199.2,327.9 207.5,327.2 215.7,326.1 229.4,323.9 233.5,323.5 236.3,323.3 239,323.4 243.1,323.7 247.2,324.3 261,326.5 266.4,327.2 273.3,327.8 281.5,328.3 289.8,328.6 300.7,328.8 314.4,328.9"/><polyline fill="none" stroke="#26dbe3" stroke-width="1.1" stroke-linejoin="round" points="95,329 164.9,328.9 182.8,328.7 195.1,328.4 204.7,327.9 212.9,327.2 219.8,326.4 234.9,324.1 239,323.7 241.8,323.7 244.5,323.7 248.6,324.1 266.4,326.7 271.9,327.3 277.4,327.8 284.3,328.2 292.5,328.5 314.4,328.9"/><polyline fill="none" stroke="#cc1fcc" stroke-width="1.1" stroke-linejoin="round" points="95,329 170.4,329 203.3,328.8 222.5,328.4 248.6,327.2 256.8,327.1 271.9,327.3 314.4,328.4"/><polyline fill="none" stroke="#f4c21a" stroke-width="1.1" stroke-linejoin="round" points="95,329 207.5,328.9 223.9,328.7 230.8,328.4 236.3,328.1 241.8,327.6 245.9,327.1 250,326.4 254.1,325.5 256.8,324.8 261,323.5 277.4,317.9 282.9,316.4 287,315.5 292.5,314.6 299.4,313.8 306.2,313.4 314.4,313.1"/><line x1="210.80" x2="210.80" y1="329.01" y2="326.99" stroke="#5cce4c" stroke-width="0.8"/><circle cx="210.80" cy="329.11" r="1.75" fill="#5cce4c"/><circle cx="226.90" cy="329.11" r="1.75" fill="#cc1fcc"/><line x1="249.30" x2="249.30" y1="329.01" y2="327.15" stroke="#e4506a" stroke-width="0.8"/><circle cx="249.30" cy="329.11" r="1.75" fill="#e4506a"/><line x1="253.70" x2="253.70" y1="329.01" y2="325.41" stroke="#2b8fe6" stroke-width="0.8"/><circle cx="253.70" cy="329.11" r="1.75" fill="#2b8fe6"/><line x1="275.30" x2="275.30" y1="329.01" y2="327.64" stroke="#26dbe3" stroke-width="0.8"/><circle cx="275.30" cy="329.11" r="1.75" fill="#26dbe3"/><line x1="68.2" x2="73.2" y1="320.31" y2="320.31" stroke="#333" stroke-width="0.9"/><text transform="translate(62.9,322.11) scale(0.88,1)" text-anchor="end" font-family="'Liberation Sans', sans-serif" font-size="6.45" fill="#474747">G10_Disorient</text><line x1="73.2" x2="75.8" y1="312.81" y2="312.81" stroke="#222" stroke-width="1"/><text transform="translate(79.3,313.86) scale(1,0.78)" font-family="'Liberation Sans', sans-serif" font-size="3.8" fill="#606060" text-rendering="optimizeSpeed">1.00</text><line x1="73.2" x2="75.8" y1="316.05" y2="316.05" stroke="#222" stroke-width="1"/><text transform="translate(79.3,317.10) scale(1,0.78)" font-family="'Liberation Sans', sans-serif" font-size="3.8" fill="#606060" text-rendering="optimizeSpeed">0.80</text><line x1="73.2" x2="75.8" y1="319.29" y2="319.29" stroke="#222" stroke-width="1"/><text transform="translate(79.3,320.34) scale(1,0.78)" font-family="'Liberation Sans', sans-serif" font-size="3.8" fill="#606060" text-rendering="optimizeSpeed">0.60</text><line x1="73.2" x2="75.8" y1="322.53" y2="322.53" stroke="#222" stroke-width="1"/><text transform="translate(79.3,323.58) scale(1,0.78)" font-family="'Liberation Sans', sans-serif" font-size="3.8" fill="#606060" text-rendering="optimizeSpeed">0.40</text><line x1="73.2" x2="75.8" y1="325.77" y2="325.77" stroke="#222" stroke-width="1"/><text transform="translate(79.3,326.82) scale(1,0.78)" font-family="'Liberation Sans', sans-serif" font-size="3.8" fill="#606060" text-rendering="optimizeSpeed">0.20</text><line x1="73.2" x2="75.8" y1="329.01" y2="329.01" stroke="#222" stroke-width="1"/><text transform="translate(79.3,330.06) scale(1,0.78)" font-family="'Liberation Sans', sans-serif" font-size="3.8" fill="#606060" text-rendering="optimizeSpeed">0.00</text><line x1="314.7" x2="324.9" y1="329.01" y2="329.01" stroke="#b4b4b4" stroke-width="0.7"/><path d="M320.50 313.21L320.50 311.11M320.50 313.21L322.50 312.56M320.50 313.21L321.73 314.91M320.50 313.21L319.27 314.91M320.50 313.21L318.50 312.56" stroke="#606060" stroke-width="0.85" stroke-linecap="round" fill="none"/><rect x="94.7" y="330.41" width="220.0" height="17.17" fill="#e6e6e6"/><line x1="94.7" x2="314.7" y1="343.86" y2="343.86" stroke="#fafafa" stroke-width="0.9"/><line x1="94.7" x2="314.7" y1="340.62" y2="340.62" stroke="#fafafa" stroke-width="0.9"/><line x1="94.7" x2="314.7" y1="337.38" y2="337.38" stroke="#fafafa" stroke-width="0.9"/><line x1="94.7" x2="314.7" y1="334.14" y2="334.14" stroke="#fafafa" stroke-width="0.9"/><line x1="122.4" x2="122.4" y1="330.41" y2="347.59" stroke="#fafafa" stroke-width="0.9"/><line x1="149.9" x2="149.9" y1="330.41" y2="347.59" stroke="#fafafa" stroke-width="0.9"/><line x1="177.3" x2="177.3" y1="330.41" y2="347.59" stroke="#fafafa" stroke-width="0.9"/><line x1="204.7" x2="204.7" y1="330.41" y2="347.59" stroke="#fafafa" stroke-width="0.9"/><line x1="232.2" x2="232.2" y1="330.41" y2="347.59" stroke="#fafafa" stroke-width="0.9"/><line x1="259.6" x2="259.6" y1="330.41" y2="347.59" stroke="#fafafa" stroke-width="0.9"/><line x1="287.0" x2="287.0" y1="330.41" y2="347.59" stroke="#fafafa" stroke-width="0.9"/><polyline fill="none" stroke="#e4506a" stroke-width="1.1" stroke-linejoin="round" points="95,330.9 125.2,331 143,331.3 156.7,331.8 162.2,332.2 167.7,332.7 173.2,333.3 177.3,333.9 185.5,335.5 192.4,337.1 208.8,341.3 214.3,342.6 218.4,343.4 222.5,344.1 228,344.9 237.6,345.9 248.6,346.5 263.7,346.9 282.9,347 314.4,347.1"/><polyline fill="none" stroke="#5cce4c" stroke-width="1.1" stroke-linejoin="round" points="95,347.1 145.7,347 160.8,346.9 171.8,346.7 180,346.4 186.9,346 193.7,345.5 208.8,344.1 212.9,343.9 215.7,343.9 218.4,343.9 222.5,344.1 236.3,345.4 243.1,345.9 250,346.3 256.8,346.6 277.4,346.9 314.4,347.1"/><polyline fill="none" stroke="#2b8fe6" stroke-width="1.1" stroke-linejoin="round" points="95,347.1 152.6,347 167.7,346.8 180,346.5 188.3,346.1 196.5,345.5 203.3,344.8 217.1,343 221.2,342.7 223.9,342.6 226.7,342.6 230.8,342.9 250,345.3 256.8,345.9 263.7,346.3 271.9,346.6 282.9,346.8 314.4,347.1"/><polyline fill="none" stroke="#26dbe3" stroke-width="1.1" stroke-linejoin="round" points="95,347.1 156.7,347 173.2,346.9 185.5,346.6 195.1,346.2 203.3,345.7 210.2,345 225.3,343.2 229.4,342.9 232.2,342.9 234.9,342.9 239,343.2 256.8,345.3 262.3,345.8 269.2,346.2 277.4,346.6 287,346.8 314.4,347"/><polyline fill="none" stroke="#cc1fcc" stroke-width="1.1" stroke-linejoin="round" points="95,347.1 174.5,347 193.7,346.7 207.5,346.3 218.4,345.7 228,344.8 236.3,343.5 251.4,340.8 255.5,340.3 258.2,340.1 265.1,340.2 273.3,340.7 280.2,341.3 300.7,343.4 314.4,344.6"/><polyline fill="none" stroke="#f4c21a" stroke-width="1.1" stroke-linejoin="round" points="95,347.1 162.2,347.1 192.4,346.9 212.9,346.6 221.2,346.3 229.4,345.8 240.4,344.9 245.9,344.3 251.4,343.5 262.3,341.6 282.9,337.4 292.5,335.7 298,334.9 303.5,334.2 314.4,333.2"/><line x1="207.60" x2="207.60" y1="347.10" y2="344.22" stroke="#5cce4c" stroke-width="0.8"/><circle cx="207.60" cy="347.20" r="1.75" fill="#5cce4c"/><line x1="227.40" x2="227.40" y1="347.10" y2="342.63" stroke="#2b8fe6" stroke-width="0.8"/><circle cx="227.40" cy="347.20" r="1.75" fill="#2b8fe6"/><line x1="231.10" x2="231.10" y1="347.10" y2="345.26" stroke="#e4506a" stroke-width="0.8"/><circle cx="231.10" cy="347.20" r="1.75" fill="#e4506a"/><line x1="238.10" x2="238.10" y1="347.10" y2="343.15" stroke="#26dbe3" stroke-width="0.8"/><circle cx="238.10" cy="347.20" r="1.75" fill="#26dbe3"/><line x1="266.70" x2="266.70" y1="347.10" y2="340.31" stroke="#cc1fcc" stroke-width="0.8"/><circle cx="266.70" cy="347.20" r="1.75" fill="#cc1fcc"/><line x1="68.2" x2="73.2" y1="338.40" y2="338.40" stroke="#333" stroke-width="0.9"/><text transform="translate(62.9,340.20) scale(0.88,1)" text-anchor="end" font-family="'Liberation Sans', sans-serif" font-size="6.45" fill="#474747">G11_Poor_Atten</text><line x1="73.2" x2="75.8" y1="330.90" y2="330.90" stroke="#222" stroke-width="1"/><text transform="translate(79.3,331.95) scale(1,0.78)" font-family="'Liberation Sans', sans-serif" font-size="3.8" fill="#606060" text-rendering="optimizeSpeed">1.00</text><line x1="73.2" x2="75.8" y1="334.14" y2="334.14" stroke="#222" stroke-width="1"/><text transform="translate(79.3,335.19) scale(1,0.78)" font-family="'Liberation Sans', sans-serif" font-size="3.8" fill="#606060" text-rendering="optimizeSpeed">0.80</text><line x1="73.2" x2="75.8" y1="337.38" y2="337.38" stroke="#222" stroke-width="1"/><text transform="translate(79.3,338.43) scale(1,0.78)" font-family="'Liberation Sans', sans-serif" font-size="3.8" fill="#606060" text-rendering="optimizeSpeed">0.60</text><line x1="73.2" x2="75.8" y1="340.62" y2="340.62" stroke="#222" stroke-width="1"/><text transform="translate(79.3,341.67) scale(1,0.78)" font-family="'Liberation Sans', sans-serif" font-size="3.8" fill="#606060" text-rendering="optimizeSpeed">0.40</text><line x1="73.2" x2="75.8" y1="343.86" y2="343.86" stroke="#222" stroke-width="1"/><text transform="translate(79.3,344.91) scale(1,0.78)" font-family="'Liberation Sans', sans-serif" font-size="3.8" fill="#606060" text-rendering="optimizeSpeed">0.20</text><line x1="73.2" x2="75.8" y1="347.10" y2="347.10" stroke="#222" stroke-width="1"/><text transform="translate(79.3,348.15) scale(1,0.78)" font-family="'Liberation Sans', sans-serif" font-size="3.8" fill="#606060" text-rendering="optimizeSpeed">0.00</text><line x1="314.7" x2="324.9" y1="347.10" y2="347.10" stroke="#b4b4b4" stroke-width="0.7"/><path d="M320.50 331.30L320.50 329.20M320.50 331.30L322.50 330.65M320.50 331.30L321.73 333.00M320.50 331.30L319.27 333.00M320.50 331.30L318.50 330.65" stroke="#606060" stroke-width="0.85" stroke-linecap="round" fill="none"/><rect x="94.7" y="348.50" width="220.0" height="17.17" fill="#e6e6e6"/><line x1="94.7" x2="314.7" y1="361.95" y2="361.95" stroke="#fafafa" stroke-width="0.9"/><line x1="94.7" x2="314.7" y1="358.71" y2="358.71" stroke="#fafafa" stroke-width="0.9"/><line x1="94.7" x2="314.7" y1="355.47" y2="355.47" stroke="#fafafa" stroke-width="0.9"/><line x1="94.7" x2="314.7" y1="352.23" y2="352.23" stroke="#fafafa" stroke-width="0.9"/><line x1="122.4" x2="122.4" y1="348.50" y2="365.68" stroke="#fafafa" stroke-width="0.9"/><line x1="149.9" x2="149.9" y1="348.50" y2="365.68" stroke="#fafafa" stroke-width="0.9"/><line x1="177.3" x2="177.3" y1="348.50" y2="365.68" stroke="#fafafa" stroke-width="0.9"/><line x1="204.7" x2="204.7" y1="348.50" y2="365.68" stroke="#fafafa" stroke-width="0.9"/><line x1="232.2" x2="232.2" y1="348.50" y2="365.68" stroke="#fafafa" stroke-width="0.9"/><line x1="259.6" x2="259.6" y1="348.50" y2="365.68" stroke="#fafafa" stroke-width="0.9"/><line x1="287.0" x2="287.0" y1="348.50" y2="365.68" stroke="#fafafa" stroke-width="0.9"/><polyline fill="none" stroke="#e4506a" stroke-width="1.1" stroke-linejoin="round" points="95,349.1 114.2,349.3 129.3,349.7 141.6,350.4 151.2,351.4 159.5,352.5 167.7,354 174.5,355.5 191,359.3 200.6,361.2 206.1,362.1 211.6,362.8 217.1,363.4 222.5,363.8 229.4,364.3 236.3,364.6 252.7,364.9 274.7,365.1 314.4,365.2"/><polyline fill="none" stroke="#5cce4c" stroke-width="1.1" stroke-linejoin="round" points="95,365.2 133.4,365 145.7,364.9 155.3,364.7 162.2,364.4 169.1,364 175.9,363.5 189.6,362.2 193.7,362 196.5,361.9 199.2,362 203.3,362.2 218.4,363.6 225.3,364.1 232.2,364.5 240.4,364.7 251.4,365 265.1,365.1 314.4,365.2"/><polyline fill="none" stroke="#2b8fe6" stroke-width="1.1" stroke-linejoin="round" points="95,365.2 143,365.1 156.7,364.9 167.7,364.6 175.9,364.2 182.8,363.7 189.6,363 204.7,361.2 208.8,360.9 211.6,360.8 214.3,360.9 218.4,361.2 232.2,362.9 239,363.6 245.9,364.1 252.7,364.5 262.3,364.8 274.7,365 314.4,365.2"/><polyline fill="none" stroke="#26dbe3" stroke-width="1.1" stroke-linejoin="round" points="95,365.2 149.9,365.1 164.9,365 175.9,364.8 184.1,364.5 192.4,364.1 199.2,363.6 214.3,362.2 218.4,362 221.2,361.9 223.9,362 228,362.2 241.8,363.5 248.6,364 261,364.6 270.6,364.9 281.5,365 314.4,365.2"/><polyline fill="none" stroke="#cc1fcc" stroke-width="1.1" stroke-linejoin="round" points="95,365.2 154,365.1 181.4,364.9 197.9,364.4 204.7,364 219.8,363 226.7,362.8 233.5,363 251.4,364.2 265.1,364.7 284.3,365 314.4,365.2"/><polyline fill="none" stroke="#f4c21a" stroke-width="1.1" stroke-linejoin="round" points="95,365.2 163.6,365 181.4,364.8 195.1,364.4 204.7,363.9 214.3,363.1 223.9,361.9 236.3,359.9 240.4,359.3 244.5,358.9 248.6,358.7 254.1,358.8 261,359.3 282.9,361.8 293.9,362.8 303.5,363.5 314.4,364"/><polyline fill="none" stroke="#9a9a9a" stroke-width="1.1" stroke-linejoin="round" points="95,365.1 136.1,365 163.6,364.7 185.5,364.1 203.3,363.2 218.4,362 232.2,360.5 244.5,358.9 271.9,354.9 287,353 300.7,351.7 314.4,350.8"/><line x1="187.20" x2="187.20" y1="365.19" y2="362.41" stroke="#5cce4c" stroke-width="0.8"/><circle cx="187.20" cy="365.29" r="1.75" fill="#5cce4c"/><line x1="205.10" x2="205.10" y1="365.19" y2="361.13" stroke="#2b8fe6" stroke-width="0.8"/><circle cx="205.10" cy="365.29" r="1.75" fill="#2b8fe6"/><line x1="222.50" x2="222.50" y1="365.19" y2="362.84" stroke="#cc1fcc" stroke-width="0.8"/><circle cx="222.50" cy="365.29" r="1.75" fill="#cc1fcc"/><line x1="225.70" x2="225.70" y1="365.19" y2="362.07" stroke="#26dbe3" stroke-width="0.8"/><circle cx="225.70" cy="365.29" r="1.75" fill="#26dbe3"/><line x1="252.50" x2="252.50" y1="365.19" y2="358.77" stroke="#f4c21a" stroke-width="0.8"/><circle cx="252.50" cy="365.29" r="1.75" fill="#f4c21a"/><line x1="68.2" x2="73.2" y1="356.49" y2="356.49" stroke="#333" stroke-width="0.9"/><text transform="translate(62.9,358.29) scale(0.88,1)" text-anchor="end" font-family="'Liberation Sans', sans-serif" font-size="6.45" fill="#474747">G12_Lack_Judg_Insight</text><line x1="73.2" x2="75.8" y1="348.99" y2="348.99" stroke="#222" stroke-width="1"/><text transform="translate(79.3,350.04) scale(1,0.78)" font-family="'Liberation Sans', sans-serif" font-size="3.8" fill="#606060" text-rendering="optimizeSpeed">1.00</text><line x1="73.2" x2="75.8" y1="352.23" y2="352.23" stroke="#222" stroke-width="1"/><text transform="translate(79.3,353.28) scale(1,0.78)" font-family="'Liberation Sans', sans-serif" font-size="3.8" fill="#606060" text-rendering="optimizeSpeed">0.80</text><line x1="73.2" x2="75.8" y1="355.47" y2="355.47" stroke="#222" stroke-width="1"/><text transform="translate(79.3,356.52) scale(1,0.78)" font-family="'Liberation Sans', sans-serif" font-size="3.8" fill="#606060" text-rendering="optimizeSpeed">0.60</text><line x1="73.2" x2="75.8" y1="358.71" y2="358.71" stroke="#222" stroke-width="1"/><text transform="translate(79.3,359.76) scale(1,0.78)" font-family="'Liberation Sans', sans-serif" font-size="3.8" fill="#606060" text-rendering="optimizeSpeed">0.40</text><line x1="73.2" x2="75.8" y1="361.95" y2="361.95" stroke="#222" stroke-width="1"/><text transform="translate(79.3,363.00) scale(1,0.78)" font-family="'Liberation Sans', sans-serif" font-size="3.8" fill="#606060" text-rendering="optimizeSpeed">0.20</text><line x1="73.2" x2="75.8" y1="365.19" y2="365.19" stroke="#222" stroke-width="1"/><text transform="translate(79.3,366.24) scale(1,0.78)" font-family="'Liberation Sans', sans-serif" font-size="3.8" fill="#606060" text-rendering="optimizeSpeed">0.00</text><line x1="314.7" x2="324.9" y1="365.19" y2="365.19" stroke="#b4b4b4" stroke-width="0.7"/><path d="M320.50 349.39L320.50 347.29M320.50 349.39L322.50 348.74M320.50 349.39L321.73 351.09M320.50 349.39L319.27 351.09M320.50 349.39L318.50 348.74" stroke="#606060" stroke-width="0.85" stroke-linecap="round" fill="none"/><rect x="94.7" y="366.59" width="220.0" height="17.17" fill="#e6e6e6"/><line x1="94.7" x2="314.7" y1="380.04" y2="380.04" stroke="#fafafa" stroke-width="0.9"/><line x1="94.7" x2="314.7" y1="376.80" y2="376.80" stroke="#fafafa" stroke-width="0.9"/><line x1="94.7" x2="314.7" y1="373.56" y2="373.56" stroke="#fafafa" stroke-width="0.9"/><line x1="94.7" x2="314.7" y1="370.32" y2="370.32" stroke="#fafafa" stroke-width="0.9"/><line x1="122.4" x2="122.4" y1="366.59" y2="383.77" stroke="#fafafa" stroke-width="0.9"/><line x1="149.9" x2="149.9" y1="366.59" y2="383.77" stroke="#fafafa" stroke-width="0.9"/><line x1="177.3" x2="177.3" y1="366.59" y2="383.77" stroke="#fafafa" stroke-width="0.9"/><line x1="204.7" x2="204.7" y1="366.59" y2="383.77" stroke="#fafafa" stroke-width="0.9"/><line x1="232.2" x2="232.2" y1="366.59" y2="383.77" stroke="#fafafa" stroke-width="0.9"/><line x1="259.6" x2="259.6" y1="366.59" y2="383.77" stroke="#fafafa" stroke-width="0.9"/><line x1="287.0" x2="287.0" y1="366.59" y2="383.77" stroke="#fafafa" stroke-width="0.9"/><polyline fill="none" stroke="#e4506a" stroke-width="1.1" stroke-linejoin="round" points="95,367.1 126.5,367.2 145.7,367.3 159.5,367.7 170.4,368.3 175.9,368.8 181.4,369.4 186.9,370.2 191,370.9 199.2,372.7 215.7,377 223.9,378.9 232.2,380.4 240.4,381.5 245.9,382 251.4,382.3 265.1,382.9 284.3,383.2 314.4,383.3"/><polyline fill="none" stroke="#5cce4c" stroke-width="1.1" stroke-linejoin="round" points="95,383.3 148.5,383.2 174.5,382.9 189.6,382.5 196.5,382.1 211.6,381 218.4,380.8 225.3,381 245.9,382.4 258.2,382.8 278.8,383.2 314.4,383.3"/><polyline fill="none" stroke="#2b8fe6" stroke-width="1.1" stroke-linejoin="round" points="95,383.3 151.2,383.1 167.7,383 181.4,382.7 191,382.4 200.6,382 210.2,381.4 228,380 233.5,379.8 237.6,379.7 241.8,379.8 247.2,380 267.8,381.6 280.2,382.3 295.2,382.8 314.4,383.1"/><polyline fill="none" stroke="#26dbe3" stroke-width="1.1" stroke-linejoin="round" points="95,383.3 154,383.1 171.8,382.9 186.9,382.6 197.9,382.3 207.5,381.9 217.1,381.3 237.6,379.7 243.1,379.5 247.2,379.4 255.5,379.5 265.1,379.7 298,381.3 314.4,381.9"/><polyline fill="none" stroke="#cc1fcc" stroke-width="1.1" stroke-linejoin="round" points="95,383.3 154,383.2 182.8,383.1 202,382.7 210.2,382.4 217.1,381.9 222.5,381.5 228,380.9 233.5,380.2 239,379.3 248.6,377.4 270.6,372.4 277.4,371.1 282.9,370.2 289.8,369.3 296.6,368.6 304.8,368.1 314.4,367.7"/><line x1="217.00" x2="217.00" y1="383.28" y2="380.86" stroke="#5cce4c" stroke-width="0.8"/><circle cx="217.00" cy="383.38" r="1.75" fill="#5cce4c"/><line x1="232.60" x2="232.60" y1="383.28" y2="379.81" stroke="#2b8fe6" stroke-width="0.8"/><circle cx="232.60" cy="383.38" r="1.75" fill="#2b8fe6"/><line x1="241.80" x2="241.80" y1="383.28" y2="379.54" stroke="#26dbe3" stroke-width="0.8"/><circle cx="241.80" cy="383.38" r="1.75" fill="#26dbe3"/><line x1="68.2" x2="73.2" y1="374.58" y2="374.58" stroke="#333" stroke-width="0.9"/><text transform="translate(62.9,376.38) scale(0.88,1)" text-anchor="end" font-family="'Liberation Sans', sans-serif" font-size="6.45" fill="#474747">G13_Dist_Volition</text><line x1="73.2" x2="75.8" y1="367.08" y2="367.08" stroke="#222" stroke-width="1"/><text transform="translate(79.3,368.13) scale(1,0.78)" font-family="'Liberation Sans', sans-serif" font-size="3.8" fill="#606060" text-rendering="optimizeSpeed">1.00</text><line x1="73.2" x2="75.8" y1="370.32" y2="370.32" stroke="#222" stroke-width="1"/><text transform="translate(79.3,371.37) scale(1,0.78)" font-family="'Liberation Sans', sans-serif" font-size="3.8" fill="#606060" text-rendering="optimizeSpeed">0.80</text><line x1="73.2" x2="75.8" y1="373.56" y2="373.56" stroke="#222" stroke-width="1"/><text transform="translate(79.3,374.61) scale(1,0.78)" font-family="'Liberation Sans', sans-serif" font-size="3.8" fill="#606060" text-rendering="optimizeSpeed">0.60</text><line x1="73.2" x2="75.8" y1="376.80" y2="376.80" stroke="#222" stroke-width="1"/><text transform="translate(79.3,377.85) scale(1,0.78)" font-family="'Liberation Sans', sans-serif" font-size="3.8" fill="#606060" text-rendering="optimizeSpeed">0.40</text><line x1="73.2" x2="75.8" y1="380.04" y2="380.04" stroke="#222" stroke-width="1"/><text transform="translate(79.3,381.09) scale(1,0.78)" font-family="'Liberation Sans', sans-serif" font-size="3.8" fill="#606060" text-rendering="optimizeSpeed">0.20</text><line x1="73.2" x2="75.8" y1="383.28" y2="383.28" stroke="#222" stroke-width="1"/><text transform="translate(79.3,384.33) scale(1,0.78)" font-family="'Liberation Sans', sans-serif" font-size="3.8" fill="#606060" text-rendering="optimizeSpeed">0.00</text><line x1="314.7" x2="324.9" y1="383.28" y2="383.28" stroke="#b4b4b4" stroke-width="0.7"/><path d="M320.50 367.48L320.50 365.38M320.50 367.48L322.50 366.83M320.50 367.48L321.73 369.18M320.50 367.48L319.27 369.18M320.50 367.48L318.50 366.83" stroke="#606060" stroke-width="0.85" stroke-linecap="round" fill="none"/><rect x="94.7" y="384.68" width="220.0" height="17.17" fill="#e6e6e6"/><line x1="94.7" x2="314.7" y1="398.13" y2="398.13" stroke="#fafafa" stroke-width="0.9"/><line x1="94.7" x2="314.7" y1="394.89" y2="394.89" stroke="#fafafa" stroke-width="0.9"/><line x1="94.7" x2="314.7" y1="391.65" y2="391.65" stroke="#fafafa" stroke-width="0.9"/><line x1="94.7" x2="314.7" y1="388.41" y2="388.41" stroke="#fafafa" stroke-width="0.9"/><line x1="122.4" x2="122.4" y1="384.68" y2="401.86" stroke="#fafafa" stroke-width="0.9"/><line x1="149.9" x2="149.9" y1="384.68" y2="401.86" stroke="#fafafa" stroke-width="0.9"/><line x1="177.3" x2="177.3" y1="384.68" y2="401.86" stroke="#fafafa" stroke-width="0.9"/><line x1="204.7" x2="204.7" y1="384.68" y2="401.86" stroke="#fafafa" stroke-width="0.9"/><line x1="232.2" x2="232.2" y1="384.68" y2="401.86" stroke="#fafafa" stroke-width="0.9"/><line x1="259.6" x2="259.6" y1="384.68" y2="401.86" stroke="#fafafa" stroke-width="0.9"/><line x1="287.0" x2="287.0" y1="384.68" y2="401.86" stroke="#fafafa" stroke-width="0.9"/><polyline fill="none" stroke="#e4506a" stroke-width="1.1" stroke-linejoin="round" points="95,385.2 125.2,385.2 143,385.4 156.7,385.8 167.7,386.4 177.3,387.3 182.8,388.1 186.9,388.7 191,389.6 196.5,390.8 212.9,395.1 221.2,397 229.4,398.5 233.5,399.1 239,399.7 244.5,400.2 250,400.5 256.8,400.8 265.1,401 284.3,401.3 314.4,401.4"/><polyline fill="none" stroke="#5cce4c" stroke-width="1.1" stroke-linejoin="round" points="95,401.4 144.4,401.3 158.1,401.1 169.1,400.9 177.3,400.6 184.1,400.3 191,399.8 206.1,398.4 210.2,398.2 212.9,398.1 215.7,398.2 219.8,398.4 233.5,399.7 240.4,400.2 247.2,400.6 254.1,400.8 263.7,401.1 276,401.2 314.4,401.4"/><polyline fill="none" stroke="#2b8fe6" stroke-width="1.1" stroke-linejoin="round" points="95,401.4 152.6,401.2 167.7,401 180,400.6 188.3,400.1 196.5,399.3 203.3,398.4 217.1,396.1 221.2,395.7 223.9,395.5 226.7,395.6 230.8,395.9 234.9,396.5 244.5,398.2 250,399 256.8,399.8 263.7,400.3 271.9,400.7 282.9,401 296.6,401.2 314.4,401.3"/><polyline fill="none" stroke="#26dbe3" stroke-width="1.1" stroke-linejoin="round" points="95,401.4 155.3,401.2 171.8,401.1 185.5,400.7 195.1,400.3 204.7,399.7 212.9,398.9 229.4,396.9 233.5,396.6 237.6,396.5 244.5,396.6 252.7,396.9 289.8,399.2 302.1,399.8 314.4,400.3"/><polyline fill="none" stroke="#cc1fcc" stroke-width="1.1" stroke-linejoin="round" points="95,401.4 163.6,401.3 193.7,401.1 203.3,400.9 211.6,400.6 218.4,400.2 233.5,399.1 240.4,398.9 247.2,399.1 265.1,400.3 276,400.8 291.1,401.1 314.4,401.3"/><polyline fill="none" stroke="#f4c21a" stroke-width="1.1" stroke-linejoin="round" points="95,401.4 160.8,401.3 189.6,401.2 208.8,400.8 217.1,400.5 223.9,400.1 229.4,399.6 234.9,399 240.4,398.3 245.9,397.3 255.5,395.3 270.6,391.6 276,390.3 281.5,389.2 287,388.3 292.5,387.5 299.4,386.8 306.2,386.3 314.4,385.8"/><line x1="198.40" x2="198.40" y1="401.37" y2="399.08" stroke="#5cce4c" stroke-width="0.8"/><circle cx="198.40" cy="401.47" r="1.75" fill="#5cce4c"/><line x1="234.90" x2="234.90" y1="401.37" y2="399.07" stroke="#cc1fcc" stroke-width="0.8"/><circle cx="234.90" cy="401.47" r="1.75" fill="#cc1fcc"/><line x1="238.60" x2="238.60" y1="401.37" y2="397.18" stroke="#2b8fe6" stroke-width="0.8"/><circle cx="238.60" cy="401.47" r="1.75" fill="#2b8fe6"/><line x1="267.90" x2="267.90" y1="401.37" y2="397.85" stroke="#26dbe3" stroke-width="0.8"/><circle cx="267.90" cy="401.47" r="1.75" fill="#26dbe3"/><line x1="68.2" x2="73.2" y1="392.67" y2="392.67" stroke="#333" stroke-width="0.9"/><text transform="translate(62.9,394.47) scale(0.88,1)" text-anchor="end" font-family="'Liberation Sans', sans-serif" font-size="6.45" fill="#474747">G14_Poor_Imp_Contr</text><line x1="73.2" x2="75.8" y1="385.17" y2="385.17" stroke="#222" stroke-width="1"/><text transform="translate(79.3,386.22) scale(1,0.78)" font-family="'Liberation Sans', sans-serif" font-size="3.8" fill="#606060" text-rendering="optimizeSpeed">1.00</text><line x1="73.2" x2="75.8" y1="388.41" y2="388.41" stroke="#222" stroke-width="1"/><text transform="translate(79.3,389.46) scale(1,0.78)" font-family="'Liberation Sans', sans-serif" font-size="3.8" fill="#606060" text-rendering="optimizeSpeed">0.80</text><line x1="73.2" x2="75.8" y1="391.65" y2="391.65" stroke="#222" stroke-width="1"/><text transform="translate(79.3,392.70) scale(1,0.78)" font-family="'Liberation Sans', sans-serif" font-size="3.8" fill="#606060" text-rendering="optimizeSpeed">0.60</text><line x1="73.2" x2="75.8" y1="394.89" y2="394.89" stroke="#222" stroke-width="1"/><text transform="translate(79.3,395.94) scale(1,0.78)" font-family="'Liberation Sans', sans-serif" font-size="3.8" fill="#606060" text-rendering="optimizeSpeed">0.40</text><line x1="73.2" x2="75.8" y1="398.13" y2="398.13" stroke="#222" stroke-width="1"/><text transform="translate(79.3,399.18) scale(1,0.78)" font-family="'Liberation Sans', sans-serif" font-size="3.8" fill="#606060" text-rendering="optimizeSpeed">0.20</text><line x1="73.2" x2="75.8" y1="401.37" y2="401.37" stroke="#222" stroke-width="1"/><text transform="translate(79.3,402.42) scale(1,0.78)" font-family="'Liberation Sans', sans-serif" font-size="3.8" fill="#606060" text-rendering="optimizeSpeed">0.00</text><line x1="314.7" x2="324.9" y1="401.37" y2="401.37" stroke="#b4b4b4" stroke-width="0.7"/><path d="M320.50 385.57L320.50 383.47M320.50 385.57L322.50 384.92M320.50 385.57L321.73 387.27M320.50 385.57L319.27 387.27M320.50 385.57L318.50 384.92" stroke="#606060" stroke-width="0.85" stroke-linecap="round" fill="none"/><rect x="94.7" y="402.77" width="220.0" height="17.17" fill="#e6e6e6"/><line x1="94.7" x2="314.7" y1="416.22" y2="416.22" stroke="#fafafa" stroke-width="0.9"/><line x1="94.7" x2="314.7" y1="412.98" y2="412.98" stroke="#fafafa" stroke-width="0.9"/><line x1="94.7" x2="314.7" y1="409.74" y2="409.74" stroke="#fafafa" stroke-width="0.9"/><line x1="94.7" x2="314.7" y1="406.50" y2="406.50" stroke="#fafafa" stroke-width="0.9"/><line x1="122.4" x2="122.4" y1="402.77" y2="419.95" stroke="#fafafa" stroke-width="0.9"/><line x1="149.9" x2="149.9" y1="402.77" y2="419.95" stroke="#fafafa" stroke-width="0.9"/><line x1="177.3" x2="177.3" y1="402.77" y2="419.95" stroke="#fafafa" stroke-width="0.9"/><line x1="204.7" x2="204.7" y1="402.77" y2="419.95" stroke="#fafafa" stroke-width="0.9"/><line x1="232.2" x2="232.2" y1="402.77" y2="419.95" stroke="#fafafa" stroke-width="0.9"/><line x1="259.6" x2="259.6" y1="402.77" y2="419.95" stroke="#fafafa" stroke-width="0.9"/><line x1="287.0" x2="287.0" y1="402.77" y2="419.95" stroke="#fafafa" stroke-width="0.9"/><polyline fill="none" stroke="#e4506a" stroke-width="1.1" stroke-linejoin="round" points="95,403.3 123.8,403.4 141.6,403.6 155.3,404.1 160.8,404.5 166.3,405 174.5,406.2 178.7,406.9 182.8,407.8 189.6,409.5 206.1,414 214.3,415.8 218.4,416.6 223.9,417.4 228,417.8 233.5,418.3 244.5,418.9 259.6,419.3 278.8,419.4 314.4,419.5"/><polyline fill="none" stroke="#5cce4c" stroke-width="1.1" stroke-linejoin="round" points="95,419.5 141.6,419.4 155.3,419.2 166.3,419 174.5,418.7 181.4,418.4 188.3,417.9 203.3,416.5 207.5,416.3 210.2,416.2 212.9,416.3 217.1,416.5 230.8,417.7 237.6,418.3 244.5,418.7 251.4,418.9 261,419.2 273.3,419.3 314.4,419.4"/><polyline fill="none" stroke="#2b8fe6" stroke-width="1.1" stroke-linejoin="round" points="95,419.5 149.9,419.4 164.9,419.2 175.9,419 184.1,418.7 192.4,418.3 199.2,417.7 214.3,416.2 218.4,415.9 221.2,415.9 223.9,415.9 228,416.2 241.8,417.6 248.6,418.2 261,418.8 270.6,419.1 281.5,419.3 314.4,419.4"/><polyline fill="none" stroke="#26dbe3" stroke-width="1.1" stroke-linejoin="round" points="95,419.5 154,419.4 169.1,419.3 181.4,419 189.6,418.8 197.9,418.4 204.7,417.9 219.8,416.5 223.9,416.3 226.7,416.2 229.4,416.3 233.5,416.5 251.4,418.1 258.2,418.5 265.1,418.8 284.3,419.3 314.4,419.4"/><polyline fill="none" stroke="#cc1fcc" stroke-width="1.1" stroke-linejoin="round" points="95,419.5 164.9,419.4 195.1,419.2 204.7,419 212.9,418.7 221.2,418.3 236.3,417.2 243.1,417 250,417.2 267.8,418.4 278.8,418.9 293.9,419.2 314.4,419.4"/><polyline fill="none" stroke="#f4c21a" stroke-width="1.1" stroke-linejoin="round" points="95,419.5 166.3,419.4 186.9,419.2 202,418.9 212.9,418.6 223.9,418 233.5,417.3 250,415.9 255.5,415.5 259.6,415.4 267.8,415.5 277.4,415.8 314.4,417.6"/><polyline fill="none" stroke="#9a9a9a" stroke-width="1.1" stroke-linejoin="round" points="95,419.5 159.5,419.4 188.3,419.3 208.8,418.9 217.1,418.6 223.9,418.2 230.8,417.6 236.3,417 241.8,416.3 247.2,415.3 256.8,413.3 271.9,409.7 277.4,408.5 282.9,407.4 288.4,406.5 293.9,405.7 300.7,405 307.6,404.4 314.4,404.1"/><line x1="215.00" x2="215.00" y1="419.46" y2="416.35" stroke="#5cce4c" stroke-width="0.8"/><circle cx="215.00" cy="419.56" r="1.75" fill="#5cce4c"/><line x1="222.70" x2="222.70" y1="419.46" y2="417.19" stroke="#e4506a" stroke-width="0.8"/><circle cx="222.70" cy="419.56" r="1.75" fill="#e4506a"/><line x1="231.40" x2="231.40" y1="419.46" y2="416.49" stroke="#2b8fe6" stroke-width="0.8"/><circle cx="231.40" cy="419.56" r="1.75" fill="#2b8fe6"/><line x1="234.40" x2="234.40" y1="419.46" y2="416.55" stroke="#26dbe3" stroke-width="0.8"/><circle cx="234.40" cy="419.56" r="1.75" fill="#26dbe3"/><line x1="243.80" x2="243.80" y1="419.46" y2="417.03" stroke="#cc1fcc" stroke-width="0.8"/><circle cx="243.80" cy="419.56" r="1.75" fill="#cc1fcc"/><line x1="245.50" x2="245.50" y1="419.46" y2="416.24" stroke="#f4c21a" stroke-width="0.8"/><circle cx="245.50" cy="419.56" r="1.75" fill="#f4c21a"/><line x1="68.2" x2="73.2" y1="410.76" y2="410.76" stroke="#333" stroke-width="0.9"/><text transform="translate(62.9,412.56) scale(0.88,1)" text-anchor="end" font-family="'Liberation Sans', sans-serif" font-size="6.45" fill="#474747">G15_Preocc</text><line x1="73.2" x2="75.8" y1="403.26" y2="403.26" stroke="#222" stroke-width="1"/><text transform="translate(79.3,404.31) scale(1,0.78)" font-family="'Liberation Sans', sans-serif" font-size="3.8" fill="#606060" text-rendering="optimizeSpeed">1.00</text><line x1="73.2" x2="75.8" y1="406.50" y2="406.50" stroke="#222" stroke-width="1"/><text transform="translate(79.3,407.55) scale(1,0.78)" font-family="'Liberation Sans', sans-serif" font-size="3.8" fill="#606060" text-rendering="optimizeSpeed">0.80</text><line x1="73.2" x2="75.8" y1="409.74" y2="409.74" stroke="#222" stroke-width="1"/><text transform="translate(79.3,410.79) scale(1,0.78)" font-family="'Liberation Sans', sans-serif" font-size="3.8" fill="#606060" text-rendering="optimizeSpeed">0.60</text><line x1="73.2" x2="75.8" y1="412.98" y2="412.98" stroke="#222" stroke-width="1"/><text transform="translate(79.3,414.03) scale(1,0.78)" font-family="'Liberation Sans', sans-serif" font-size="3.8" fill="#606060" text-rendering="optimizeSpeed">0.40</text><line x1="73.2" x2="75.8" y1="416.22" y2="416.22" stroke="#222" stroke-width="1"/><text transform="translate(79.3,417.27) scale(1,0.78)" font-family="'Liberation Sans', sans-serif" font-size="3.8" fill="#606060" text-rendering="optimizeSpeed">0.20</text><line x1="73.2" x2="75.8" y1="419.46" y2="419.46" stroke="#222" stroke-width="1"/><text transform="translate(79.3,420.51) scale(1,0.78)" font-family="'Liberation Sans', sans-serif" font-size="3.8" fill="#606060" text-rendering="optimizeSpeed">0.00</text><line x1="314.7" x2="324.9" y1="419.46" y2="419.46" stroke="#b4b4b4" stroke-width="0.7"/><path d="M320.50 403.66L320.50 401.56M320.50 403.66L322.50 403.01M320.50 403.66L321.73 405.36M320.50 403.66L319.27 405.36M320.50 403.66L318.50 403.01" stroke="#606060" stroke-width="0.85" stroke-linecap="round" fill="none"/><rect x="94.7" y="420.86" width="220.0" height="17.17" fill="#e6e6e6"/><line x1="94.7" x2="314.7" y1="434.31" y2="434.31" stroke="#fafafa" stroke-width="0.9"/><line x1="94.7" x2="314.7" y1="431.07" y2="431.07" stroke="#fafafa" stroke-width="0.9"/><line x1="94.7" x2="314.7" y1="427.83" y2="427.83" stroke="#fafafa" stroke-width="0.9"/><line x1="94.7" x2="314.7" y1="424.59" y2="424.59" stroke="#fafafa" stroke-width="0.9"/><line x1="122.4" x2="122.4" y1="420.86" y2="438.04" stroke="#fafafa" stroke-width="0.9"/><line x1="149.9" x2="149.9" y1="420.86" y2="438.04" stroke="#fafafa" stroke-width="0.9"/><line x1="177.3" x2="177.3" y1="420.86" y2="438.04" stroke="#fafafa" stroke-width="0.9"/><line x1="204.7" x2="204.7" y1="420.86" y2="438.04" stroke="#fafafa" stroke-width="0.9"/><line x1="232.2" x2="232.2" y1="420.86" y2="438.04" stroke="#fafafa" stroke-width="0.9"/><line x1="259.6" x2="259.6" y1="420.86" y2="438.04" stroke="#fafafa" stroke-width="0.9"/><line x1="287.0" x2="287.0" y1="420.86" y2="438.04" stroke="#fafafa" stroke-width="0.9"/><polyline fill="none" stroke="#e4506a" stroke-width="1.1" stroke-linejoin="round" points="95,421.4 121.1,421.5 138.9,421.8 152.6,422.4 158.1,422.8 163.6,423.4 171.8,424.4 180,425.9 188.3,427.8 204.7,431.8 214.3,433.8 218.4,434.5 223.9,435.2 229.4,435.8 234.9,436.3 245.9,436.9 261,437.3 281.5,437.5 314.4,437.5"/><polyline fill="none" stroke="#5cce4c" stroke-width="1.1" stroke-linejoin="round" points="95,437.5 140.3,437.5 164.9,437.2 180,436.7 200.6,435.3 207.5,435.1 214.3,435.3 234.9,436.7 250,437.2 273.3,437.5 314.4,437.5"/><polyline fill="none" stroke="#2b8fe6" stroke-width="1.1" stroke-linejoin="round" points="95,437.5 147.1,437.4 162.2,437.2 173.2,436.9 181.4,436.5 188.3,436 195.1,435.3 210.2,433.4 214.3,433.1 217.1,433 219.8,433.1 223.9,433.4 237.6,435.1 244.5,435.9 250,436.3 256.8,436.7 266.4,437.1 277.4,437.3 314.4,437.5"/><polyline fill="none" stroke="#26dbe3" stroke-width="1.1" stroke-linejoin="round" points="95,437.5 154,437.5 169.1,437.4 181.4,437.1 189.6,436.9 197.9,436.5 204.7,436 219.8,434.6 223.9,434.4 226.7,434.3 229.4,434.4 233.5,434.6 251.4,436.2 258.2,436.6 265.1,436.9 284.3,437.4 314.4,437.5"/><polyline fill="none" stroke="#cc1fcc" stroke-width="1.1" stroke-linejoin="round" points="95,437.5 162.2,437.5 191,437.3 200.6,437 208.8,436.7 215.7,436.4 230.8,435.3 237.6,435.1 244.5,435.3 262.3,436.5 274.7,437 291.1,437.4 314.4,437.5"/><polyline fill="none" stroke="#f4c21a" stroke-width="1.1" stroke-linejoin="round" points="95,437.5 144.4,437.5 171.8,437.4 191,437.1 204.7,436.7 215.7,436.1 225.3,435.2 234.9,433.8 250,431.1 254.1,430.5 258.2,430.3 266.4,430.4 274.7,430.9 282.9,431.6 303.5,433.6 314.4,434.6"/><polyline fill="none" stroke="#9a9a9a" stroke-width="1.1" stroke-linejoin="round" points="95,437.5 137.5,437.3 167.7,437 192.4,436.3 212.9,435.4 229.4,434.2 244.5,432.8 258.2,431.3 293.9,427 304.8,425.8 314.4,424.9"/><line x1="200.90" x2="200.90" y1="437.55" y2="435.30" stroke="#5cce4c" stroke-width="0.8"/><circle cx="200.90" cy="437.65" r="1.75" fill="#5cce4c"/><line x1="217.50" x2="217.50" y1="437.55" y2="434.31" stroke="#e4506a" stroke-width="0.8"/><circle cx="217.50" cy="437.65" r="1.75" fill="#e4506a"/><line x1="233.10" x2="233.10" y1="437.55" y2="435.21" stroke="#cc1fcc" stroke-width="0.8"/><circle cx="233.10" cy="437.65" r="1.75" fill="#cc1fcc"/><line x1="278.50" x2="278.50" y1="437.55" y2="431.18" stroke="#f4c21a" stroke-width="0.8"/><circle cx="278.50" cy="437.65" r="1.75" fill="#f4c21a"/><line x1="68.2" x2="73.2" y1="428.85" y2="428.85" stroke="#333" stroke-width="0.9"/><text transform="translate(62.9,430.65) scale(0.88,1)" text-anchor="end" font-family="'Liberation Sans', sans-serif" font-size="6.45" fill="#474747">G16_Active_Soc_Avoid</text><line x1="73.2" x2="75.8" y1="421.35" y2="421.35" stroke="#222" stroke-width="1"/><text transform="translate(79.3,422.40) scale(1,0.78)" font-family="'Liberation Sans', sans-serif" font-size="3.8" fill="#606060" text-rendering="optimizeSpeed">1.00</text><line x1="73.2" x2="75.8" y1="424.59" y2="424.59" stroke="#222" stroke-width="1"/><text transform="translate(79.3,425.64) scale(1,0.78)" font-family="'Liberation Sans', sans-serif" font-size="3.8" fill="#606060" text-rendering="optimizeSpeed">0.80</text><line x1="73.2" x2="75.8" y1="427.83" y2="427.83" stroke="#222" stroke-width="1"/><text transform="translate(79.3,428.88) scale(1,0.78)" font-family="'Liberation Sans', sans-serif" font-size="3.8" fill="#606060" text-rendering="optimizeSpeed">0.60</text><line x1="73.2" x2="75.8" y1="431.07" y2="431.07" stroke="#222" stroke-width="1"/><text transform="translate(79.3,432.12) scale(1,0.78)" font-family="'Liberation Sans', sans-serif" font-size="3.8" fill="#606060" text-rendering="optimizeSpeed">0.40</text><line x1="73.2" x2="75.8" y1="434.31" y2="434.31" stroke="#222" stroke-width="1"/><text transform="translate(79.3,435.36) scale(1,0.78)" font-family="'Liberation Sans', sans-serif" font-size="3.8" fill="#606060" text-rendering="optimizeSpeed">0.20</text><line x1="73.2" x2="75.8" y1="437.55" y2="437.55" stroke="#222" stroke-width="1"/><text transform="translate(79.3,438.60) scale(1,0.78)" font-family="'Liberation Sans', sans-serif" font-size="3.8" fill="#606060" text-rendering="optimizeSpeed">0.00</text><line x1="314.7" x2="324.9" y1="437.55" y2="437.55" stroke="#b4b4b4" stroke-width="0.7"/><path d="M320.50 421.75L320.50 419.65M320.50 421.75L322.50 421.10M320.50 421.75L321.73 423.45M320.50 421.75L319.27 423.45M320.50 421.75L318.50 421.10" stroke="#606060" stroke-width="0.85" stroke-linecap="round" fill="none"/><path d="M324.9 148.0 V439.2" fill="none" stroke="#9a9a9a" stroke-width="1.2"/><path d="M73.2 148.0 V439.2" fill="none" stroke="#555" stroke-width="1.2"/><path d="M72.60000000000001 439.2 H324.9" fill="none" stroke="#2a2a2a" stroke-width="1.1"/><line x1="95.0" x2="95.0" y1="439.2" y2="444.8" stroke="#222" stroke-width="0.9"/><text transform="translate(95.0,458.9) scale(0.8,1)" text-anchor="middle" font-family="'Liberation Sans', sans-serif" font-size="8" fill="#4d4d4d">&#8722;4</text><line x1="122.4" x2="122.4" y1="439.2" y2="444.8" stroke="#222" stroke-width="0.9"/><text transform="translate(122.4,458.9) scale(0.8,1)" text-anchor="middle" font-family="'Liberation Sans', sans-serif" font-size="8" fill="#4d4d4d">&#8722;3</text><line x1="149.9" x2="149.9" y1="439.2" y2="444.8" stroke="#222" stroke-width="0.9"/><text transform="translate(149.9,458.9) scale(0.8,1)" text-anchor="middle" font-family="'Liberation Sans', sans-serif" font-size="8" fill="#4d4d4d">&#8722;2</text><line x1="177.3" x2="177.3" y1="439.2" y2="444.8" stroke="#222" stroke-width="0.9"/><text transform="translate(177.3,458.9) scale(0.8,1)" text-anchor="middle" font-family="'Liberation Sans', sans-serif" font-size="8" fill="#4d4d4d">&#8722;1</text><line x1="204.7" x2="204.7" y1="439.2" y2="444.8" stroke="#222" stroke-width="0.9"/><text transform="translate(204.7,458.9) scale(0.8,1)" text-anchor="middle" font-family="'Liberation Sans', sans-serif" font-size="8" fill="#4d4d4d">0</text><line x1="232.2" x2="232.2" y1="439.2" y2="444.8" stroke="#222" stroke-width="0.9"/><text transform="translate(232.2,458.9) scale(0.8,1)" text-anchor="middle" font-family="'Liberation Sans', sans-serif" font-size="8" fill="#4d4d4d">1</text><line x1="259.6" x2="259.6" y1="439.2" y2="444.8" stroke="#222" stroke-width="0.9"/><text transform="translate(259.6,458.9) scale(0.8,1)" text-anchor="middle" font-family="'Liberation Sans', sans-serif" font-size="8" fill="#4d4d4d">2</text><line x1="287.0" x2="287.0" y1="439.2" y2="444.8" stroke="#222" stroke-width="0.9"/><text transform="translate(287.0,458.9) scale(0.8,1)" text-anchor="middle" font-family="'Liberation Sans', sans-serif" font-size="8" fill="#4d4d4d">3</text><line x1="314.4" x2="314.4" y1="439.2" y2="444.8" stroke="#222" stroke-width="0.9"/><text transform="translate(314.4,458.9) scale(0.8,1)" text-anchor="middle" font-family="'Liberation Sans', sans-serif" font-size="8" fill="#4d4d4d">4</text><text x="321.3" y="445.3" text-anchor="end" font-family="'Liberation Sans', sans-serif" font-size="5.75" fill="#505050">RMK: min/Rasch</text><text x="411.8" y="12.3" font-family="'Liberation Sans', sans-serif" font-weight="bold" font-size="17" fill="#000">b</text><text x="558.6" y="16.2" text-anchor="middle" font-family="'Liberation Sans', sans-serif" font-weight="bold" font-size="9.95" fill="#000">PANSS&#8722;G / Control</text><path d="M432.8 148.0 V23.9 H684.5 V148.0" fill="none" stroke="#7a7a7a" stroke-width="1.2"/><line x1="432.8" y1="148.0" x2="684.5" y2="148.0" stroke="#d4d4d4" stroke-width="1.4"/><rect x="536.80" y="122.7" width="5.48" height="19.70" fill="#d6d6d6" stroke="#222" stroke-width="0.7"/><rect x="542.28" y="126.3" width="5.48" height="16.10" fill="#d6d6d6" stroke="#222" stroke-width="0.7"/><rect x="547.76" y="89.4" width="5.48" height="53.00" fill="#d6d6d6" stroke="#222" stroke-width="0.7"/><rect x="553.24" y="45.7" width="5.48" height="96.70" fill="#d6d6d6" stroke="#222" stroke-width="0.7"/><rect x="558.72" y="42.5" width="5.48" height="99.90" fill="#d6d6d6" stroke="#222" stroke-width="0.7"/><rect x="564.20" y="42.5" width="5.48" height="99.90" fill="#d6d6d6" stroke="#222" stroke-width="0.7"/><rect x="569.68" y="45.7" width="5.48" height="96.70" fill="#d6d6d6" stroke="#222" stroke-width="0.7"/><rect x="575.16" y="86" width="5.48" height="56.40" fill="#d6d6d6" stroke="#222" stroke-width="0.7"/><rect x="580.64" y="122.7" width="5.48" height="19.70" fill="#d6d6d6" stroke="#222" stroke-width="0.7"/><rect x="586.12" y="136.1" width="5.48" height="6.30" fill="#d6d6d6" stroke="#222" stroke-width="0.7"/><rect x="591.60" y="136.1" width="5.48" height="6.30" fill="#d6d6d6" stroke="#222" stroke-width="0.7"/><rect x="597.08" y="139.3" width="5.48" height="3.10" fill="#d6d6d6" stroke="#222" stroke-width="0.7"/><rect x="602.56" y="139.3" width="5.48" height="3.10" fill="#d6d6d6" stroke="#222" stroke-width="0.7"/><polyline fill="none" stroke="#8e1b1b" stroke-width="1.15" stroke-linejoin="round" points="455.2,35.8 459.9,44.9 464.6,53.4 469.4,61.4 474.1,68.8 478.8,75.7 483.5,82.1 486.6,86.1 489.8,89.9 494.5,95.1 499.2,99.9 502.4,102.9 505.5,105.6 510.2,109.5 513.4,111.8 516.5,113.9 519.6,115.9 522.8,117.8 527.5,120.3 530.6,121.8 533.8,123.2 540.1,125.6 543.2,126.6 547.9,128 555.8,129.9 563.7,131.3 568.4,132 573.1,132.6 577.8,133 582.5,133.3 590.4,133.4 595.1,133.4 599.8,133.1 607.7,132.4 612.4,131.8 617.1,131.1 625,129.6 632.8,127.6 640.7,125.2 648.5,122.4 654.8,119.9 658,118.6 665.8,114.9 673.7,110.8"/><polyline fill="none" stroke="#2e8b57" stroke-width="1.15" stroke-linejoin="round" points="454.7,141.5 468.9,140.9 478.3,140.2 483.1,139.7 487.8,139.1 490.9,138.5 495.7,137.6 498.8,136.8 503.5,135.4 506.7,134.2 509.8,132.9 513,131.4 516.1,129.6 519.3,127.6 522.5,125.4 525.6,122.8 527.2,121.4 528.8,119.9 531.9,116.7 536.6,111.2 541.4,104.9 544.5,100.2 549.2,92.5 554,84.2 561.8,69.8 566.6,61.7 571.3,54.3 574.4,49.9 576,47.8 579.2,44.1 580.7,42.5 582.3,41.1 583.9,39.9 585.5,38.8 587,37.9 588.6,37.3 590.2,36.8 591.8,36.6 593.4,36.6 594.9,36.8 596.5,37.3 598.1,38 599.6,38.9 601.2,40 602.8,41.3 604.4,42.9 606,44.7 607.5,46.7 609.1,49 612.2,54 613.8,56.7 617,62.7 620.1,69.2 626.4,82.7 629.6,89.2 631.2,92.3 634.3,98.1 637.5,103.3 640.6,108 643.8,112.1 645.3,114 648.5,117.4 651.6,120.5 654.8,123.1 657.9,125.4 659.5,126.4 662.7,128.3 665.8,129.8 670.5,131.8 673.7,132.9"/><line x1="454.6" y1="37.2" x2="454.6" y2="142.5" stroke="#d6a9a9" stroke-width="1.2"/><line x1="451.6" y1="37.2" x2="454.6" y2="37.2" stroke="#9b3535" stroke-width="0.9"/><text x="457.90000000000003" y="38.6" font-family="'Liberation Sans', sans-serif" font-size="4.1" fill="#c45c5c">2.2</text><line x1="451.6" y1="63.5" x2="454.6" y2="63.5" stroke="#9b3535" stroke-width="0.9"/><text x="457.90000000000003" y="64.9" font-family="'Liberation Sans', sans-serif" font-size="4.1" fill="#c45c5c">1.7</text><line x1="451.6" y1="89.8" x2="454.6" y2="89.8" stroke="#9b3535" stroke-width="0.9"/><text x="457.90000000000003" y="91.2" font-family="'Liberation Sans', sans-serif" font-size="4.1" fill="#c45c5c">1.1</text><line x1="451.6" y1="116.2" x2="454.6" y2="116.2" stroke="#9b3535" stroke-width="0.9"/><text x="457.90000000000003" y="117.6" font-family="'Liberation Sans', sans-serif" font-size="4.1" fill="#c45c5c">0.6</text><line x1="451.6" y1="142.5" x2="454.6" y2="142.5" stroke="#9b3535" stroke-width="0.9"/><text x="457.90000000000003" y="143.9" font-family="'Liberation Sans', sans-serif" font-size="4.1" fill="#c45c5c">0</text><text x="454.40000000000003" y="34.400000000000006" font-family="'Liberation Sans', sans-serif" font-size="3.8" fill="#c45c5c">SE</text><line x1="676.0" y1="37.2" x2="676.0" y2="142.5" stroke="#79b690" stroke-width="1.2"/><line x1="673.0" y1="37.2" x2="676.0" y2="37.2" stroke="#3a8a5c" stroke-width="0.9"/><text x="671.6" y="38.6" text-anchor="end" font-family="'Liberation Sans', sans-serif" font-size="4.1" fill="#4ea673">23.7</text><line x1="673.0" y1="63.5" x2="676.0" y2="63.5" stroke="#3a8a5c" stroke-width="0.9"/><text x="671.6" y="64.9" text-anchor="end" font-family="'Liberation Sans', sans-serif" font-size="4.1" fill="#4ea673">17.7</text><line x1="673.0" y1="89.8" x2="676.0" y2="89.8" stroke="#3a8a5c" stroke-width="0.9"/><text x="671.6" y="91.2" text-anchor="end" font-family="'Liberation Sans', sans-serif" font-size="4.1" fill="#4ea673">11.8</text><line x1="673.0" y1="116.2" x2="676.0" y2="116.2" stroke="#3a8a5c" stroke-width="0.9"/><text x="671.6" y="117.6" text-anchor="end" font-family="'Liberation Sans', sans-serif" font-size="4.1" fill="#4ea673">5.9</text><line x1="673.0" y1="142.5" x2="676.0" y2="142.5" stroke="#3a8a5c" stroke-width="0.9"/><text x="671.6" y="143.9" text-anchor="end" font-family="'Liberation Sans', sans-serif" font-size="4.1" fill="#4ea673">0</text><text x="676.5" y="34.400000000000006" text-anchor="end" font-family="'Liberation Sans', sans-serif" font-size="3.8" fill="#4ea673">TIF</text><rect x="454.3" y="149.51" width="220.0" height="17.17" fill="#e6e6e6"/><line x1="454.3" x2="674.3" y1="162.96" y2="162.96" stroke="#fafafa" stroke-width="0.9"/><line x1="454.3" x2="674.3" y1="159.72" y2="159.72" stroke="#fafafa" stroke-width="0.9"/><line x1="454.3" x2="674.3" y1="156.48" y2="156.48" stroke="#fafafa" stroke-width="0.9"/><line x1="454.3" x2="674.3" y1="153.24" y2="153.24" stroke="#fafafa" stroke-width="0.9"/><line x1="482.0" x2="482.0" y1="149.51" y2="166.69" stroke="#fafafa" stroke-width="0.9"/><line x1="509.5" x2="509.5" y1="149.51" y2="166.69" stroke="#fafafa" stroke-width="0.9"/><line x1="536.9" x2="536.9" y1="149.51" y2="166.69" stroke="#fafafa" stroke-width="0.9"/><line x1="564.3" x2="564.3" y1="149.51" y2="166.69" stroke="#fafafa" stroke-width="0.9"/><line x1="591.8" x2="591.8" y1="149.51" y2="166.69" stroke="#fafafa" stroke-width="0.9"/><line x1="619.2" x2="619.2" y1="149.51" y2="166.69" stroke="#fafafa" stroke-width="0.9"/><line x1="646.6" x2="646.6" y1="149.51" y2="166.69" stroke="#fafafa" stroke-width="0.9"/><polyline fill="none" stroke="#e4506a" stroke-width="1.1" stroke-linejoin="round" points="454.6,150 486.1,150.1 504,150.3 517.7,150.8 523.2,151.1 528.7,151.6 532.8,152.1 536.9,152.7 541,153.5 545.1,154.4 552,156.1 567.1,160.5 571.2,161.5 575.3,162.5 579.4,163.2 584.9,164.1 589,164.6 594.5,165.1 605.5,165.7 619.2,166 638.4,166.2 674,166.2"/><polyline fill="none" stroke="#5cce4c" stroke-width="1.1" stroke-linejoin="round" points="454.6,166 471.1,165.9 484.8,165.6 497.1,165.2 506.7,164.8 514.9,164.3 523.2,163.6 543.7,161.3 549.2,160.8 554.7,160.4 558.8,160.4 562.9,160.4 568.4,160.8 573.9,161.3 587.6,162.9 595.9,163.7 604.1,164.4 613.7,165 624.7,165.4 638.4,165.7 653.5,165.9 674,166.1"/><polyline fill="none" stroke="#2b8fe6" stroke-width="1.1" stroke-linejoin="round" points="454.6,166.2 508.1,166.1 523.2,165.9 534.1,165.6 542.4,165.3 549.2,164.8 556.1,164.2 571.2,162.5 575.3,162.2 578,162.2 580.8,162.2 584.9,162.5 598.6,164.1 605.5,164.7 611,165.1 617.8,165.5 627.4,165.8 638.4,166 674,166.2"/><polyline fill="none" stroke="#26dbe3" stroke-width="1.1" stroke-linejoin="round" points="454.6,166.2 516.3,166.1 531.4,165.9 543.7,165.6 552,165.3 560.2,164.7 567.1,164 582.1,162 586.3,161.7 589,161.7 591.8,161.7 595.9,162 613.7,164.3 620.6,164.9 627.4,165.3 635.6,165.7 645.2,165.9 674,166.1"/><polyline fill="none" stroke="#cc1fcc" stroke-width="1.1" stroke-linejoin="round" points="454.6,166.2 521.8,166.2 550.6,166 568.4,165.5 590.4,164.4 597.2,164.3 615.1,164.4 652.1,165.2 674,165.6"/><polyline fill="none" stroke="#f4c21a" stroke-width="1.1" stroke-linejoin="round" points="454.6,166.2 527.3,166.1 546.5,165.8 560.2,165.4 571.2,164.9 580.8,164.1 589,163 605.5,160.5 609.6,160.1 613.7,159.9 620.6,160 628.8,160.5 657.6,163 674,164.2"/><polyline fill="none" stroke="#9a9a9a" stroke-width="1.1" stroke-linejoin="round" points="454.6,166.2 512.2,166.2 541,166 561.6,165.6 569.8,165.2 578,164.8 584.9,164.2 590.4,163.6 597.2,162.7 602.7,161.9 612.3,160.1 634.3,155.5 641.1,154.3 646.6,153.5 652.1,152.7 659,152 665.8,151.4 674,151"/><line x1="569.60" x2="569.60" y1="166.20" y2="161.13" stroke="#e4506a" stroke-width="0.8"/><circle cx="569.60" cy="166.30" r="1.75" fill="#e4506a"/><line x1="575.80" x2="575.80" y1="166.20" y2="161.52" stroke="#5cce4c" stroke-width="0.8"/><circle cx="575.80" cy="166.30" r="1.75" fill="#5cce4c"/><line x1="582.00" x2="582.00" y1="166.20" y2="162.26" stroke="#2b8fe6" stroke-width="0.8"/><circle cx="582.00" cy="166.30" r="1.75" fill="#2b8fe6"/><line x1="594.40" x2="594.40" y1="166.20" y2="164.28" stroke="#cc1fcc" stroke-width="0.8"/><circle cx="594.40" cy="166.30" r="1.75" fill="#cc1fcc"/><line x1="613.70" x2="613.70" y1="166.20" y2="164.27" stroke="#26dbe3" stroke-width="0.8"/><circle cx="613.70" cy="166.30" r="1.75" fill="#26dbe3"/><line x1="616.20" x2="616.20" y1="166.20" y2="159.89" stroke="#f4c21a" stroke-width="0.8"/><circle cx="616.20" cy="166.30" r="1.75" fill="#f4c21a"/><line x1="427.8" x2="432.8" y1="157.50" y2="157.50" stroke="#333" stroke-width="0.9"/><text transform="translate(422.5,159.30) scale(0.88,1)" text-anchor="end" font-family="'Liberation Sans', sans-serif" font-size="6.45" fill="#474747">G1_Som_Conc</text><line x1="432.8" x2="435.40000000000003" y1="150.00" y2="150.00" stroke="#222" stroke-width="1"/><text transform="translate(438.9,151.05) scale(1,0.78)" font-family="'Liberation Sans', sans-serif" font-size="3.8" fill="#606060" text-rendering="optimizeSpeed">1.00</text><line x1="432.8" x2="435.40000000000003" y1="153.24" y2="153.24" stroke="#222" stroke-width="1"/><text transform="translate(438.9,154.29) scale(1,0.78)" font-family="'Liberation Sans', sans-serif" font-size="3.8" fill="#606060" text-rendering="optimizeSpeed">0.80</text><line x1="432.8" x2="435.40000000000003" y1="156.48" y2="156.48" stroke="#222" stroke-width="1"/><text transform="translate(438.9,157.53) scale(1,0.78)" font-family="'Liberation Sans', sans-serif" font-size="3.8" fill="#606060" text-rendering="optimizeSpeed">0.60</text><line x1="432.8" x2="435.40000000000003" y1="159.72" y2="159.72" stroke="#222" stroke-width="1"/><text transform="translate(438.9,160.77) scale(1,0.78)" font-family="'Liberation Sans', sans-serif" font-size="3.8" fill="#606060" text-rendering="optimizeSpeed">0.40</text><line x1="432.8" x2="435.40000000000003" y1="162.96" y2="162.96" stroke="#222" stroke-width="1"/><text transform="translate(438.9,164.01) scale(1,0.78)" font-family="'Liberation Sans', sans-serif" font-size="3.8" fill="#606060" text-rendering="optimizeSpeed">0.20</text><line x1="432.8" x2="435.40000000000003" y1="166.20" y2="166.20" stroke="#222" stroke-width="1"/><text transform="translate(438.9,167.25) scale(1,0.78)" font-family="'Liberation Sans', sans-serif" font-size="3.8" fill="#606060" text-rendering="optimizeSpeed">0.00</text><line x1="674.3" x2="684.5" y1="166.20" y2="166.20" stroke="#b4b4b4" stroke-width="0.7"/><path d="M680.10 150.40L680.10 148.30M680.10 150.40L682.10 149.75M680.10 150.40L681.33 152.10M680.10 150.40L678.87 152.10M680.10 150.40L678.10 149.75" stroke="#606060" stroke-width="0.85" stroke-linecap="round" fill="none"/><rect x="454.3" y="167.60" width="220.0" height="17.17" fill="#e6e6e6"/><line x1="454.3" x2="674.3" y1="181.05" y2="181.05" stroke="#fafafa" stroke-width="0.9"/><line x1="454.3" x2="674.3" y1="177.81" y2="177.81" stroke="#fafafa" stroke-width="0.9"/><line x1="454.3" x2="674.3" y1="174.57" y2="174.57" stroke="#fafafa" stroke-width="0.9"/><line x1="454.3" x2="674.3" y1="171.33" y2="171.33" stroke="#fafafa" stroke-width="0.9"/><line x1="482.0" x2="482.0" y1="167.60" y2="184.78" stroke="#fafafa" stroke-width="0.9"/><line x1="509.5" x2="509.5" y1="167.60" y2="184.78" stroke="#fafafa" stroke-width="0.9"/><line x1="536.9" x2="536.9" y1="167.60" y2="184.78" stroke="#fafafa" stroke-width="0.9"/><line x1="564.3" x2="564.3" y1="167.60" y2="184.78" stroke="#fafafa" stroke-width="0.9"/><line x1="591.8" x2="591.8" y1="167.60" y2="184.78" stroke="#fafafa" stroke-width="0.9"/><line x1="619.2" x2="619.2" y1="167.60" y2="184.78" stroke="#fafafa" stroke-width="0.9"/><line x1="646.6" x2="646.6" y1="167.60" y2="184.78" stroke="#fafafa" stroke-width="0.9"/><polyline fill="none" stroke="#e4506a" stroke-width="1.1" stroke-linejoin="round" points="454.6,168.1 479.3,168.2 495.7,168.5 508.1,169 513.6,169.4 517.7,169.9 521.8,170.4 525.9,171 532.8,172.4 539.6,174.2 554.7,178.5 558.8,179.6 562.9,180.5 567.1,181.3 572.5,182.2 576.7,182.7 582.1,183.2 587.6,183.5 594.5,183.8 609.6,184.1 631.5,184.3 674,184.3"/><polyline fill="none" stroke="#5cce4c" stroke-width="1.1" stroke-linejoin="round" points="454.6,184.2 484.8,184 504,183.6 512.2,183.3 519.1,182.9 539.6,181.3 543.7,181.1 547.9,181.1 552,181.1 556.1,181.3 572.5,182.6 580.8,183.2 589,183.5 597.2,183.8 609.6,184 624.7,184.2 674,184.3"/><polyline fill="none" stroke="#2b8fe6" stroke-width="1.1" stroke-linejoin="round" points="454.6,184.3 482,184.2 499.9,184 514.9,183.8 525.9,183.3 534.1,182.8 541,182.3 549.2,181.3 565.7,179 569.8,178.6 573.9,178.5 576.7,178.5 580.8,178.8 584.9,179.3 597.2,181.1 602.7,181.8 611,182.6 619.2,183.2 628.8,183.6 641.1,183.9 674,184.2"/><polyline fill="none" stroke="#26dbe3" stroke-width="1.1" stroke-linejoin="round" points="454.6,184.3 513.6,184.2 530,184 543.7,183.7 553.3,183.4 561.6,182.9 569.8,182.2 586.3,180.6 590.4,180.3 594.5,180.2 598.6,180.3 602.7,180.6 621.9,182.5 634.3,183.3 650.7,183.9 674,184.2"/><polyline fill="none" stroke="#cc1fcc" stroke-width="1.1" stroke-linejoin="round" points="454.6,184.3 504,184.2 531.4,184.1 552,183.7 567.1,183.1 578,182.3 587.6,181.1 591.8,180.5 597.2,179.5 611,176.4 615.1,175.6 619.2,175 623.3,174.7 627.4,174.8 631.5,174.9 639.8,175.6 646.6,176.4 664.4,178.7 674,179.8"/><polyline fill="none" stroke="#f4c21a" stroke-width="1.1" stroke-linejoin="round" points="454.6,184.3 528.7,184.3 562.9,184.1 586.3,183.8 595.9,183.5 604.1,183.1 612.3,182.6 619.2,182.1 626,181.3 632.9,180.4 638.4,179.6 645.2,178.4 665.8,174.4 674,172.9"/><line x1="544.70" x2="544.70" y1="184.29" y2="181.09" stroke="#5cce4c" stroke-width="0.8"/><circle cx="544.70" cy="184.39" r="1.75" fill="#5cce4c"/><line x1="562.10" x2="562.10" y1="184.29" y2="180.36" stroke="#e4506a" stroke-width="0.8"/><circle cx="562.10" cy="184.39" r="1.75" fill="#e4506a"/><line x1="583.20" x2="583.20" y1="184.29" y2="179.08" stroke="#2b8fe6" stroke-width="0.8"/><circle cx="583.20" cy="184.39" r="1.75" fill="#2b8fe6"/><line x1="594.40" x2="594.40" y1="184.29" y2="180.24" stroke="#26dbe3" stroke-width="0.8"/><circle cx="594.40" cy="184.39" r="1.75" fill="#26dbe3"/><line x1="651.90" x2="651.90" y1="184.29" y2="177.04" stroke="#cc1fcc" stroke-width="0.8"/><circle cx="651.90" cy="184.39" r="1.75" fill="#cc1fcc"/><line x1="427.8" x2="432.8" y1="175.59" y2="175.59" stroke="#333" stroke-width="0.9"/><text transform="translate(422.5,177.39) scale(0.88,1)" text-anchor="end" font-family="'Liberation Sans', sans-serif" font-size="6.45" fill="#474747">G2_Anxiety</text><line x1="432.8" x2="435.40000000000003" y1="168.09" y2="168.09" stroke="#222" stroke-width="1"/><text transform="translate(438.9,169.14) scale(1,0.78)" font-family="'Liberation Sans', sans-serif" font-size="3.8" fill="#606060" text-rendering="optimizeSpeed">1.00</text><line x1="432.8" x2="435.40000000000003" y1="171.33" y2="171.33" stroke="#222" stroke-width="1"/><text transform="translate(438.9,172.38) scale(1,0.78)" font-family="'Liberation Sans', sans-serif" font-size="3.8" fill="#606060" text-rendering="optimizeSpeed">0.80</text><line x1="432.8" x2="435.40000000000003" y1="174.57" y2="174.57" stroke="#222" stroke-width="1"/><text transform="translate(438.9,175.62) scale(1,0.78)" font-family="'Liberation Sans', sans-serif" font-size="3.8" fill="#606060" text-rendering="optimizeSpeed">0.60</text><line x1="432.8" x2="435.40000000000003" y1="177.81" y2="177.81" stroke="#222" stroke-width="1"/><text transform="translate(438.9,178.86) scale(1,0.78)" font-family="'Liberation Sans', sans-serif" font-size="3.8" fill="#606060" text-rendering="optimizeSpeed">0.40</text><line x1="432.8" x2="435.40000000000003" y1="181.05" y2="181.05" stroke="#222" stroke-width="1"/><text transform="translate(438.9,182.10) scale(1,0.78)" font-family="'Liberation Sans', sans-serif" font-size="3.8" fill="#606060" text-rendering="optimizeSpeed">0.20</text><line x1="432.8" x2="435.40000000000003" y1="184.29" y2="184.29" stroke="#222" stroke-width="1"/><text transform="translate(438.9,185.34) scale(1,0.78)" font-family="'Liberation Sans', sans-serif" font-size="3.8" fill="#606060" text-rendering="optimizeSpeed">0.00</text><line x1="674.3" x2="684.5" y1="184.29" y2="184.29" stroke="#b4b4b4" stroke-width="0.7"/><path d="M680.10 168.49L680.10 166.39M680.10 168.49L682.10 167.84M680.10 168.49L681.33 170.19M680.10 168.49L678.87 170.19M680.10 168.49L678.10 167.84" stroke="#606060" stroke-width="0.85" stroke-linecap="round" fill="none"/><rect x="454.3" y="185.69" width="220.0" height="17.17" fill="#e6e6e6"/><line x1="454.3" x2="674.3" y1="199.14" y2="199.14" stroke="#fafafa" stroke-width="0.9"/><line x1="454.3" x2="674.3" y1="195.90" y2="195.90" stroke="#fafafa" stroke-width="0.9"/><line x1="454.3" x2="674.3" y1="192.66" y2="192.66" stroke="#fafafa" stroke-width="0.9"/><line x1="454.3" x2="674.3" y1="189.42" y2="189.42" stroke="#fafafa" stroke-width="0.9"/><line x1="482.0" x2="482.0" y1="185.69" y2="202.87" stroke="#fafafa" stroke-width="0.9"/><line x1="509.5" x2="509.5" y1="185.69" y2="202.87" stroke="#fafafa" stroke-width="0.9"/><line x1="536.9" x2="536.9" y1="185.69" y2="202.87" stroke="#fafafa" stroke-width="0.9"/><line x1="564.3" x2="564.3" y1="185.69" y2="202.87" stroke="#fafafa" stroke-width="0.9"/><line x1="591.8" x2="591.8" y1="185.69" y2="202.87" stroke="#fafafa" stroke-width="0.9"/><line x1="619.2" x2="619.2" y1="185.69" y2="202.87" stroke="#fafafa" stroke-width="0.9"/><line x1="646.6" x2="646.6" y1="185.69" y2="202.87" stroke="#fafafa" stroke-width="0.9"/><polyline fill="none" stroke="#e4506a" stroke-width="1.1" stroke-linejoin="round" points="454.6,186.2 484.8,186.3 501.2,186.5 513.6,187 519.1,187.4 523.2,187.8 527.3,188.3 531.4,189 538.3,190.4 545.1,192.2 560.2,196.8 564.3,197.8 568.4,198.8 572.5,199.6 578,200.4 582.1,200.9 587.6,201.4 598.6,201.9 612.3,202.2 632.9,202.3 674,202.4"/><polyline fill="none" stroke="#5cce4c" stroke-width="1.1" stroke-linejoin="round" points="454.6,202.4 495.7,202.2 508.1,202.1 517.7,201.9 524.5,201.6 531.4,201.2 538.3,200.7 552,199.4 556.1,199.2 558.8,199.1 561.6,199.2 565.7,199.4 580.8,200.8 587.6,201.3 594.5,201.6 602.7,201.9 613.7,202.1 627.4,202.3 674,202.4"/><polyline fill="none" stroke="#2b8fe6" stroke-width="1.1" stroke-linejoin="round" points="454.6,202.4 488.9,202.3 509.5,202.2 524.5,202 535.5,201.6 543.7,201 550.6,200.4 557.5,199.4 572.5,196.9 576.7,196.5 579.4,196.4 582.1,196.5 586.3,196.9 590.4,197.5 600,199.2 606.8,200.2 612.3,200.8 619.2,201.3 628.8,201.8 639.8,202.1 653.5,202.2 674,202.3"/><polyline fill="none" stroke="#26dbe3" stroke-width="1.1" stroke-linejoin="round" points="454.6,202.4 513.6,202.3 528.7,202.2 541,202 549.2,201.7 557.5,201.3 564.3,200.8 579.4,199.4 583.5,199.2 586.3,199.1 589,199.2 593.1,199.4 611,201 617.8,201.4 624.7,201.8 643.9,202.2 674,202.3"/><polyline fill="none" stroke="#cc1fcc" stroke-width="1.1" stroke-linejoin="round" points="454.6,202.4 524.5,202.3 542.4,202.2 554.7,201.9 564.3,201.6 572.5,201.1 580.8,200.4 595.9,198.7 600,198.4 602.7,198.3 605.5,198.4 609.6,198.7 627.4,200.7 638.4,201.5 653.5,202 674,202.3"/><polyline fill="none" stroke="#f4c21a" stroke-width="1.1" stroke-linejoin="round" points="454.6,202.4 516.3,202.3 547.9,202.1 568.4,201.7 594.5,200.7 604.1,200.4 621.9,200.6 674,201.7"/><polyline fill="none" stroke="#9a9a9a" stroke-width="1.1" stroke-linejoin="round" points="454.6,202.4 513.6,202.3 542.4,202.2 562.9,201.7 571.2,201.4 578,200.9 584.9,200.4 590.4,199.8 595.9,199 601.4,198.2 611,196.4 632.9,191.6 639.8,190.4 645.2,189.5 652.1,188.6 659,187.9 665.8,187.4 674,187"/><line x1="564.10" x2="564.10" y1="202.38" y2="199.30" stroke="#5cce4c" stroke-width="0.8"/><circle cx="564.10" cy="202.48" r="1.75" fill="#5cce4c"/><line x1="578.20" x2="578.20" y1="202.38" y2="200.46" stroke="#e4506a" stroke-width="0.8"/><circle cx="578.20" cy="202.48" r="1.75" fill="#e4506a"/><line x1="596.40" x2="596.40" y1="202.38" y2="199.67" stroke="#26dbe3" stroke-width="0.8"/><circle cx="596.40" cy="202.48" r="1.75" fill="#26dbe3"/><line x1="601.30" x2="601.30" y1="202.38" y2="199.42" stroke="#2b8fe6" stroke-width="0.8"/><circle cx="601.30" cy="202.48" r="1.75" fill="#2b8fe6"/><line x1="605.50" x2="605.50" y1="202.38" y2="200.44" stroke="#f4c21a" stroke-width="0.8"/><circle cx="605.50" cy="202.48" r="1.75" fill="#f4c21a"/><line x1="610.50" x2="610.50" y1="202.38" y2="198.74" stroke="#cc1fcc" stroke-width="0.8"/><circle cx="610.50" cy="202.48" r="1.75" fill="#cc1fcc"/><line x1="427.8" x2="432.8" y1="193.68" y2="193.68" stroke="#333" stroke-width="0.9"/><text transform="translate(422.5,195.48) scale(0.88,1)" text-anchor="end" font-family="'Liberation Sans', sans-serif" font-size="6.45" fill="#474747">G3_Guilt</text><line x1="432.8" x2="435.40000000000003" y1="186.18" y2="186.18" stroke="#222" stroke-width="1"/><text transform="translate(438.9,187.23) scale(1,0.78)" font-family="'Liberation Sans', sans-serif" font-size="3.8" fill="#606060" text-rendering="optimizeSpeed">1.00</text><line x1="432.8" x2="435.40000000000003" y1="189.42" y2="189.42" stroke="#222" stroke-width="1"/><text transform="translate(438.9,190.47) scale(1,0.78)" font-family="'Liberation Sans', sans-serif" font-size="3.8" fill="#606060" text-rendering="optimizeSpeed">0.80</text><line x1="432.8" x2="435.40000000000003" y1="192.66" y2="192.66" stroke="#222" stroke-width="1"/><text transform="translate(438.9,193.71) scale(1,0.78)" font-family="'Liberation Sans', sans-serif" font-size="3.8" fill="#606060" text-rendering="optimizeSpeed">0.60</text><line x1="432.8" x2="435.40000000000003" y1="195.90" y2="195.90" stroke="#222" stroke-width="1"/><text transform="translate(438.9,196.95) scale(1,0.78)" font-family="'Liberation Sans', sans-serif" font-size="3.8" fill="#606060" text-rendering="optimizeSpeed">0.40</text><line x1="432.8" x2="435.40000000000003" y1="199.14" y2="199.14" stroke="#222" stroke-width="1"/><text transform="translate(438.9,200.19) scale(1,0.78)" font-family="'Liberation Sans', sans-serif" font-size="3.8" fill="#606060" text-rendering="optimizeSpeed">0.20</text><line x1="432.8" x2="435.40000000000003" y1="202.38" y2="202.38" stroke="#222" stroke-width="1"/><text transform="translate(438.9,203.43) scale(1,0.78)" font-family="'Liberation Sans', sans-serif" font-size="3.8" fill="#606060" text-rendering="optimizeSpeed">0.00</text><line x1="674.3" x2="684.5" y1="202.38" y2="202.38" stroke="#b4b4b4" stroke-width="0.7"/><path d="M680.10 186.58L680.10 184.48M680.10 186.58L682.10 185.93M680.10 186.58L681.33 188.28M680.10 186.58L678.87 188.28M680.10 186.58L678.10 185.93" stroke="#606060" stroke-width="0.85" stroke-linecap="round" fill="none"/><rect x="454.3" y="203.78" width="220.0" height="17.17" fill="#e6e6e6"/><line x1="454.3" x2="674.3" y1="217.23" y2="217.23" stroke="#fafafa" stroke-width="0.9"/><line x1="454.3" x2="674.3" y1="213.99" y2="213.99" stroke="#fafafa" stroke-width="0.9"/><line x1="454.3" x2="674.3" y1="210.75" y2="210.75" stroke="#fafafa" stroke-width="0.9"/><line x1="454.3" x2="674.3" y1="207.51" y2="207.51" stroke="#fafafa" stroke-width="0.9"/><line x1="482.0" x2="482.0" y1="203.78" y2="220.96" stroke="#fafafa" stroke-width="0.9"/><line x1="509.5" x2="509.5" y1="203.78" y2="220.96" stroke="#fafafa" stroke-width="0.9"/><line x1="536.9" x2="536.9" y1="203.78" y2="220.96" stroke="#fafafa" stroke-width="0.9"/><line x1="564.3" x2="564.3" y1="203.78" y2="220.96" stroke="#fafafa" stroke-width="0.9"/><line x1="591.8" x2="591.8" y1="203.78" y2="220.96" stroke="#fafafa" stroke-width="0.9"/><line x1="619.2" x2="619.2" y1="203.78" y2="220.96" stroke="#fafafa" stroke-width="0.9"/><line x1="646.6" x2="646.6" y1="203.78" y2="220.96" stroke="#fafafa" stroke-width="0.9"/><polyline fill="none" stroke="#e4506a" stroke-width="1.1" stroke-linejoin="round" points="454.6,204.3 480.7,204.4 497.1,204.8 510.8,205.4 516.3,205.8 521.8,206.3 530,207.4 538.3,208.8 546.5,210.7 562.9,214.7 572.5,216.7 576.7,217.4 582.1,218.1 587.6,218.7 593.1,219.2 605.5,219.9 620.6,220.2 641.1,220.4 674,220.5"/><polyline fill="none" stroke="#5cce4c" stroke-width="1.1" stroke-linejoin="round" points="454.6,220.5 495.7,220.3 508.1,220.1 517.7,219.8 524.5,219.4 531.4,218.9 538.3,218.2 552,216.5 556.1,216.2 558.8,216.1 561.6,216.2 565.7,216.5 580.8,218.3 587.6,219 594.5,219.5 602.7,219.9 613.7,220.2 627.4,220.3 674,220.5"/><polyline fill="none" stroke="#2b8fe6" stroke-width="1.1" stroke-linejoin="round" points="454.6,220.5 506.7,220.3 521.8,220.1 532.8,219.7 541,219.2 547.9,218.6 554.7,217.8 569.8,215.4 573.9,215 576.7,215 579.4,215 583.5,215.4 597.2,217.6 604.1,218.5 609.6,219 616.4,219.5 626,219.9 637,220.2 652.1,220.4 674,220.4"/><polyline fill="none" stroke="#26dbe3" stroke-width="1.1" stroke-linejoin="round" points="454.6,220.4 490.3,220.3 514.9,220.1 532.8,219.8 547.9,219.2 558.8,218.4 568.4,217.5 578,216.3 597.2,213.4 602.7,212.8 608.2,212.5 616.4,212.7 624.7,213.2 632.9,214 656.2,216.5 664.4,217.2 674,218"/><polyline fill="none" stroke="#cc1fcc" stroke-width="1.1" stroke-linejoin="round" points="454.6,220.4 495.7,220.3 524.5,220 546.5,219.4 556.1,219 565.7,218.5 580.8,217.3 594.5,215.8 606.8,214.2 634.3,210.2 648,208.5 660.3,207.2 674,206.2"/><line x1="564.60" x2="564.60" y1="220.47" y2="216.35" stroke="#5cce4c" stroke-width="0.8"/><circle cx="564.60" cy="220.57" r="1.75" fill="#5cce4c"/><line x1="567.10" x2="567.10" y1="220.47" y2="215.63" stroke="#e4506a" stroke-width="0.8"/><circle cx="567.10" cy="220.57" r="1.75" fill="#e4506a"/><line x1="583.20" x2="583.20" y1="220.47" y2="215.37" stroke="#2b8fe6" stroke-width="0.8"/><circle cx="583.20" cy="220.57" r="1.75" fill="#2b8fe6"/><line x1="628.00" x2="628.00" y1="220.47" y2="213.51" stroke="#26dbe3" stroke-width="0.8"/><circle cx="628.00" cy="220.57" r="1.75" fill="#26dbe3"/><line x1="427.8" x2="432.8" y1="211.77" y2="211.77" stroke="#333" stroke-width="0.9"/><text transform="translate(422.5,213.57) scale(0.88,1)" text-anchor="end" font-family="'Liberation Sans', sans-serif" font-size="6.45" fill="#474747">G4_Tension</text><line x1="432.8" x2="435.40000000000003" y1="204.27" y2="204.27" stroke="#222" stroke-width="1"/><text transform="translate(438.9,205.32) scale(1,0.78)" font-family="'Liberation Sans', sans-serif" font-size="3.8" fill="#606060" text-rendering="optimizeSpeed">1.00</text><line x1="432.8" x2="435.40000000000003" y1="207.51" y2="207.51" stroke="#222" stroke-width="1"/><text transform="translate(438.9,208.56) scale(1,0.78)" font-family="'Liberation Sans', sans-serif" font-size="3.8" fill="#606060" text-rendering="optimizeSpeed">0.80</text><line x1="432.8" x2="435.40000000000003" y1="210.75" y2="210.75" stroke="#222" stroke-width="1"/><text transform="translate(438.9,211.80) scale(1,0.78)" font-family="'Liberation Sans', sans-serif" font-size="3.8" fill="#606060" text-rendering="optimizeSpeed">0.60</text><line x1="432.8" x2="435.40000000000003" y1="213.99" y2="213.99" stroke="#222" stroke-width="1"/><text transform="translate(438.9,215.04) scale(1,0.78)" font-family="'Liberation Sans', sans-serif" font-size="3.8" fill="#606060" text-rendering="optimizeSpeed">0.40</text><line x1="432.8" x2="435.40000000000003" y1="217.23" y2="217.23" stroke="#222" stroke-width="1"/><text transform="translate(438.9,218.28) scale(1,0.78)" font-family="'Liberation Sans', sans-serif" font-size="3.8" fill="#606060" text-rendering="optimizeSpeed">0.20</text><line x1="432.8" x2="435.40000000000003" y1="220.47" y2="220.47" stroke="#222" stroke-width="1"/><text transform="translate(438.9,221.52) scale(1,0.78)" font-family="'Liberation Sans', sans-serif" font-size="3.8" fill="#606060" text-rendering="optimizeSpeed">0.00</text><line x1="674.3" x2="684.5" y1="220.47" y2="220.47" stroke="#b4b4b4" stroke-width="0.7"/><path d="M680.10 204.67L680.10 202.57M680.10 204.67L682.10 204.02M680.10 204.67L681.33 206.37M680.10 204.67L678.87 206.37M680.10 204.67L678.10 204.02" stroke="#606060" stroke-width="0.85" stroke-linecap="round" fill="none"/><rect x="454.3" y="221.87" width="220.0" height="17.17" fill="#e6e6e6"/><line x1="454.3" x2="674.3" y1="235.32" y2="235.32" stroke="#fafafa" stroke-width="0.9"/><line x1="454.3" x2="674.3" y1="232.08" y2="232.08" stroke="#fafafa" stroke-width="0.9"/><line x1="454.3" x2="674.3" y1="228.84" y2="228.84" stroke="#fafafa" stroke-width="0.9"/><line x1="454.3" x2="674.3" y1="225.60" y2="225.60" stroke="#fafafa" stroke-width="0.9"/><line x1="482.0" x2="482.0" y1="221.87" y2="239.05" stroke="#fafafa" stroke-width="0.9"/><line x1="509.5" x2="509.5" y1="221.87" y2="239.05" stroke="#fafafa" stroke-width="0.9"/><line x1="536.9" x2="536.9" y1="221.87" y2="239.05" stroke="#fafafa" stroke-width="0.9"/><line x1="564.3" x2="564.3" y1="221.87" y2="239.05" stroke="#fafafa" stroke-width="0.9"/><line x1="591.8" x2="591.8" y1="221.87" y2="239.05" stroke="#fafafa" stroke-width="0.9"/><line x1="619.2" x2="619.2" y1="221.87" y2="239.05" stroke="#fafafa" stroke-width="0.9"/><line x1="646.6" x2="646.6" y1="221.87" y2="239.05" stroke="#fafafa" stroke-width="0.9"/><polyline fill="none" stroke="#e4506a" stroke-width="1.1" stroke-linejoin="round" points="454.6,222.4 487.5,222.4 505.3,222.7 519.1,223.2 524.5,223.5 530,224 534.1,224.5 538.3,225.2 542.4,225.9 546.5,226.8 553.3,228.6 568.4,233 572.5,234 576.7,234.9 580.8,235.7 586.3,236.5 590.4,237 595.9,237.5 606.8,238.1 620.6,238.4 639.8,238.5 674,238.6"/><polyline fill="none" stroke="#5cce4c" stroke-width="1.1" stroke-linejoin="round" points="454.6,238.6 501.2,238.5 514.9,238.3 525.9,238.1 534.1,237.8 541,237.5 547.9,237 562.9,235.6 567.1,235.4 569.8,235.3 572.5,235.4 576.7,235.6 590.4,236.8 597.2,237.4 604.1,237.8 611,238 620.6,238.3 632.9,238.4 674,238.5"/><polyline fill="none" stroke="#2b8fe6" stroke-width="1.1" stroke-linejoin="round" points="454.6,238.6 516.3,238.4 531.4,238.2 543.7,237.8 552,237.4 560.2,236.6 567.1,235.8 582.1,233.3 586.3,233 589,232.9 591.8,233 595.9,233.3 613.7,236.1 620.6,236.9 627.4,237.5 635.6,237.9 645.2,238.2 657.6,238.4 674,238.5"/><polyline fill="none" stroke="#26dbe3" stroke-width="1.1" stroke-linejoin="round" points="454.6,238.6 516.3,238.5 532.8,238.3 545.1,238 554.7,237.5 562.9,236.9 569.8,236.2 584.9,234.1 589,233.8 591.8,233.7 594.5,233.8 598.6,234.1 616.4,236.5 621.9,237 628.8,237.5 637,237.9 646.6,238.2 674,238.5"/><polyline fill="none" stroke="#cc1fcc" stroke-width="1.1" stroke-linejoin="round" points="454.6,238.6 527.3,238.5 546.5,238.4 560.2,238.2 569.8,237.9 579.4,237.5 589,236.9 605.5,235.6 609.6,235.4 613.7,235.3 621.9,235.4 631.5,235.6 674,237.3"/><polyline fill="none" stroke="#f4c21a" stroke-width="1.1" stroke-linejoin="round" points="454.6,238.6 516.3,238.5 546.5,238.3 568.4,237.9 576.7,237.6 584.9,237.1 595.9,236.2 606.8,234.8 617.8,232.9 639.8,228.5 649.4,226.8 656.2,225.7 661.7,225.1 667.2,224.5 674,223.9"/><line x1="568.30" x2="568.30" y1="238.56" y2="235.33" stroke="#5cce4c" stroke-width="0.8"/><circle cx="568.30" cy="238.66" r="1.75" fill="#5cce4c"/><line x1="582.70" x2="582.70" y1="238.56" y2="236.02" stroke="#e4506a" stroke-width="0.8"/><circle cx="582.70" cy="238.66" r="1.75" fill="#e4506a"/><line x1="605.50" x2="605.50" y1="238.56" y2="234.89" stroke="#2b8fe6" stroke-width="0.8"/><circle cx="605.50" cy="238.66" r="1.75" fill="#2b8fe6"/><line x1="613.70" x2="613.70" y1="238.56" y2="235.32" stroke="#cc1fcc" stroke-width="0.8"/><circle cx="613.70" cy="238.66" r="1.75" fill="#cc1fcc"/><line x1="427.8" x2="432.8" y1="229.86" y2="229.86" stroke="#333" stroke-width="0.9"/><text transform="translate(422.5,231.66) scale(0.88,1)" text-anchor="end" font-family="'Liberation Sans', sans-serif" font-size="6.45" fill="#474747">G5_Mann_Post</text><line x1="432.8" x2="435.40000000000003" y1="222.36" y2="222.36" stroke="#222" stroke-width="1"/><text transform="translate(438.9,223.41) scale(1,0.78)" font-family="'Liberation Sans', sans-serif" font-size="3.8" fill="#606060" text-rendering="optimizeSpeed">1.00</text><line x1="432.8" x2="435.40000000000003" y1="225.60" y2="225.60" stroke="#222" stroke-width="1"/><text transform="translate(438.9,226.65) scale(1,0.78)" font-family="'Liberation Sans', sans-serif" font-size="3.8" fill="#606060" text-rendering="optimizeSpeed">0.80</text><line x1="432.8" x2="435.40000000000003" y1="228.84" y2="228.84" stroke="#222" stroke-width="1"/><text transform="translate(438.9,229.89) scale(1,0.78)" font-family="'Liberation Sans', sans-serif" font-size="3.8" fill="#606060" text-rendering="optimizeSpeed">0.60</text><line x1="432.8" x2="435.40000000000003" y1="232.08" y2="232.08" stroke="#222" stroke-width="1"/><text transform="translate(438.9,233.13) scale(1,0.78)" font-family="'Liberation Sans', sans-serif" font-size="3.8" fill="#606060" text-rendering="optimizeSpeed">0.40</text><line x1="432.8" x2="435.40000000000003" y1="235.32" y2="235.32" stroke="#222" stroke-width="1"/><text transform="translate(438.9,236.37) scale(1,0.78)" font-family="'Liberation Sans', sans-serif" font-size="3.8" fill="#606060" text-rendering="optimizeSpeed">0.20</text><line x1="432.8" x2="435.40000000000003" y1="238.56" y2="238.56" stroke="#222" stroke-width="1"/><text transform="translate(438.9,239.61) scale(1,0.78)" font-family="'Liberation Sans', sans-serif" font-size="3.8" fill="#606060" text-rendering="optimizeSpeed">0.00</text><line x1="674.3" x2="684.5" y1="238.56" y2="238.56" stroke="#b4b4b4" stroke-width="0.7"/><path d="M680.10 222.76L680.10 220.66M680.10 222.76L682.10 222.11M680.10 222.76L681.33 224.46M680.10 222.76L678.87 224.46M680.10 222.76L678.10 222.11" stroke="#606060" stroke-width="0.85" stroke-linecap="round" fill="none"/><rect x="454.3" y="239.96" width="220.0" height="17.17" fill="#e6e6e6"/><line x1="454.3" x2="674.3" y1="253.41" y2="253.41" stroke="#fafafa" stroke-width="0.9"/><line x1="454.3" x2="674.3" y1="250.17" y2="250.17" stroke="#fafafa" stroke-width="0.9"/><line x1="454.3" x2="674.3" y1="246.93" y2="246.93" stroke="#fafafa" stroke-width="0.9"/><line x1="454.3" x2="674.3" y1="243.69" y2="243.69" stroke="#fafafa" stroke-width="0.9"/><line x1="482.0" x2="482.0" y1="239.96" y2="257.14" stroke="#fafafa" stroke-width="0.9"/><line x1="509.5" x2="509.5" y1="239.96" y2="257.14" stroke="#fafafa" stroke-width="0.9"/><line x1="536.9" x2="536.9" y1="239.96" y2="257.14" stroke="#fafafa" stroke-width="0.9"/><line x1="564.3" x2="564.3" y1="239.96" y2="257.14" stroke="#fafafa" stroke-width="0.9"/><line x1="591.8" x2="591.8" y1="239.96" y2="257.14" stroke="#fafafa" stroke-width="0.9"/><line x1="619.2" x2="619.2" y1="239.96" y2="257.14" stroke="#fafafa" stroke-width="0.9"/><line x1="646.6" x2="646.6" y1="239.96" y2="257.14" stroke="#fafafa" stroke-width="0.9"/><polyline fill="none" stroke="#e4506a" stroke-width="1.1" stroke-linejoin="round" points="454.6,240.5 480.7,240.6 498.5,240.9 510.8,241.4 516.3,241.8 521.8,242.3 530,243.3 538.3,244.8 546.5,246.8 562.9,251 571.2,252.8 575.3,253.5 580.8,254.4 586.3,255 591.8,255.4 602.7,256 617.8,256.4 638.4,256.6 674,256.6"/><polyline fill="none" stroke="#5cce4c" stroke-width="1.1" stroke-linejoin="round" points="454.6,256.6 493,256.5 514.9,256.3 528.7,255.8 549.2,254.4 556.1,254.2 562.9,254.4 578,255.5 584.9,255.8 600,256.3 624.7,256.6 674,256.6"/><polyline fill="none" stroke="#2b8fe6" stroke-width="1.1" stroke-linejoin="round" points="454.6,256.6 504,256.5 517.7,256.3 528.7,255.9 536.9,255.5 543.7,254.9 550.6,254.1 565.7,251.9 569.8,251.5 572.5,251.5 575.3,251.5 579.4,251.9 593.1,253.9 600,254.8 606.8,255.4 613.7,255.8 623.3,256.2 635.6,256.4 674,256.6"/><polyline fill="none" stroke="#26dbe3" stroke-width="1.1" stroke-linejoin="round" points="454.6,256.6 516.3,256.6 531.4,256.5 543.7,256.2 553.3,255.9 561.6,255.4 568.4,254.9 583.5,253.4 587.6,253.1 590.4,253.1 593.1,253.1 597.2,253.4 615.1,255.1 621.9,255.6 628.8,256 646.6,256.4 674,256.6"/><polyline fill="none" stroke="#cc1fcc" stroke-width="1.1" stroke-linejoin="round" points="454.6,256.6 530,256.5 549.2,256.3 562.9,255.9 573.9,255.4 583.5,254.6 591.8,253.7 608.2,251.3 612.3,251 616.4,250.8 623.3,250.9 631.5,251.4 659,253.6 674,254.7"/><polyline fill="none" stroke="#f4c21a" stroke-width="1.1" stroke-linejoin="round" points="454.6,256.6 521.8,256.6 553.3,256.5 576.7,256 584.9,255.7 593.1,255.3 600,254.8 605.5,254.3 612.3,253.4 617.8,252.7 628.8,250.8 648,246.9 656.2,245.3 665.8,243.8 674,242.8"/><line x1="546.00" x2="546.00" y1="256.65" y2="254.61" stroke="#5cce4c" stroke-width="0.8"/><circle cx="546.00" cy="256.75" r="1.75" fill="#5cce4c"/><line x1="579.00" x2="579.00" y1="256.65" y2="254.11" stroke="#e4506a" stroke-width="0.8"/><circle cx="579.00" cy="256.75" r="1.75" fill="#e4506a"/><line x1="588.20" x2="588.20" y1="256.65" y2="253.16" stroke="#2b8fe6" stroke-width="0.8"/><circle cx="588.20" cy="256.75" r="1.75" fill="#2b8fe6"/><line x1="600.00" x2="600.00" y1="256.65" y2="253.62" stroke="#26dbe3" stroke-width="0.8"/><circle cx="600.00" cy="256.75" r="1.75" fill="#26dbe3"/><line x1="622.90" x2="622.90" y1="256.65" y2="250.92" stroke="#cc1fcc" stroke-width="0.8"/><circle cx="622.90" cy="256.75" r="1.75" fill="#cc1fcc"/><line x1="427.8" x2="432.8" y1="247.95" y2="247.95" stroke="#333" stroke-width="0.9"/><text transform="translate(422.5,249.75) scale(0.88,1)" text-anchor="end" font-family="'Liberation Sans', sans-serif" font-size="6.45" fill="#474747">G6_Depr</text><line x1="432.8" x2="435.40000000000003" y1="240.45" y2="240.45" stroke="#222" stroke-width="1"/><text transform="translate(438.9,241.50) scale(1,0.78)" font-family="'Liberation Sans', sans-serif" font-size="3.8" fill="#606060" text-rendering="optimizeSpeed">1.00</text><line x1="432.8" x2="435.40000000000003" y1="243.69" y2="243.69" stroke="#222" stroke-width="1"/><text transform="translate(438.9,244.74) scale(1,0.78)" font-family="'Liberation Sans', sans-serif" font-size="3.8" fill="#606060" text-rendering="optimizeSpeed">0.80</text><line x1="432.8" x2="435.40000000000003" y1="246.93" y2="246.93" stroke="#222" stroke-width="1"/><text transform="translate(438.9,247.98) scale(1,0.78)" font-family="'Liberation Sans', sans-serif" font-size="3.8" fill="#606060" text-rendering="optimizeSpeed">0.60</text><line x1="432.8" x2="435.40000000000003" y1="250.17" y2="250.17" stroke="#222" stroke-width="1"/><text transform="translate(438.9,251.22) scale(1,0.78)" font-family="'Liberation Sans', sans-serif" font-size="3.8" fill="#606060" text-rendering="optimizeSpeed">0.40</text><line x1="432.8" x2="435.40000000000003" y1="253.41" y2="253.41" stroke="#222" stroke-width="1"/><text transform="translate(438.9,254.46) scale(1,0.78)" font-family="'Liberation Sans', sans-serif" font-size="3.8" fill="#606060" text-rendering="optimizeSpeed">0.20</text><line x1="432.8" x2="435.40000000000003" y1="256.65" y2="256.65" stroke="#222" stroke-width="1"/><text transform="translate(438.9,257.70) scale(1,0.78)" font-family="'Liberation Sans', sans-serif" font-size="3.8" fill="#606060" text-rendering="optimizeSpeed">0.00</text><line x1="674.3" x2="684.5" y1="256.65" y2="256.65" stroke="#b4b4b4" stroke-width="0.7"/><path d="M680.10 240.85L680.10 238.75M680.10 240.85L682.10 240.20M680.10 240.85L681.33 242.55M680.10 240.85L678.87 242.55M680.10 240.85L678.10 240.20" stroke="#606060" stroke-width="0.85" stroke-linecap="round" fill="none"/><rect x="454.3" y="258.05" width="220.0" height="17.17" fill="#e6e6e6"/><line x1="454.3" x2="674.3" y1="271.50" y2="271.50" stroke="#fafafa" stroke-width="0.9"/><line x1="454.3" x2="674.3" y1="268.26" y2="268.26" stroke="#fafafa" stroke-width="0.9"/><line x1="454.3" x2="674.3" y1="265.02" y2="265.02" stroke="#fafafa" stroke-width="0.9"/><line x1="454.3" x2="674.3" y1="261.78" y2="261.78" stroke="#fafafa" stroke-width="0.9"/><line x1="482.0" x2="482.0" y1="258.05" y2="275.23" stroke="#fafafa" stroke-width="0.9"/><line x1="509.5" x2="509.5" y1="258.05" y2="275.23" stroke="#fafafa" stroke-width="0.9"/><line x1="536.9" x2="536.9" y1="258.05" y2="275.23" stroke="#fafafa" stroke-width="0.9"/><line x1="564.3" x2="564.3" y1="258.05" y2="275.23" stroke="#fafafa" stroke-width="0.9"/><line x1="591.8" x2="591.8" y1="258.05" y2="275.23" stroke="#fafafa" stroke-width="0.9"/><line x1="619.2" x2="619.2" y1="258.05" y2="275.23" stroke="#fafafa" stroke-width="0.9"/><line x1="646.6" x2="646.6" y1="258.05" y2="275.23" stroke="#fafafa" stroke-width="0.9"/><polyline fill="none" stroke="#e4506a" stroke-width="1.1" stroke-linejoin="round" points="454.6,258.6 482,258.7 499.9,258.9 513.6,259.5 519.1,259.9 524.5,260.4 532.8,261.4 541,262.9 549.2,264.8 565.7,269.1 573.9,270.9 578,271.6 583.5,272.4 589,273.1 594.5,273.5 605.5,274.1 620.6,274.5 639.8,274.7 674,274.7"/><polyline fill="none" stroke="#5cce4c" stroke-width="1.1" stroke-linejoin="round" points="454.6,274.7 498.5,274.6 510.8,274.5 521.8,274.3 530,273.9 536.9,273.6 543.7,273 557.5,271.8 561.6,271.5 564.3,271.5 567.1,271.5 571.2,271.8 584.9,273 591.8,273.6 598.6,273.9 606.8,274.3 617.8,274.5 630.2,274.6 674,274.7"/><polyline fill="none" stroke="#2b8fe6" stroke-width="1.1" stroke-linejoin="round" points="454.6,274.7 509.5,274.6 524.5,274.3 535.5,273.9 543.7,273.4 550.6,272.8 557.5,271.9 572.5,269.4 576.7,269 579.4,268.9 582.1,269 586.3,269.4 600,271.7 606.8,272.6 612.3,273.2 619.2,273.7 628.8,274.2 639.8,274.4 653.5,274.6 674,274.7"/><polyline fill="none" stroke="#26dbe3" stroke-width="1.1" stroke-linejoin="round" points="454.6,274.7 516.3,274.6 532.8,274.5 545.1,274.2 554.7,273.7 562.9,273.1 569.8,272.3 584.9,270.3 589,269.9 591.8,269.9 594.5,269.9 598.6,270.3 616.4,272.7 621.9,273.2 628.8,273.7 637,274.1 646.6,274.4 674,274.7"/><polyline fill="none" stroke="#cc1fcc" stroke-width="1.1" stroke-linejoin="round" points="454.6,274.7 531.4,274.6 550.6,274.4 564.3,274 575.3,273.4 584.9,272.5 594.5,271.2 606.8,269.1 611,268.5 615.1,268.1 619.2,267.9 626,268.1 634.3,268.6 660.3,271.1 674,272.3"/><polyline fill="none" stroke="#f4c21a" stroke-width="1.1" stroke-linejoin="round" points="454.6,274.7 514.9,274.7 545.1,274.5 567.1,274 575.3,273.7 583.5,273.3 595.9,272.2 606.8,270.8 617.8,269 639.8,264.8 650.7,262.9 661.7,261.4 667.2,260.8 674,260.2"/><line x1="556.70" x2="556.70" y1="274.74" y2="271.82" stroke="#5cce4c" stroke-width="0.8"/><circle cx="556.70" cy="274.84" r="1.75" fill="#5cce4c"/><line x1="586.40" x2="586.40" y1="274.74" y2="272.79" stroke="#e4506a" stroke-width="0.8"/><circle cx="586.40" cy="274.84" r="1.75" fill="#e4506a"/><line x1="600.50" x2="600.50" y1="274.74" y2="271.73" stroke="#2b8fe6" stroke-width="0.8"/><circle cx="600.50" cy="274.84" r="1.75" fill="#2b8fe6"/><line x1="606.30" x2="606.30" y1="274.74" y2="271.31" stroke="#26dbe3" stroke-width="0.8"/><circle cx="606.30" cy="274.84" r="1.75" fill="#26dbe3"/><line x1="625.90" x2="625.90" y1="274.74" y2="268.08" stroke="#cc1fcc" stroke-width="0.8"/><circle cx="625.90" cy="274.84" r="1.75" fill="#cc1fcc"/><line x1="427.8" x2="432.8" y1="266.04" y2="266.04" stroke="#333" stroke-width="0.9"/><text transform="translate(422.5,267.84) scale(0.88,1)" text-anchor="end" font-family="'Liberation Sans', sans-serif" font-size="6.45" fill="#474747">G7_Mot_Retard</text><line x1="432.8" x2="435.40000000000003" y1="258.54" y2="258.54" stroke="#222" stroke-width="1"/><text transform="translate(438.9,259.59) scale(1,0.78)" font-family="'Liberation Sans', sans-serif" font-size="3.8" fill="#606060" text-rendering="optimizeSpeed">1.00</text><line x1="432.8" x2="435.40000000000003" y1="261.78" y2="261.78" stroke="#222" stroke-width="1"/><text transform="translate(438.9,262.83) scale(1,0.78)" font-family="'Liberation Sans', sans-serif" font-size="3.8" fill="#606060" text-rendering="optimizeSpeed">0.80</text><line x1="432.8" x2="435.40000000000003" y1="265.02" y2="265.02" stroke="#222" stroke-width="1"/><text transform="translate(438.9,266.07) scale(1,0.78)" font-family="'Liberation Sans', sans-serif" font-size="3.8" fill="#606060" text-rendering="optimizeSpeed">0.60</text><line x1="432.8" x2="435.40000000000003" y1="268.26" y2="268.26" stroke="#222" stroke-width="1"/><text transform="translate(438.9,269.31) scale(1,0.78)" font-family="'Liberation Sans', sans-serif" font-size="3.8" fill="#606060" text-rendering="optimizeSpeed">0.40</text><line x1="432.8" x2="435.40000000000003" y1="271.50" y2="271.50" stroke="#222" stroke-width="1"/><text transform="translate(438.9,272.55) scale(1,0.78)" font-family="'Liberation Sans', sans-serif" font-size="3.8" fill="#606060" text-rendering="optimizeSpeed">0.20</text><line x1="432.8" x2="435.40000000000003" y1="274.74" y2="274.74" stroke="#222" stroke-width="1"/><text transform="translate(438.9,275.79) scale(1,0.78)" font-family="'Liberation Sans', sans-serif" font-size="3.8" fill="#606060" text-rendering="optimizeSpeed">0.00</text><line x1="674.3" x2="684.5" y1="274.74" y2="274.74" stroke="#b4b4b4" stroke-width="0.7"/><path d="M680.10 258.94L680.10 256.84M680.10 258.94L682.10 258.29M680.10 258.94L681.33 260.64M680.10 258.94L678.87 260.64M680.10 258.94L678.10 258.29" stroke="#606060" stroke-width="0.85" stroke-linecap="round" fill="none"/><rect x="454.3" y="276.14" width="220.0" height="17.17" fill="#e6e6e6"/><line x1="454.3" x2="674.3" y1="289.59" y2="289.59" stroke="#fafafa" stroke-width="0.9"/><line x1="454.3" x2="674.3" y1="286.35" y2="286.35" stroke="#fafafa" stroke-width="0.9"/><line x1="454.3" x2="674.3" y1="283.11" y2="283.11" stroke="#fafafa" stroke-width="0.9"/><line x1="454.3" x2="674.3" y1="279.87" y2="279.87" stroke="#fafafa" stroke-width="0.9"/><line x1="482.0" x2="482.0" y1="276.14" y2="293.32" stroke="#fafafa" stroke-width="0.9"/><line x1="509.5" x2="509.5" y1="276.14" y2="293.32" stroke="#fafafa" stroke-width="0.9"/><line x1="536.9" x2="536.9" y1="276.14" y2="293.32" stroke="#fafafa" stroke-width="0.9"/><line x1="564.3" x2="564.3" y1="276.14" y2="293.32" stroke="#fafafa" stroke-width="0.9"/><line x1="591.8" x2="591.8" y1="276.14" y2="293.32" stroke="#fafafa" stroke-width="0.9"/><line x1="619.2" x2="619.2" y1="276.14" y2="293.32" stroke="#fafafa" stroke-width="0.9"/><line x1="646.6" x2="646.6" y1="276.14" y2="293.32" stroke="#fafafa" stroke-width="0.9"/><polyline fill="none" stroke="#e4506a" stroke-width="1.1" stroke-linejoin="round" points="454.6,276.6 486.1,276.8 505.3,277 519.1,277.6 525.9,278 531.4,278.5 536.9,279.1 541,279.7 549.2,281.2 557.5,283 573.9,287.1 583.5,289.1 587.6,289.7 593.1,290.5 598.6,291.1 604.1,291.6 615.1,292.2 628.8,292.5 646.6,292.7 674,292.8"/><polyline fill="none" stroke="#5cce4c" stroke-width="1.1" stroke-linejoin="round" points="454.6,292.8 512.2,292.8 527.3,292.6 539.6,292.4 547.9,292.2 556.1,291.7 562.9,291.2 578,289.9 582.1,289.6 584.9,289.6 587.6,289.6 591.8,289.9 609.6,291.5 616.4,291.9 623.3,292.2 642.5,292.6 674,292.8"/><polyline fill="none" stroke="#2b8fe6" stroke-width="1.1" stroke-linejoin="round" points="454.6,292.8 519.1,292.7 536.9,292.5 550.6,292.1 560.2,291.6 569.8,290.9 578,290 594.5,287.8 598.6,287.4 602.7,287.3 606.8,287.4 611,287.8 630.2,290.3 641.1,291.4 648,291.8 654.8,292.1 674,292.6"/><polyline fill="none" stroke="#26dbe3" stroke-width="1.1" stroke-linejoin="round" points="454.6,292.8 517.7,292.7 535.5,292.5 550.6,292.1 561.6,291.7 571.2,291.1 580.8,290.3 598.6,288.4 604.1,288.1 608.2,288 615.1,288.1 623.3,288.4 656.2,290.5 674,291.3"/><polyline fill="none" stroke="#cc1fcc" stroke-width="1.1" stroke-linejoin="round" points="454.6,292.8 521.8,292.8 552,292.7 572.5,292.3 580.8,292 587.6,291.6 594.5,291 600,290.5 605.5,289.7 611,288.8 620.6,286.9 641.1,282.2 646.6,281.1 652.1,280.2 657.6,279.4 663.1,278.7 674,277.8"/><line x1="584.90" x2="584.90" y1="292.83" y2="289.59" stroke="#5cce4c" stroke-width="0.8"/><circle cx="584.90" cy="292.93" r="1.75" fill="#5cce4c"/><line x1="608.00" x2="608.00" y1="292.83" y2="291.82" stroke="#e4506a" stroke-width="0.8"/><circle cx="608.00" cy="292.93" r="1.75" fill="#e4506a"/><line x1="612.50" x2="612.50" y1="292.83" y2="288.00" stroke="#26dbe3" stroke-width="0.8"/><circle cx="612.50" cy="292.93" r="1.75" fill="#26dbe3"/><line x1="620.40" x2="620.40" y1="292.83" y2="289.04" stroke="#2b8fe6" stroke-width="0.8"/><circle cx="620.40" cy="292.93" r="1.75" fill="#2b8fe6"/><line x1="427.8" x2="432.8" y1="284.13" y2="284.13" stroke="#333" stroke-width="0.9"/><text transform="translate(422.5,285.93) scale(0.88,1)" text-anchor="end" font-family="'Liberation Sans', sans-serif" font-size="6.45" fill="#474747">G8_Uncoop</text><line x1="432.8" x2="435.40000000000003" y1="276.63" y2="276.63" stroke="#222" stroke-width="1"/><text transform="translate(438.9,277.68) scale(1,0.78)" font-family="'Liberation Sans', sans-serif" font-size="3.8" fill="#606060" text-rendering="optimizeSpeed">1.00</text><line x1="432.8" x2="435.40000000000003" y1="279.87" y2="279.87" stroke="#222" stroke-width="1"/><text transform="translate(438.9,280.92) scale(1,0.78)" font-family="'Liberation Sans', sans-serif" font-size="3.8" fill="#606060" text-rendering="optimizeSpeed">0.80</text><line x1="432.8" x2="435.40000000000003" y1="283.11" y2="283.11" stroke="#222" stroke-width="1"/><text transform="translate(438.9,284.16) scale(1,0.78)" font-family="'Liberation Sans', sans-serif" font-size="3.8" fill="#606060" text-rendering="optimizeSpeed">0.60</text><line x1="432.8" x2="435.40000000000003" y1="286.35" y2="286.35" stroke="#222" stroke-width="1"/><text transform="translate(438.9,287.40) scale(1,0.78)" font-family="'Liberation Sans', sans-serif" font-size="3.8" fill="#606060" text-rendering="optimizeSpeed">0.40</text><line x1="432.8" x2="435.40000000000003" y1="289.59" y2="289.59" stroke="#222" stroke-width="1"/><text transform="translate(438.9,290.64) scale(1,0.78)" font-family="'Liberation Sans', sans-serif" font-size="3.8" fill="#606060" text-rendering="optimizeSpeed">0.20</text><line x1="432.8" x2="435.40000000000003" y1="292.83" y2="292.83" stroke="#222" stroke-width="1"/><text transform="translate(438.9,293.88) scale(1,0.78)" font-family="'Liberation Sans', sans-serif" font-size="3.8" fill="#606060" text-rendering="optimizeSpeed">0.00</text><line x1="674.3" x2="684.5" y1="292.83" y2="292.83" stroke="#b4b4b4" stroke-width="0.7"/><path d="M680.10 277.03L680.10 274.93M680.10 277.03L682.10 276.38M680.10 277.03L681.33 278.73M680.10 277.03L678.87 278.73M680.10 277.03L678.10 276.38" stroke="#606060" stroke-width="0.85" stroke-linecap="round" fill="none"/><rect x="454.3" y="294.23" width="220.0" height="17.17" fill="#e6e6e6"/><line x1="454.3" x2="674.3" y1="307.68" y2="307.68" stroke="#fafafa" stroke-width="0.9"/><line x1="454.3" x2="674.3" y1="304.44" y2="304.44" stroke="#fafafa" stroke-width="0.9"/><line x1="454.3" x2="674.3" y1="301.20" y2="301.20" stroke="#fafafa" stroke-width="0.9"/><line x1="454.3" x2="674.3" y1="297.96" y2="297.96" stroke="#fafafa" stroke-width="0.9"/><line x1="482.0" x2="482.0" y1="294.23" y2="311.41" stroke="#fafafa" stroke-width="0.9"/><line x1="509.5" x2="509.5" y1="294.23" y2="311.41" stroke="#fafafa" stroke-width="0.9"/><line x1="536.9" x2="536.9" y1="294.23" y2="311.41" stroke="#fafafa" stroke-width="0.9"/><line x1="564.3" x2="564.3" y1="294.23" y2="311.41" stroke="#fafafa" stroke-width="0.9"/><line x1="591.8" x2="591.8" y1="294.23" y2="311.41" stroke="#fafafa" stroke-width="0.9"/><line x1="619.2" x2="619.2" y1="294.23" y2="311.41" stroke="#fafafa" stroke-width="0.9"/><line x1="646.6" x2="646.6" y1="294.23" y2="311.41" stroke="#fafafa" stroke-width="0.9"/><polyline fill="none" stroke="#e4506a" stroke-width="1.1" stroke-linejoin="round" points="454.6,294.7 479.3,294.9 494.4,295.2 506.7,295.7 512.2,296.2 516.3,296.7 520.4,297.2 524.5,297.9 531.4,299.4 538.3,301.2 552,305.2 556.1,306.2 560.2,307.2 564.3,308 569.8,308.8 573.9,309.3 579.4,309.8 584.9,310.2 591.8,310.4 606.8,310.8 628.8,310.9 674,310.9"/><polyline fill="none" stroke="#5cce4c" stroke-width="1.1" stroke-linejoin="round" points="454.6,310.5 476.5,310.1 494.4,309.4 509.5,308.3 535.5,305.9 542.4,305.5 547.9,305.4 553.3,305.5 558.8,305.9 587.6,308.5 597.2,309.2 608.2,309.7 620.6,310.2 635.6,310.5 674,310.8"/><polyline fill="none" stroke="#2b8fe6" stroke-width="1.1" stroke-linejoin="round" points="454.6,310.9 505.3,310.8 520.4,310.5 531.4,310.2 539.6,309.7 546.5,309.1 553.3,308.2 568.4,305.9 572.5,305.5 575.3,305.4 578,305.5 582.1,305.9 595.9,308 602.7,308.9 609.6,309.6 616.4,310 626,310.4 637,310.7 652.1,310.8 674,310.9"/><polyline fill="none" stroke="#26dbe3" stroke-width="1.1" stroke-linejoin="round" points="454.6,310.9 509.5,310.8 524.5,310.6 535.5,310.3 543.7,309.9 552,309.3 558.8,308.5 573.9,306.5 578,306.1 580.8,306.1 583.5,306.1 587.6,306.5 601.4,308.3 608.2,309.1 613.7,309.6 620.6,310.1 630.2,310.4 641.1,310.7 674,310.9"/><polyline fill="none" stroke="#cc1fcc" stroke-width="1.1" stroke-linejoin="round" points="454.6,310.9 528.7,310.8 546.5,310.6 558.8,310.3 568.4,309.9 576.7,309.2 584.9,308.2 600,305.9 604.1,305.5 606.8,305.4 611,305.5 616.4,305.9 635.6,308.2 646.6,309.2 659,309.9 674,310.4"/><polyline fill="none" stroke="#f4c21a" stroke-width="1.1" stroke-linejoin="round" points="454.6,310.9 512.2,310.9 543.7,310.7 562.9,310.5 589,309.8 598.6,309.6 619.2,309.7 674,310.5"/><polyline fill="none" stroke="#9a9a9a" stroke-width="1.1" stroke-linejoin="round" points="454.6,310.9 523.2,310.9 552,310.8 571.2,310.4 579.4,310.1 586.3,309.7 593.1,309.2 598.6,308.6 604.1,307.8 609.6,306.9 619.2,304.8 638.4,300.2 643.9,299 649.4,298 654.8,297.2 660.3,296.6 667.2,296 674,295.6"/><line x1="557.60" x2="557.60" y1="310.92" y2="306.60" stroke="#e4506a" stroke-width="0.8"/><circle cx="557.60" cy="311.02" r="1.75" fill="#e4506a"/><line x1="560.90" x2="560.90" y1="310.92" y2="306.02" stroke="#5cce4c" stroke-width="0.8"/><circle cx="560.90" cy="311.02" r="1.75" fill="#5cce4c"/><line x1="584.40" x2="584.40" y1="310.92" y2="309.89" stroke="#f4c21a" stroke-width="0.8"/><circle cx="584.40" cy="311.02" r="1.75" fill="#f4c21a"/><line x1="587.40" x2="587.40" y1="310.92" y2="306.63" stroke="#2b8fe6" stroke-width="0.8"/><circle cx="587.40" cy="311.02" r="1.75" fill="#2b8fe6"/><line x1="595.60" x2="595.60" y1="310.92" y2="307.53" stroke="#26dbe3" stroke-width="0.8"/><circle cx="595.60" cy="311.02" r="1.75" fill="#26dbe3"/><line x1="644.50" x2="644.50" y1="310.92" y2="309.00" stroke="#cc1fcc" stroke-width="0.8"/><circle cx="644.50" cy="311.02" r="1.75" fill="#cc1fcc"/><line x1="427.8" x2="432.8" y1="302.22" y2="302.22" stroke="#333" stroke-width="0.9"/><text transform="translate(422.5,304.02) scale(0.88,1)" text-anchor="end" font-family="'Liberation Sans', sans-serif" font-size="6.45" fill="#474747">G9_Unus_Thought_Cont</text><line x1="432.8" x2="435.40000000000003" y1="294.72" y2="294.72" stroke="#222" stroke-width="1"/><text transform="translate(438.9,295.77) scale(1,0.78)" font-family="'Liberation Sans', sans-serif" font-size="3.8" fill="#606060" text-rendering="optimizeSpeed">1.00</text><line x1="432.8" x2="435.40000000000003" y1="297.96" y2="297.96" stroke="#222" stroke-width="1"/><text transform="translate(438.9,299.01) scale(1,0.78)" font-family="'Liberation Sans', sans-serif" font-size="3.8" fill="#606060" text-rendering="optimizeSpeed">0.80</text><line x1="432.8" x2="435.40000000000003" y1="301.20" y2="301.20" stroke="#222" stroke-width="1"/><text transform="translate(438.9,302.25) scale(1,0.78)" font-family="'Liberation Sans', sans-serif" font-size="3.8" fill="#606060" text-rendering="optimizeSpeed">0.60</text><line x1="432.8" x2="435.40000000000003" y1="304.44" y2="304.44" stroke="#222" stroke-width="1"/><text transform="translate(438.9,305.49) scale(1,0.78)" font-family="'Liberation Sans', sans-serif" font-size="3.8" fill="#606060" text-rendering="optimizeSpeed">0.40</text><line x1="432.8" x2="435.40000000000003" y1="307.68" y2="307.68" stroke="#222" stroke-width="1"/><text transform="translate(438.9,308.73) scale(1,0.78)" font-family="'Liberation Sans', sans-serif" font-size="3.8" fill="#606060" text-rendering="optimizeSpeed">0.20</text><line x1="432.8" x2="435.40000000000003" y1="310.92" y2="310.92" stroke="#222" stroke-width="1"/><text transform="translate(438.9,311.97) scale(1,0.78)" font-family="'Liberation Sans', sans-serif" font-size="3.8" fill="#606060" text-rendering="optimizeSpeed">0.00</text><line x1="674.3" x2="684.5" y1="310.92" y2="310.92" stroke="#b4b4b4" stroke-width="0.7"/><path d="M680.10 295.12L680.10 293.02M680.10 295.12L682.10 294.47M680.10 295.12L681.33 296.82M680.10 295.12L678.87 296.82M680.10 295.12L678.10 294.47" stroke="#606060" stroke-width="0.85" stroke-linecap="round" fill="none"/><rect x="454.3" y="312.32" width="220.0" height="17.17" fill="#e6e6e6"/><line x1="454.3" x2="674.3" y1="325.77" y2="325.77" stroke="#fafafa" stroke-width="0.9"/><line x1="454.3" x2="674.3" y1="322.53" y2="322.53" stroke="#fafafa" stroke-width="0.9"/><line x1="454.3" x2="674.3" y1="319.29" y2="319.29" stroke="#fafafa" stroke-width="0.9"/><line x1="454.3" x2="674.3" y1="316.05" y2="316.05" stroke="#fafafa" stroke-width="0.9"/><line x1="482.0" x2="482.0" y1="312.32" y2="329.50" stroke="#fafafa" stroke-width="0.9"/><line x1="509.5" x2="509.5" y1="312.32" y2="329.50" stroke="#fafafa" stroke-width="0.9"/><line x1="536.9" x2="536.9" y1="312.32" y2="329.50" stroke="#fafafa" stroke-width="0.9"/><line x1="564.3" x2="564.3" y1="312.32" y2="329.50" stroke="#fafafa" stroke-width="0.9"/><line x1="591.8" x2="591.8" y1="312.32" y2="329.50" stroke="#fafafa" stroke-width="0.9"/><line x1="619.2" x2="619.2" y1="312.32" y2="329.50" stroke="#fafafa" stroke-width="0.9"/><line x1="646.6" x2="646.6" y1="312.32" y2="329.50" stroke="#fafafa" stroke-width="0.9"/><polyline fill="none" stroke="#e4506a" stroke-width="1.1" stroke-linejoin="round" points="454.6,312.8 486.1,312.9 506.7,313.2 521.8,313.6 534.1,314.3 545.1,315.3 550.6,316 556.1,316.8 565.7,318.6 584.9,322.7 593.1,324.3 601.4,325.7 611,326.9 621.9,327.8 635.6,328.4 652.1,328.8 674,328.9"/><polyline fill="none" stroke="#5cce4c" stroke-width="1.1" stroke-linejoin="round" points="454.6,329 505.3,329 531.4,328.8 546.5,328.5 568.4,327.5 575.3,327.4 582.1,327.5 602.7,328.4 616.4,328.7 637,328.9 674,329"/><polyline fill="none" stroke="#2b8fe6" stroke-width="1.1" stroke-linejoin="round" points="454.6,329 487.5,328.9 509.5,328.7 527.3,328.3 541,327.9 550.6,327.3 560.2,326.6 571.2,325.4 590.4,322.9 595.9,322.4 601.4,322.2 605.5,322.3 611,322.7 616.4,323.5 631.5,325.7 637,326.4 643.9,327 650.7,327.6 657.6,327.9 674,328.5"/><polyline fill="none" stroke="#26dbe3" stroke-width="1.1" stroke-linejoin="round" points="454.6,329 512.2,329 539.6,328.8 558.8,328.5 567.1,328.2 573.9,327.8 580.8,327.2 586.3,326.6 591.8,325.8 597.2,324.9 606.8,322.9 621.9,319.3 627.4,318 634.3,316.7 639.8,315.8 646.6,314.9 654.8,314.2 663.1,313.7 674,313.3"/><line x1="577.50" x2="577.50" y1="329.01" y2="327.40" stroke="#5cce4c" stroke-width="0.8"/><circle cx="577.50" cy="329.11" r="1.75" fill="#5cce4c"/><line x1="602.60" x2="602.60" y1="329.01" y2="322.21" stroke="#2b8fe6" stroke-width="0.8"/><circle cx="602.60" cy="329.11" r="1.75" fill="#2b8fe6"/><line x1="615.00" x2="615.00" y1="329.01" y2="327.24" stroke="#e4506a" stroke-width="0.8"/><circle cx="615.00" cy="329.11" r="1.75" fill="#e4506a"/><line x1="427.8" x2="432.8" y1="320.31" y2="320.31" stroke="#333" stroke-width="0.9"/><text transform="translate(422.5,322.11) scale(0.88,1)" text-anchor="end" font-family="'Liberation Sans', sans-serif" font-size="6.45" fill="#474747">G10_Disorient</text><line x1="432.8" x2="435.40000000000003" y1="312.81" y2="312.81" stroke="#222" stroke-width="1"/><text transform="translate(438.9,313.86) scale(1,0.78)" font-family="'Liberation Sans', sans-serif" font-size="3.8" fill="#606060" text-rendering="optimizeSpeed">1.00</text><line x1="432.8" x2="435.40000000000003" y1="316.05" y2="316.05" stroke="#222" stroke-width="1"/><text transform="translate(438.9,317.10) scale(1,0.78)" font-family="'Liberation Sans', sans-serif" font-size="3.8" fill="#606060" text-rendering="optimizeSpeed">0.80</text><line x1="432.8" x2="435.40000000000003" y1="319.29" y2="319.29" stroke="#222" stroke-width="1"/><text transform="translate(438.9,320.34) scale(1,0.78)" font-family="'Liberation Sans', sans-serif" font-size="3.8" fill="#606060" text-rendering="optimizeSpeed">0.60</text><line x1="432.8" x2="435.40000000000003" y1="322.53" y2="322.53" stroke="#222" stroke-width="1"/><text transform="translate(438.9,323.58) scale(1,0.78)" font-family="'Liberation Sans', sans-serif" font-size="3.8" fill="#606060" text-rendering="optimizeSpeed">0.40</text><line x1="432.8" x2="435.40000000000003" y1="325.77" y2="325.77" stroke="#222" stroke-width="1"/><text transform="translate(438.9,326.82) scale(1,0.78)" font-family="'Liberation Sans', sans-serif" font-size="3.8" fill="#606060" text-rendering="optimizeSpeed">0.20</text><line x1="432.8" x2="435.40000000000003" y1="329.01" y2="329.01" stroke="#222" stroke-width="1"/><text transform="translate(438.9,330.06) scale(1,0.78)" font-family="'Liberation Sans', sans-serif" font-size="3.8" fill="#606060" text-rendering="optimizeSpeed">0.00</text><line x1="674.3" x2="684.5" y1="329.01" y2="329.01" stroke="#b4b4b4" stroke-width="0.7"/><path d="M680.10 313.21L680.10 311.11M680.10 313.21L682.10 312.56M680.10 313.21L681.33 314.91M680.10 313.21L678.87 314.91M680.10 313.21L678.10 312.56" stroke="#606060" stroke-width="0.85" stroke-linecap="round" fill="none"/><rect x="454.3" y="330.41" width="220.0" height="17.17" fill="#e6e6e6"/><line x1="454.3" x2="674.3" y1="343.86" y2="343.86" stroke="#fafafa" stroke-width="0.9"/><line x1="454.3" x2="674.3" y1="340.62" y2="340.62" stroke="#fafafa" stroke-width="0.9"/><line x1="454.3" x2="674.3" y1="337.38" y2="337.38" stroke="#fafafa" stroke-width="0.9"/><line x1="454.3" x2="674.3" y1="334.14" y2="334.14" stroke="#fafafa" stroke-width="0.9"/><line x1="482.0" x2="482.0" y1="330.41" y2="347.59" stroke="#fafafa" stroke-width="0.9"/><line x1="509.5" x2="509.5" y1="330.41" y2="347.59" stroke="#fafafa" stroke-width="0.9"/><line x1="536.9" x2="536.9" y1="330.41" y2="347.59" stroke="#fafafa" stroke-width="0.9"/><line x1="564.3" x2="564.3" y1="330.41" y2="347.59" stroke="#fafafa" stroke-width="0.9"/><line x1="591.8" x2="591.8" y1="330.41" y2="347.59" stroke="#fafafa" stroke-width="0.9"/><line x1="619.2" x2="619.2" y1="330.41" y2="347.59" stroke="#fafafa" stroke-width="0.9"/><line x1="646.6" x2="646.6" y1="330.41" y2="347.59" stroke="#fafafa" stroke-width="0.9"/><polyline fill="none" stroke="#e4506a" stroke-width="1.1" stroke-linejoin="round" points="454.6,330.9 479.3,331 494.4,331.3 506.7,331.9 512.2,332.4 516.3,332.8 520.4,333.4 524.5,334.1 531.4,335.6 538.3,337.4 552,341.4 556.1,342.4 560.2,343.4 564.3,344.1 569.8,345 573.9,345.5 579.4,346 584.9,346.3 591.8,346.6 606.8,346.9 628.8,347.1 674,347.1"/><polyline fill="none" stroke="#5cce4c" stroke-width="1.1" stroke-linejoin="round" points="454.6,347.1 491.6,346.9 502.6,346.7 512.2,346.3 519.1,345.9 525.9,345.3 532.8,344.5 546.5,342.6 550.6,342.3 553.3,342.2 556.1,342.3 560.2,342.6 575.3,344.7 582.1,345.5 589,346 597.2,346.4 608.2,346.8 623.3,347 674,347.1"/><polyline fill="none" stroke="#2b8fe6" stroke-width="1.1" stroke-linejoin="round" points="454.6,347.1 480.7,347 498.5,346.8 513.6,346.5 524.5,346 532.8,345.4 539.6,344.7 547.9,343.5 560.2,341.4 564.3,340.7 568.4,340.3 572.5,340.1 575.3,340.2 579.4,340.6 583.5,341.1 595.9,343.3 601.4,344.1 609.6,345.1 617.8,345.8 627.4,346.3 639.8,346.7 654.8,346.9 674,347"/><polyline fill="none" stroke="#26dbe3" stroke-width="1.1" stroke-linejoin="round" points="454.6,347.1 509.5,347 524.5,346.7 535.5,346.4 543.7,345.9 552,345.2 558.8,344.3 573.9,341.9 578,341.5 580.8,341.4 583.5,341.5 587.6,341.9 601.4,344.1 608.2,345 613.7,345.6 620.6,346.1 630.2,346.5 641.1,346.8 674,347.1"/><polyline fill="none" stroke="#cc1fcc" stroke-width="1.1" stroke-linejoin="round" points="454.6,347.1 514.9,347.1 545.1,346.9 564.3,346.6 589,345.9 597.2,345.8 615.1,345.9 674,346.7"/><polyline fill="none" stroke="#f4c21a" stroke-width="1.1" stroke-linejoin="round" points="454.6,347.1 508.1,347 535.5,346.9 556.1,346.4 564.3,346.1 571.2,345.7 578,345.1 583.5,344.5 589,343.8 594.5,342.9 604.1,341.1 626,336.4 632.9,335.1 639.8,334 646.6,333.2 654.8,332.4 664.4,331.9 674,331.5"/><line x1="561.40" x2="561.40" y1="347.10" y2="342.77" stroke="#5cce4c" stroke-width="0.8"/><circle cx="561.40" cy="347.20" r="1.75" fill="#5cce4c"/><line x1="564.60" x2="564.60" y1="347.10" y2="344.19" stroke="#e4506a" stroke-width="0.8"/><circle cx="564.60" cy="347.20" r="1.75" fill="#e4506a"/><line x1="592.60" x2="592.60" y1="347.10" y2="345.84" stroke="#cc1fcc" stroke-width="0.8"/><circle cx="592.60" cy="347.20" r="1.75" fill="#cc1fcc"/><line x1="607.50" x2="607.50" y1="347.10" y2="344.90" stroke="#2b8fe6" stroke-width="0.8"/><circle cx="607.50" cy="347.20" r="1.75" fill="#2b8fe6"/><line x1="617.20" x2="617.20" y1="347.10" y2="345.87" stroke="#26dbe3" stroke-width="0.8"/><circle cx="617.20" cy="347.20" r="1.75" fill="#26dbe3"/><line x1="427.8" x2="432.8" y1="338.40" y2="338.40" stroke="#333" stroke-width="0.9"/><text transform="translate(422.5,340.20) scale(0.88,1)" text-anchor="end" font-family="'Liberation Sans', sans-serif" font-size="6.45" fill="#474747">G11_Poor_Atten</text><line x1="432.8" x2="435.40000000000003" y1="330.90" y2="330.90" stroke="#222" stroke-width="1"/><text transform="translate(438.9,331.95) scale(1,0.78)" font-family="'Liberation Sans', sans-serif" font-size="3.8" fill="#606060" text-rendering="optimizeSpeed">1.00</text><line x1="432.8" x2="435.40000000000003" y1="334.14" y2="334.14" stroke="#222" stroke-width="1"/><text transform="translate(438.9,335.19) scale(1,0.78)" font-family="'Liberation Sans', sans-serif" font-size="3.8" fill="#606060" text-rendering="optimizeSpeed">0.80</text><line x1="432.8" x2="435.40000000000003" y1="337.38" y2="337.38" stroke="#222" stroke-width="1"/><text transform="translate(438.9,338.43) scale(1,0.78)" font-family="'Liberation Sans', sans-serif" font-size="3.8" fill="#606060" text-rendering="optimizeSpeed">0.60</text><line x1="432.8" x2="435.40000000000003" y1="340.62" y2="340.62" stroke="#222" stroke-width="1"/><text transform="translate(438.9,341.67) scale(1,0.78)" font-family="'Liberation Sans', sans-serif" font-size="3.8" fill="#606060" text-rendering="optimizeSpeed">0.40</text><line x1="432.8" x2="435.40000000000003" y1="343.86" y2="343.86" stroke="#222" stroke-width="1"/><text transform="translate(438.9,344.91) scale(1,0.78)" font-family="'Liberation Sans', sans-serif" font-size="3.8" fill="#606060" text-rendering="optimizeSpeed">0.20</text><line x1="432.8" x2="435.40000000000003" y1="347.10" y2="347.10" stroke="#222" stroke-width="1"/><text transform="translate(438.9,348.15) scale(1,0.78)" font-family="'Liberation Sans', sans-serif" font-size="3.8" fill="#606060" text-rendering="optimizeSpeed">0.00</text><line x1="674.3" x2="684.5" y1="347.10" y2="347.10" stroke="#b4b4b4" stroke-width="0.7"/><path d="M680.10 331.30L680.10 329.20M680.10 331.30L682.10 330.65M680.10 331.30L681.33 333.00M680.10 331.30L678.87 333.00M680.10 331.30L678.10 330.65" stroke="#606060" stroke-width="0.85" stroke-linecap="round" fill="none"/><rect x="454.3" y="348.50" width="220.0" height="17.17" fill="#e6e6e6"/><line x1="454.3" x2="674.3" y1="361.95" y2="361.95" stroke="#fafafa" stroke-width="0.9"/><line x1="454.3" x2="674.3" y1="358.71" y2="358.71" stroke="#fafafa" stroke-width="0.9"/><line x1="454.3" x2="674.3" y1="355.47" y2="355.47" stroke="#fafafa" stroke-width="0.9"/><line x1="454.3" x2="674.3" y1="352.23" y2="352.23" stroke="#fafafa" stroke-width="0.9"/><line x1="482.0" x2="482.0" y1="348.50" y2="365.68" stroke="#fafafa" stroke-width="0.9"/><line x1="509.5" x2="509.5" y1="348.50" y2="365.68" stroke="#fafafa" stroke-width="0.9"/><line x1="536.9" x2="536.9" y1="348.50" y2="365.68" stroke="#fafafa" stroke-width="0.9"/><line x1="564.3" x2="564.3" y1="348.50" y2="365.68" stroke="#fafafa" stroke-width="0.9"/><line x1="591.8" x2="591.8" y1="348.50" y2="365.68" stroke="#fafafa" stroke-width="0.9"/><line x1="619.2" x2="619.2" y1="348.50" y2="365.68" stroke="#fafafa" stroke-width="0.9"/><line x1="646.6" x2="646.6" y1="348.50" y2="365.68" stroke="#fafafa" stroke-width="0.9"/><polyline fill="none" stroke="#e4506a" stroke-width="1.1" stroke-linejoin="round" points="454.6,349 483.4,349.1 501.2,349.4 514.9,349.9 520.4,350.3 525.9,350.8 534.1,351.9 542.4,353.4 550.6,355.3 567.1,359.6 575.3,361.4 579.4,362.1 584.9,362.9 590.4,363.5 595.9,364 606.8,364.6 621.9,365 641.1,365.1 674,365.2"/><polyline fill="none" stroke="#5cce4c" stroke-width="1.1" stroke-linejoin="round" points="454.6,365.2 501.2,365.1 525.9,364.9 541,364.5 562.9,363.4 569.8,363.2 576.7,363.4 597.2,364.5 611,364.9 632.9,365.1 674,365.2"/><polyline fill="none" stroke="#2b8fe6" stroke-width="1.1" stroke-linejoin="round" points="454.6,365.2 510.8,365.1 525.9,364.9 536.9,364.6 545.1,364.2 553.3,363.6 560.2,362.8 575.3,360.7 579.4,360.4 582.1,360.3 584.9,360.4 589,360.7 602.7,362.6 609.6,363.4 615.1,363.9 621.9,364.3 630.2,364.7 641.1,364.9 674,365.2"/><polyline fill="none" stroke="#26dbe3" stroke-width="1.1" stroke-linejoin="round" points="454.6,365.2 517.7,365.1 534.1,364.9 546.5,364.5 556.1,364 564.3,363.2 571.2,362.3 586.3,359.8 590.4,359.4 593.1,359.4 595.9,359.4 600,359.8 617.8,362.7 623.3,363.4 630.2,364 638.4,364.4 648,364.8 659,365 674,365.1"/><polyline fill="none" stroke="#cc1fcc" stroke-width="1.1" stroke-linejoin="round" points="454.6,365.2 523.2,365.1 554.7,364.9 573.9,364.4 583.5,363.9 600,363 608.2,362.8 624.7,363 674,364.3"/><polyline fill="none" stroke="#f4c21a" stroke-width="1.1" stroke-linejoin="round" points="454.6,365.2 510.8,365.1 539.6,365 560.2,364.5 568.4,364.2 575.3,363.7 582.1,363.2 587.6,362.6 593.1,361.9 598.6,361 608.2,359.2 630.2,354.5 637,353.2 642.5,352.3 649.4,351.4 657.6,350.6 665.8,350.1 674,349.7"/><line x1="570.30" x2="570.30" y1="365.19" y2="363.25" stroke="#5cce4c" stroke-width="0.8"/><circle cx="570.30" cy="365.29" r="1.75" fill="#5cce4c"/><line x1="580.70" x2="580.70" y1="365.19" y2="360.35" stroke="#2b8fe6" stroke-width="0.8"/><circle cx="580.70" cy="365.29" r="1.75" fill="#2b8fe6"/><line x1="594.90" x2="594.90" y1="365.19" y2="363.25" stroke="#cc1fcc" stroke-width="0.8"/><circle cx="594.90" cy="365.29" r="1.75" fill="#cc1fcc"/><line x1="616.20" x2="616.20" y1="365.19" y2="362.48" stroke="#26dbe3" stroke-width="0.8"/><circle cx="616.20" cy="365.29" r="1.75" fill="#26dbe3"/><line x1="427.8" x2="432.8" y1="356.49" y2="356.49" stroke="#333" stroke-width="0.9"/><text transform="translate(422.5,358.29) scale(0.88,1)" text-anchor="end" font-family="'Liberation Sans', sans-serif" font-size="6.45" fill="#474747">G12_Lack_Judg_Insight</text><line x1="432.8" x2="435.40000000000003" y1="348.99" y2="348.99" stroke="#222" stroke-width="1"/><text transform="translate(438.9,350.04) scale(1,0.78)" font-family="'Liberation Sans', sans-serif" font-size="3.8" fill="#606060" text-rendering="optimizeSpeed">1.00</text><line x1="432.8" x2="435.40000000000003" y1="352.23" y2="352.23" stroke="#222" stroke-width="1"/><text transform="translate(438.9,353.28) scale(1,0.78)" font-family="'Liberation Sans', sans-serif" font-size="3.8" fill="#606060" text-rendering="optimizeSpeed">0.80</text><line x1="432.8" x2="435.40000000000003" y1="355.47" y2="355.47" stroke="#222" stroke-width="1"/><text transform="translate(438.9,356.52) scale(1,0.78)" font-family="'Liberation Sans', sans-serif" font-size="3.8" fill="#606060" text-rendering="optimizeSpeed">0.60</text><line x1="432.8" x2="435.40000000000003" y1="358.71" y2="358.71" stroke="#222" stroke-width="1"/><text transform="translate(438.9,359.76) scale(1,0.78)" font-family="'Liberation Sans', sans-serif" font-size="3.8" fill="#606060" text-rendering="optimizeSpeed">0.40</text><line x1="432.8" x2="435.40000000000003" y1="361.95" y2="361.95" stroke="#222" stroke-width="1"/><text transform="translate(438.9,363.00) scale(1,0.78)" font-family="'Liberation Sans', sans-serif" font-size="3.8" fill="#606060" text-rendering="optimizeSpeed">0.20</text><line x1="432.8" x2="435.40000000000003" y1="365.19" y2="365.19" stroke="#222" stroke-width="1"/><text transform="translate(438.9,366.24) scale(1,0.78)" font-family="'Liberation Sans', sans-serif" font-size="3.8" fill="#606060" text-rendering="optimizeSpeed">0.00</text><line x1="674.3" x2="684.5" y1="365.19" y2="365.19" stroke="#b4b4b4" stroke-width="0.7"/><path d="M680.10 349.39L680.10 347.29M680.10 349.39L682.10 348.74M680.10 349.39L681.33 351.09M680.10 349.39L678.87 351.09M680.10 349.39L678.10 348.74" stroke="#606060" stroke-width="0.85" stroke-linecap="round" fill="none"/><rect x="454.3" y="366.59" width="220.0" height="17.17" fill="#e6e6e6"/><line x1="454.3" x2="674.3" y1="380.04" y2="380.04" stroke="#fafafa" stroke-width="0.9"/><line x1="454.3" x2="674.3" y1="376.80" y2="376.80" stroke="#fafafa" stroke-width="0.9"/><line x1="454.3" x2="674.3" y1="373.56" y2="373.56" stroke="#fafafa" stroke-width="0.9"/><line x1="454.3" x2="674.3" y1="370.32" y2="370.32" stroke="#fafafa" stroke-width="0.9"/><line x1="482.0" x2="482.0" y1="366.59" y2="383.77" stroke="#fafafa" stroke-width="0.9"/><line x1="509.5" x2="509.5" y1="366.59" y2="383.77" stroke="#fafafa" stroke-width="0.9"/><line x1="536.9" x2="536.9" y1="366.59" y2="383.77" stroke="#fafafa" stroke-width="0.9"/><line x1="564.3" x2="564.3" y1="366.59" y2="383.77" stroke="#fafafa" stroke-width="0.9"/><line x1="591.8" x2="591.8" y1="366.59" y2="383.77" stroke="#fafafa" stroke-width="0.9"/><line x1="619.2" x2="619.2" y1="366.59" y2="383.77" stroke="#fafafa" stroke-width="0.9"/><line x1="646.6" x2="646.6" y1="366.59" y2="383.77" stroke="#fafafa" stroke-width="0.9"/><polyline fill="none" stroke="#e4506a" stroke-width="1.1" stroke-linejoin="round" points="454.6,367.1 486.1,367.2 505.3,367.4 519.1,367.9 524.5,368.2 530,368.7 535.5,369.4 539.6,370 543.7,370.7 547.9,371.6 554.7,373.3 571.2,377.8 579.4,379.6 583.5,380.4 589,381.2 593.1,381.6 598.6,382.1 609.6,382.7 623.3,383.1 642.5,383.2 674,383.3"/><polyline fill="none" stroke="#5cce4c" stroke-width="1.1" stroke-linejoin="round" points="454.6,383.3 499.9,383.2 513.6,383 524.5,382.8 532.8,382.5 539.6,382.1 546.5,381.6 560.2,380.3 564.3,380.1 567.1,380 569.8,380.1 573.9,380.3 587.6,381.6 594.5,382.1 601.4,382.5 609.6,382.8 620.6,383 632.9,383.2 674,383.3"/><polyline fill="none" stroke="#2b8fe6" stroke-width="1.1" stroke-linejoin="round" points="454.6,383.3 510.8,383.1 527.3,382.8 539.6,382.5 549.2,381.9 557.5,381.2 565.7,380.3 582.1,377.9 586.3,377.6 590.4,377.4 594.5,377.5 600,378 620.6,380.5 627.4,381.2 634.3,381.7 642.5,382.2 652.1,382.6 674,383"/><polyline fill="none" stroke="#26dbe3" stroke-width="1.1" stroke-linejoin="round" points="454.6,383.3 491.6,383.2 516.3,383.1 534.1,382.8 547.9,382.4 558.8,381.9 568.4,381.2 578,380.2 595.9,378 601.4,377.5 605.5,377.4 612.3,377.6 619.2,377.9 652.1,380.6 663.1,381.3 674,381.8"/><polyline fill="none" stroke="#cc1fcc" stroke-width="1.1" stroke-linejoin="round" points="454.6,383.3 512.2,383.2 542.4,383.1 564.3,382.6 572.5,382.3 580.8,381.8 587.6,381.3 593.1,380.7 600,379.9 605.5,379.1 616.4,377.1 638.4,372.7 645.2,371.5 650.7,370.7 661.7,369.3 674,368.4"/><line x1="562.10" x2="562.10" y1="383.28" y2="380.18" stroke="#5cce4c" stroke-width="0.8"/><circle cx="562.10" cy="383.38" r="1.75" fill="#5cce4c"/><line x1="589.90" x2="589.90" y1="383.28" y2="381.28" stroke="#e4506a" stroke-width="0.8"/><circle cx="589.90" cy="383.38" r="1.75" fill="#e4506a"/><line x1="601.80" x2="601.80" y1="383.28" y2="378.16" stroke="#2b8fe6" stroke-width="0.8"/><circle cx="601.80" cy="383.38" r="1.75" fill="#2b8fe6"/><line x1="617.40" x2="617.40" y1="383.28" y2="377.81" stroke="#26dbe3" stroke-width="0.8"/><circle cx="617.40" cy="383.38" r="1.75" fill="#26dbe3"/><line x1="427.8" x2="432.8" y1="374.58" y2="374.58" stroke="#333" stroke-width="0.9"/><text transform="translate(422.5,376.38) scale(0.88,1)" text-anchor="end" font-family="'Liberation Sans', sans-serif" font-size="6.45" fill="#474747">G13_Dist_Volition</text><line x1="432.8" x2="435.40000000000003" y1="367.08" y2="367.08" stroke="#222" stroke-width="1"/><text transform="translate(438.9,368.13) scale(1,0.78)" font-family="'Liberation Sans', sans-serif" font-size="3.8" fill="#606060" text-rendering="optimizeSpeed">1.00</text><line x1="432.8" x2="435.40000000000003" y1="370.32" y2="370.32" stroke="#222" stroke-width="1"/><text transform="translate(438.9,371.37) scale(1,0.78)" font-family="'Liberation Sans', sans-serif" font-size="3.8" fill="#606060" text-rendering="optimizeSpeed">0.80</text><line x1="432.8" x2="435.40000000000003" y1="373.56" y2="373.56" stroke="#222" stroke-width="1"/><text transform="translate(438.9,374.61) scale(1,0.78)" font-family="'Liberation Sans', sans-serif" font-size="3.8" fill="#606060" text-rendering="optimizeSpeed">0.60</text><line x1="432.8" x2="435.40000000000003" y1="376.80" y2="376.80" stroke="#222" stroke-width="1"/><text transform="translate(438.9,377.85) scale(1,0.78)" font-family="'Liberation Sans', sans-serif" font-size="3.8" fill="#606060" text-rendering="optimizeSpeed">0.40</text><line x1="432.8" x2="435.40000000000003" y1="380.04" y2="380.04" stroke="#222" stroke-width="1"/><text transform="translate(438.9,381.09) scale(1,0.78)" font-family="'Liberation Sans', sans-serif" font-size="3.8" fill="#606060" text-rendering="optimizeSpeed">0.20</text><line x1="432.8" x2="435.40000000000003" y1="383.28" y2="383.28" stroke="#222" stroke-width="1"/><text transform="translate(438.9,384.33) scale(1,0.78)" font-family="'Liberation Sans', sans-serif" font-size="3.8" fill="#606060" text-rendering="optimizeSpeed">0.00</text><line x1="674.3" x2="684.5" y1="383.28" y2="383.28" stroke="#b4b4b4" stroke-width="0.7"/><path d="M680.10 367.48L680.10 365.38M680.10 367.48L682.10 366.83M680.10 367.48L681.33 369.18M680.10 367.48L678.87 369.18M680.10 367.48L678.10 366.83" stroke="#606060" stroke-width="0.85" stroke-linecap="round" fill="none"/><rect x="454.3" y="384.68" width="220.0" height="17.17" fill="#e6e6e6"/><line x1="454.3" x2="674.3" y1="398.13" y2="398.13" stroke="#fafafa" stroke-width="0.9"/><line x1="454.3" x2="674.3" y1="394.89" y2="394.89" stroke="#fafafa" stroke-width="0.9"/><line x1="454.3" x2="674.3" y1="391.65" y2="391.65" stroke="#fafafa" stroke-width="0.9"/><line x1="454.3" x2="674.3" y1="388.41" y2="388.41" stroke="#fafafa" stroke-width="0.9"/><line x1="482.0" x2="482.0" y1="384.68" y2="401.86" stroke="#fafafa" stroke-width="0.9"/><line x1="509.5" x2="509.5" y1="384.68" y2="401.86" stroke="#fafafa" stroke-width="0.9"/><line x1="536.9" x2="536.9" y1="384.68" y2="401.86" stroke="#fafafa" stroke-width="0.9"/><line x1="564.3" x2="564.3" y1="384.68" y2="401.86" stroke="#fafafa" stroke-width="0.9"/><line x1="591.8" x2="591.8" y1="384.68" y2="401.86" stroke="#fafafa" stroke-width="0.9"/><line x1="619.2" x2="619.2" y1="384.68" y2="401.86" stroke="#fafafa" stroke-width="0.9"/><line x1="646.6" x2="646.6" y1="384.68" y2="401.86" stroke="#fafafa" stroke-width="0.9"/><polyline fill="none" stroke="#e4506a" stroke-width="1.1" stroke-linejoin="round" points="454.6,385.2 484.8,385.3 502.6,385.6 516.3,386.1 521.8,386.5 527.3,387 535.5,388.1 543.7,389.6 552,391.5 568.4,395.7 576.7,397.5 580.8,398.3 586.3,399.1 591.8,399.7 597.2,400.2 608.2,400.8 623.3,401.1 642.5,401.3 674,401.4"/><polyline fill="none" stroke="#5cce4c" stroke-width="1.1" stroke-linejoin="round" points="454.6,401.4 498.5,401.3 521.8,401 536.9,400.5 557.5,399.1 564.3,398.9 571.2,399.1 591.8,400.5 606.8,401 630.2,401.3 674,401.4"/><polyline fill="none" stroke="#2b8fe6" stroke-width="1.1" stroke-linejoin="round" points="454.6,401.4 487.5,401.3 509.5,401.2 525.9,400.9 538.3,400.4 547.9,399.8 556.1,399 564.3,397.9 576.7,395.8 580.8,395.1 584.9,394.7 589,394.6 593.1,394.7 597.2,395.1 616.4,398.3 623.3,399.2 630.2,399.8 638.4,400.3 648,400.7 659,401 674,401.2"/><polyline fill="none" stroke="#26dbe3" stroke-width="1.1" stroke-linejoin="round" points="454.6,401.4 491.6,401.3 516.3,401.2 534.1,400.9 547.9,400.5 558.8,399.9 568.4,399.1 578,398 594.5,395.8 600,395.2 604.1,395.1 612.3,395.2 621.9,395.6 656.2,398.2 674,399.3"/><polyline fill="none" stroke="#cc1fcc" stroke-width="1.1" stroke-linejoin="round" points="454.6,401.4 508.1,401.3 539.6,401 562.9,400.5 572.5,400.2 582.1,399.7 590.4,399.1 597.2,398.5 611,397 623.3,395.2 645.2,391.7 654.8,390.3 664.4,389.1 674,388"/><line x1="560.90" x2="560.90" y1="401.37" y2="398.99" stroke="#5cce4c" stroke-width="0.8"/><circle cx="560.90" cy="401.47" r="1.75" fill="#5cce4c"/><line x1="587.40" x2="587.40" y1="401.37" y2="399.22" stroke="#e4506a" stroke-width="0.8"/><circle cx="587.40" cy="401.47" r="1.75" fill="#e4506a"/><line x1="609.70" x2="609.70" y1="401.37" y2="397.22" stroke="#2b8fe6" stroke-width="0.8"/><circle cx="609.70" cy="401.47" r="1.75" fill="#2b8fe6"/><line x1="643.90" x2="643.90" y1="401.37" y2="397.28" stroke="#26dbe3" stroke-width="0.8"/><circle cx="643.90" cy="401.47" r="1.75" fill="#26dbe3"/><line x1="427.8" x2="432.8" y1="392.67" y2="392.67" stroke="#333" stroke-width="0.9"/><text transform="translate(422.5,394.47) scale(0.88,1)" text-anchor="end" font-family="'Liberation Sans', sans-serif" font-size="6.45" fill="#474747">G14_Poor_Imp_Contr</text><line x1="432.8" x2="435.40000000000003" y1="385.17" y2="385.17" stroke="#222" stroke-width="1"/><text transform="translate(438.9,386.22) scale(1,0.78)" font-family="'Liberation Sans', sans-serif" font-size="3.8" fill="#606060" text-rendering="optimizeSpeed">1.00</text><line x1="432.8" x2="435.40000000000003" y1="388.41" y2="388.41" stroke="#222" stroke-width="1"/><text transform="translate(438.9,389.46) scale(1,0.78)" font-family="'Liberation Sans', sans-serif" font-size="3.8" fill="#606060" text-rendering="optimizeSpeed">0.80</text><line x1="432.8" x2="435.40000000000003" y1="391.65" y2="391.65" stroke="#222" stroke-width="1"/><text transform="translate(438.9,392.70) scale(1,0.78)" font-family="'Liberation Sans', sans-serif" font-size="3.8" fill="#606060" text-rendering="optimizeSpeed">0.60</text><line x1="432.8" x2="435.40000000000003" y1="394.89" y2="394.89" stroke="#222" stroke-width="1"/><text transform="translate(438.9,395.94) scale(1,0.78)" font-family="'Liberation Sans', sans-serif" font-size="3.8" fill="#606060" text-rendering="optimizeSpeed">0.40</text><line x1="432.8" x2="435.40000000000003" y1="398.13" y2="398.13" stroke="#222" stroke-width="1"/><text transform="translate(438.9,399.18) scale(1,0.78)" font-family="'Liberation Sans', sans-serif" font-size="3.8" fill="#606060" text-rendering="optimizeSpeed">0.20</text><line x1="432.8" x2="435.40000000000003" y1="401.37" y2="401.37" stroke="#222" stroke-width="1"/><text transform="translate(438.9,402.42) scale(1,0.78)" font-family="'Liberation Sans', sans-serif" font-size="3.8" fill="#606060" text-rendering="optimizeSpeed">0.00</text><line x1="674.3" x2="684.5" y1="401.37" y2="401.37" stroke="#b4b4b4" stroke-width="0.7"/><path d="M680.10 385.57L680.10 383.47M680.10 385.57L682.10 384.92M680.10 385.57L681.33 387.27M680.10 385.57L678.87 387.27M680.10 385.57L678.10 384.92" stroke="#606060" stroke-width="0.85" stroke-linecap="round" fill="none"/><rect x="454.3" y="402.77" width="220.0" height="17.17" fill="#e6e6e6"/><line x1="454.3" x2="674.3" y1="416.22" y2="416.22" stroke="#fafafa" stroke-width="0.9"/><line x1="454.3" x2="674.3" y1="412.98" y2="412.98" stroke="#fafafa" stroke-width="0.9"/><line x1="454.3" x2="674.3" y1="409.74" y2="409.74" stroke="#fafafa" stroke-width="0.9"/><line x1="454.3" x2="674.3" y1="406.50" y2="406.50" stroke="#fafafa" stroke-width="0.9"/><line x1="482.0" x2="482.0" y1="402.77" y2="419.95" stroke="#fafafa" stroke-width="0.9"/><line x1="509.5" x2="509.5" y1="402.77" y2="419.95" stroke="#fafafa" stroke-width="0.9"/><line x1="536.9" x2="536.9" y1="402.77" y2="419.95" stroke="#fafafa" stroke-width="0.9"/><line x1="564.3" x2="564.3" y1="402.77" y2="419.95" stroke="#fafafa" stroke-width="0.9"/><line x1="591.8" x2="591.8" y1="402.77" y2="419.95" stroke="#fafafa" stroke-width="0.9"/><line x1="619.2" x2="619.2" y1="402.77" y2="419.95" stroke="#fafafa" stroke-width="0.9"/><line x1="646.6" x2="646.6" y1="402.77" y2="419.95" stroke="#fafafa" stroke-width="0.9"/><polyline fill="none" stroke="#e4506a" stroke-width="1.1" stroke-linejoin="round" points="454.6,403.3 477.9,403.4 493,403.7 504,404.3 509.5,404.7 513.6,405.2 517.7,405.8 521.8,406.5 528.7,407.9 535.5,409.8 549.2,413.7 553.3,414.8 557.5,415.7 561.6,416.5 567.1,417.4 571.2,417.8 576.7,418.3 582.1,418.7 589,419 604.1,419.3 626,419.4 674,419.5"/><polyline fill="none" stroke="#5cce4c" stroke-width="1.1" stroke-linejoin="round" points="454.6,419.4 490.3,419.2 501.2,419 510.8,418.6 517.7,418.2 523.2,417.7 530,416.9 543.7,415 547.9,414.7 550.6,414.6 553.3,414.7 557.5,415 572.5,417.1 579.4,417.8 586.3,418.4 594.5,418.8 605.5,419.1 620.6,419.3 674,419.5"/><polyline fill="none" stroke="#2b8fe6" stroke-width="1.1" stroke-linejoin="round" points="454.6,419.4 486.1,419.4 506.7,419.2 521.8,418.9 534.1,418.4 542.4,417.8 550.6,416.9 558.8,415.7 571.2,413.5 575.3,412.8 579.4,412.3 583.5,412.2 587.6,412.3 591.8,412.8 595.9,413.5 606.8,415.5 612.3,416.4 619.2,417.2 626,417.9 634.3,418.4 645.2,418.9 657.6,419.2 674,419.3"/><polyline fill="none" stroke="#26dbe3" stroke-width="1.1" stroke-linejoin="round" points="454.6,419.4 487.5,419.4 509.5,419.3 525.9,419 538.3,418.5 547.9,418 556.1,417.2 564.3,416.1 576.7,414.1 580.8,413.5 584.9,413.1 589,413 593.1,413.1 597.2,413.5 616.4,416.5 623.3,417.3 630.2,418 638.4,418.5 648,418.9 659,419.1 674,419.3"/><polyline fill="none" stroke="#cc1fcc" stroke-width="1.1" stroke-linejoin="round" points="454.6,419.5 517.7,419.4 547.9,419.3 567.1,419 591.8,418.3 600,418.2 617.8,418.3 674,419"/><polyline fill="none" stroke="#f4c21a" stroke-width="1.1" stroke-linejoin="round" points="454.6,419.5 514.9,419.4 543.7,419.3 564.3,418.9 572.5,418.5 579.4,418.1 584.9,417.7 590.4,417.1 595.9,416.4 601.4,415.5 611,413.6 632.9,408.6 639.8,407.2 645.2,406.4 652.1,405.5 659,404.8 665.8,404.3 674,403.9"/><line x1="552.70" x2="552.70" y1="419.46" y2="414.64" stroke="#5cce4c" stroke-width="0.8"/><circle cx="552.70" cy="419.56" r="1.75" fill="#5cce4c"/><line x1="574.00" x2="574.00" y1="419.46" y2="418.12" stroke="#e4506a" stroke-width="0.8"/><circle cx="574.00" cy="419.56" r="1.75" fill="#e4506a"/><line x1="597.30" x2="597.30" y1="419.46" y2="413.71" stroke="#2b8fe6" stroke-width="0.8"/><circle cx="597.30" cy="419.56" r="1.75" fill="#2b8fe6"/><line x1="599.80" x2="599.80" y1="419.46" y2="418.16" stroke="#cc1fcc" stroke-width="0.8"/><circle cx="599.80" cy="419.56" r="1.75" fill="#cc1fcc"/><line x1="619.20" x2="619.20" y1="419.46" y2="416.88" stroke="#26dbe3" stroke-width="0.8"/><circle cx="619.20" cy="419.56" r="1.75" fill="#26dbe3"/><line x1="427.8" x2="432.8" y1="410.76" y2="410.76" stroke="#333" stroke-width="0.9"/><text transform="translate(422.5,412.56) scale(0.88,1)" text-anchor="end" font-family="'Liberation Sans', sans-serif" font-size="6.45" fill="#474747">G15_Preocc</text><line x1="432.8" x2="435.40000000000003" y1="403.26" y2="403.26" stroke="#222" stroke-width="1"/><text transform="translate(438.9,404.31) scale(1,0.78)" font-family="'Liberation Sans', sans-serif" font-size="3.8" fill="#606060" text-rendering="optimizeSpeed">1.00</text><line x1="432.8" x2="435.40000000000003" y1="406.50" y2="406.50" stroke="#222" stroke-width="1"/><text transform="translate(438.9,407.55) scale(1,0.78)" font-family="'Liberation Sans', sans-serif" font-size="3.8" fill="#606060" text-rendering="optimizeSpeed">0.80</text><line x1="432.8" x2="435.40000000000003" y1="409.74" y2="409.74" stroke="#222" stroke-width="1"/><text transform="translate(438.9,410.79) scale(1,0.78)" font-family="'Liberation Sans', sans-serif" font-size="3.8" fill="#606060" text-rendering="optimizeSpeed">0.60</text><line x1="432.8" x2="435.40000000000003" y1="412.98" y2="412.98" stroke="#222" stroke-width="1"/><text transform="translate(438.9,414.03) scale(1,0.78)" font-family="'Liberation Sans', sans-serif" font-size="3.8" fill="#606060" text-rendering="optimizeSpeed">0.40</text><line x1="432.8" x2="435.40000000000003" y1="416.22" y2="416.22" stroke="#222" stroke-width="1"/><text transform="translate(438.9,417.27) scale(1,0.78)" font-family="'Liberation Sans', sans-serif" font-size="3.8" fill="#606060" text-rendering="optimizeSpeed">0.20</text><line x1="432.8" x2="435.40000000000003" y1="419.46" y2="419.46" stroke="#222" stroke-width="1"/><text transform="translate(438.9,420.51) scale(1,0.78)" font-family="'Liberation Sans', sans-serif" font-size="3.8" fill="#606060" text-rendering="optimizeSpeed">0.00</text><line x1="674.3" x2="684.5" y1="419.46" y2="419.46" stroke="#b4b4b4" stroke-width="0.7"/><path d="M680.10 403.66L680.10 401.56M680.10 403.66L682.10 403.01M680.10 403.66L681.33 405.36M680.10 403.66L678.87 405.36M680.10 403.66L678.10 403.01" stroke="#606060" stroke-width="0.85" stroke-linecap="round" fill="none"/><rect x="454.3" y="420.86" width="220.0" height="17.17" fill="#e6e6e6"/><line x1="454.3" x2="674.3" y1="434.31" y2="434.31" stroke="#fafafa" stroke-width="0.9"/><line x1="454.3" x2="674.3" y1="431.07" y2="431.07" stroke="#fafafa" stroke-width="0.9"/><line x1="454.3" x2="674.3" y1="427.83" y2="427.83" stroke="#fafafa" stroke-width="0.9"/><line x1="454.3" x2="674.3" y1="424.59" y2="424.59" stroke="#fafafa" stroke-width="0.9"/><line x1="482.0" x2="482.0" y1="420.86" y2="438.04" stroke="#fafafa" stroke-width="0.9"/><line x1="509.5" x2="509.5" y1="420.86" y2="438.04" stroke="#fafafa" stroke-width="0.9"/><line x1="536.9" x2="536.9" y1="420.86" y2="438.04" stroke="#fafafa" stroke-width="0.9"/><line x1="564.3" x2="564.3" y1="420.86" y2="438.04" stroke="#fafafa" stroke-width="0.9"/><line x1="591.8" x2="591.8" y1="420.86" y2="438.04" stroke="#fafafa" stroke-width="0.9"/><line x1="619.2" x2="619.2" y1="420.86" y2="438.04" stroke="#fafafa" stroke-width="0.9"/><line x1="646.6" x2="646.6" y1="420.86" y2="438.04" stroke="#fafafa" stroke-width="0.9"/><polyline fill="none" stroke="#e4506a" stroke-width="1.1" stroke-linejoin="round" points="454.6,421.4 480.7,421.5 497.1,421.8 509.5,422.4 514.9,422.8 520.4,423.3 528.7,424.5 536.9,426 543.7,427.7 560.2,431.9 568.4,433.7 572.5,434.4 578,435.3 583.5,435.9 589,436.3 601.4,437 616.4,437.3 637,437.5 674,437.5"/><polyline fill="none" stroke="#5cce4c" stroke-width="1.1" stroke-linejoin="round" points="454.6,437.5 493,437.4 514.9,437.2 528.7,436.7 549.2,435.3 556.1,435.1 562.9,435.3 578,436.4 584.9,436.7 600,437.2 624.7,437.5 674,437.5"/><polyline fill="none" stroke="#2b8fe6" stroke-width="1.1" stroke-linejoin="round" points="454.6,437.5 509.5,437.4 524.5,437.2 535.5,436.8 543.7,436.3 550.6,435.7 557.5,434.8 572.5,432.5 576.7,432.1 579.4,432 582.1,432.1 586.3,432.5 600,434.6 606.8,435.5 612.3,436.1 619.2,436.6 628.8,437 639.8,437.3 653.5,437.4 674,437.5"/><polyline fill="none" stroke="#26dbe3" stroke-width="1.1" stroke-linejoin="round" points="454.6,437.5 524.5,437.4 542.4,437.3 556.1,436.9 565.7,436.6 575.3,435.9 583.5,435.2 601.4,433.1 605.5,432.8 609.6,432.7 613.7,432.8 617.8,433.1 635.6,435.2 646.6,436.2 659,436.8 674,437.2"/><polyline fill="none" stroke="#cc1fcc" stroke-width="1.1" stroke-linejoin="round" points="454.6,437.5 538.3,437.4 558.8,437.3 573.9,436.9 584.9,436.4 594.5,435.7 604.1,434.7 620.6,432.4 624.7,432 628.8,431.9 635.6,432 643.9,432.4 674,434.8"/><polyline fill="none" stroke="#f4c21a" stroke-width="1.1" stroke-linejoin="round" points="454.6,437.5 527.3,437.5 558.8,437.4 580.8,437 589,436.8 595.9,436.4 602.7,435.9 608.2,435.3 613.7,434.6 619.2,433.8 628.8,432 648,427.5 656.2,425.8 664.4,424.5 674,423.3"/><line x1="560.90" x2="560.90" y1="437.55" y2="435.22" stroke="#5cce4c" stroke-width="0.8"/><circle cx="560.90" cy="437.65" r="1.75" fill="#5cce4c"/><line x1="568.80" x2="568.80" y1="437.55" y2="433.78" stroke="#e4506a" stroke-width="0.8"/><circle cx="568.80" cy="437.65" r="1.75" fill="#e4506a"/><line x1="586.90" x2="586.90" y1="437.55" y2="432.57" stroke="#2b8fe6" stroke-width="0.8"/><circle cx="586.90" cy="437.65" r="1.75" fill="#2b8fe6"/><line x1="614.20" x2="614.20" y1="437.55" y2="432.84" stroke="#26dbe3" stroke-width="0.8"/><circle cx="614.20" cy="437.65" r="1.75" fill="#26dbe3"/><line x1="629.80" x2="629.80" y1="437.55" y2="431.88" stroke="#cc1fcc" stroke-width="0.8"/><circle cx="629.80" cy="437.65" r="1.75" fill="#cc1fcc"/><line x1="427.8" x2="432.8" y1="428.85" y2="428.85" stroke="#333" stroke-width="0.9"/><text transform="translate(422.5,430.65) scale(0.88,1)" text-anchor="end" font-family="'Liberation Sans', sans-serif" font-size="6.45" fill="#474747">G16_Active_Soc_Avoid</text><line x1="432.8" x2="435.40000000000003" y1="421.35" y2="421.35" stroke="#222" stroke-width="1"/><text transform="translate(438.9,422.40) scale(1,0.78)" font-family="'Liberation Sans', sans-serif" font-size="3.8" fill="#606060" text-rendering="optimizeSpeed">1.00</text><line x1="432.8" x2="435.40000000000003" y1="424.59" y2="424.59" stroke="#222" stroke-width="1"/><text transform="translate(438.9,425.64) scale(1,0.78)" font-family="'Liberation Sans', sans-serif" font-size="3.8" fill="#606060" text-rendering="optimizeSpeed">0.80</text><line x1="432.8" x2="435.40000000000003" y1="427.83" y2="427.83" stroke="#222" stroke-width="1"/><text transform="translate(438.9,428.88) scale(1,0.78)" font-family="'Liberation Sans', sans-serif" font-size="3.8" fill="#606060" text-rendering="optimizeSpeed">0.60</text><line x1="432.8" x2="435.40000000000003" y1="431.07" y2="431.07" stroke="#222" stroke-width="1"/><text transform="translate(438.9,432.12) scale(1,0.78)" font-family="'Liberation Sans', sans-serif" font-size="3.8" fill="#606060" text-rendering="optimizeSpeed">0.40</text><line x1="432.8" x2="435.40000000000003" y1="434.31" y2="434.31" stroke="#222" stroke-width="1"/><text transform="translate(438.9,435.36) scale(1,0.78)" font-family="'Liberation Sans', sans-serif" font-size="3.8" fill="#606060" text-rendering="optimizeSpeed">0.20</text><line x1="432.8" x2="435.40000000000003" y1="437.55" y2="437.55" stroke="#222" stroke-width="1"/><text transform="translate(438.9,438.60) scale(1,0.78)" font-family="'Liberation Sans', sans-serif" font-size="3.8" fill="#606060" text-rendering="optimizeSpeed">0.00</text><line x1="674.3" x2="684.5" y1="437.55" y2="437.55" stroke="#b4b4b4" stroke-width="0.7"/><path d="M680.10 421.75L680.10 419.65M680.10 421.75L682.10 421.10M680.10 421.75L681.33 423.45M680.10 421.75L678.87 423.45M680.10 421.75L678.10 421.10" stroke="#606060" stroke-width="0.85" stroke-linecap="round" fill="none"/><path d="M684.5 148.0 V439.2" fill="none" stroke="#9a9a9a" stroke-width="1.2"/><path d="M432.8 148.0 V439.2" fill="none" stroke="#555" stroke-width="1.2"/><path d="M432.2 439.2 H684.5" fill="none" stroke="#2a2a2a" stroke-width="1.1"/><line x1="454.6" x2="454.6" y1="439.2" y2="444.8" stroke="#222" stroke-width="0.9"/><text transform="translate(454.6,458.9) scale(0.8,1)" text-anchor="middle" font-family="'Liberation Sans', sans-serif" font-size="8" fill="#4d4d4d">&#8722;4</text><line x1="482.0" x2="482.0" y1="439.2" y2="444.8" stroke="#222" stroke-width="0.9"/><text transform="translate(482.0,458.9) scale(0.8,1)" text-anchor="middle" font-family="'Liberation Sans', sans-serif" font-size="8" fill="#4d4d4d">&#8722;3</text><line x1="509.5" x2="509.5" y1="439.2" y2="444.8" stroke="#222" stroke-width="0.9"/><text transform="translate(509.5,458.9) scale(0.8,1)" text-anchor="middle" font-family="'Liberation Sans', sans-serif" font-size="8" fill="#4d4d4d">&#8722;2</text><line x1="536.9" x2="536.9" y1="439.2" y2="444.8" stroke="#222" stroke-width="0.9"/><text transform="translate(536.9,458.9) scale(0.8,1)" text-anchor="middle" font-family="'Liberation Sans', sans-serif" font-size="8" fill="#4d4d4d">&#8722;1</text><line x1="564.3" x2="564.3" y1="439.2" y2="444.8" stroke="#222" stroke-width="0.9"/><text transform="translate(564.3,458.9) scale(0.8,1)" text-anchor="middle" font-family="'Liberation Sans', sans-serif" font-size="8" fill="#4d4d4d">0</text><line x1="591.8" x2="591.8" y1="439.2" y2="444.8" stroke="#222" stroke-width="0.9"/><text transform="translate(591.8,458.9) scale(0.8,1)" text-anchor="middle" font-family="'Liberation Sans', sans-serif" font-size="8" fill="#4d4d4d">1</text><line x1="619.2" x2="619.2" y1="439.2" y2="444.8" stroke="#222" stroke-width="0.9"/><text transform="translate(619.2,458.9) scale(0.8,1)" text-anchor="middle" font-family="'Liberation Sans', sans-serif" font-size="8" fill="#4d4d4d">2</text><line x1="646.6" x2="646.6" y1="439.2" y2="444.8" stroke="#222" stroke-width="0.9"/><text transform="translate(646.6,458.9) scale(0.8,1)" text-anchor="middle" font-family="'Liberation Sans', sans-serif" font-size="8" fill="#4d4d4d">3</text><line x1="674.0" x2="674.0" y1="439.2" y2="444.8" stroke="#222" stroke-width="0.9"/><text transform="translate(674.0,458.9) scale(0.8,1)" text-anchor="middle" font-family="'Liberation Sans', sans-serif" font-size="8" fill="#4d4d4d">4</text><text x="680.9000000000001" y="445.3" text-anchor="end" font-family="'Liberation Sans', sans-serif" font-size="5.75" fill="#505050">RMK: min/Rasch</text></svg></body></html>
